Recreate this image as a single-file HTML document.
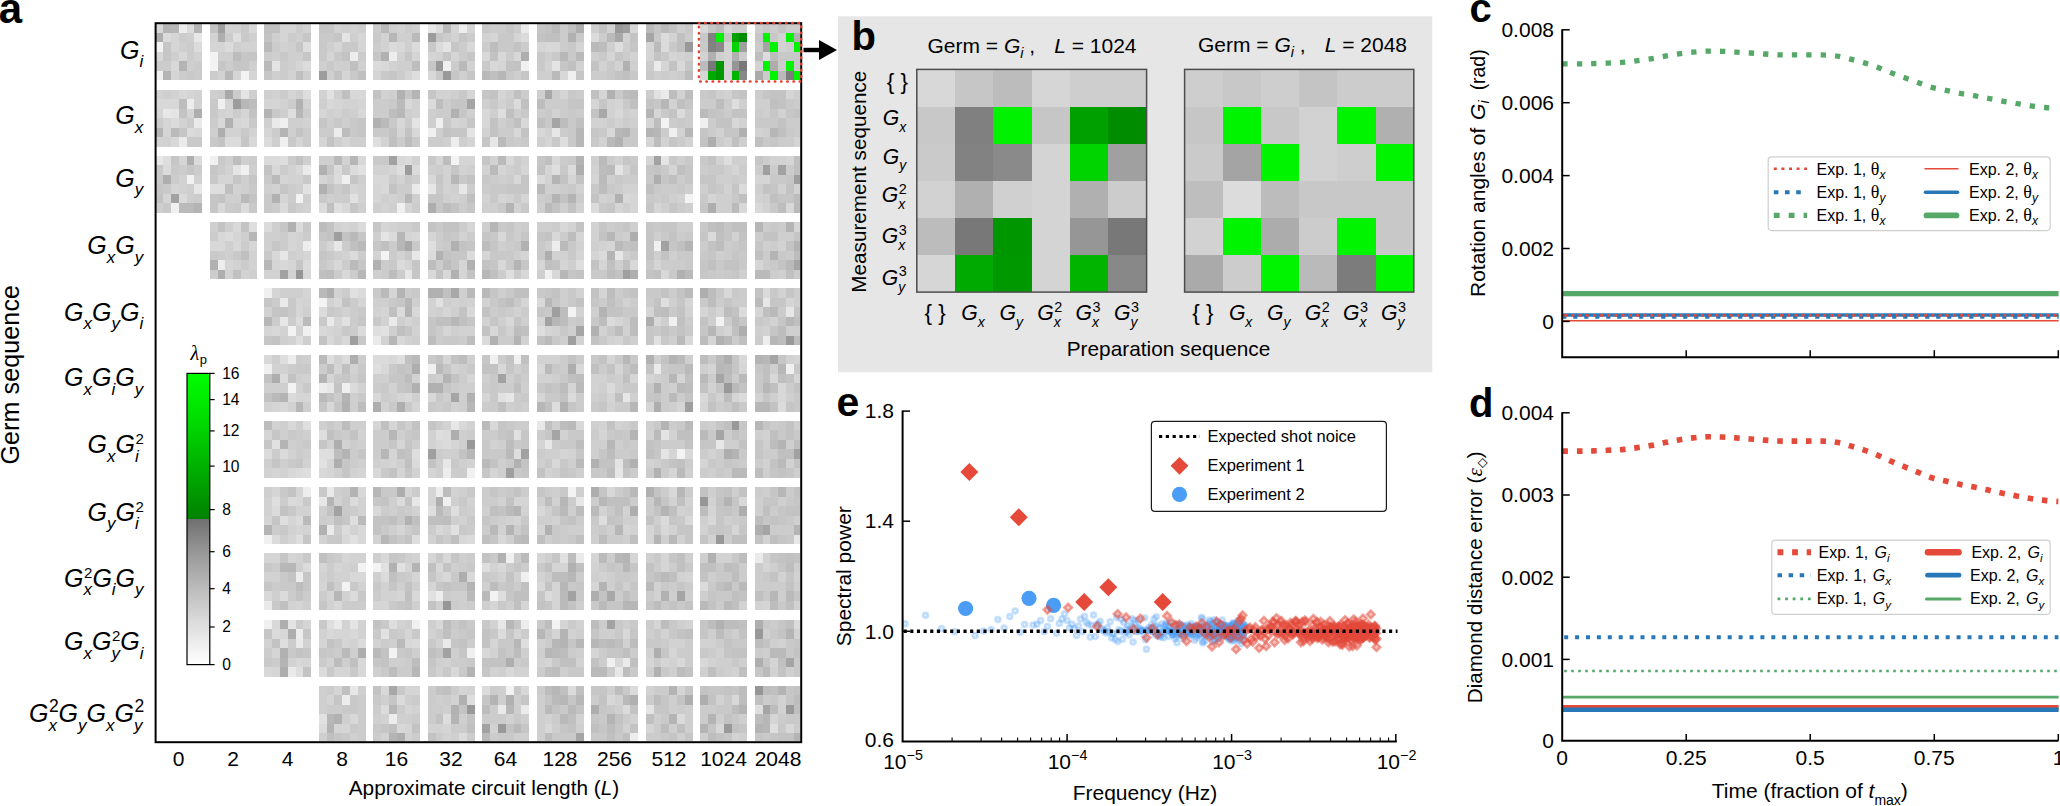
<!DOCTYPE html>
<html><head><meta charset="utf-8"><title>Figure</title>
<style>
html,body{margin:0;padding:0;background:#fff}
svg{display:block}
text{font-family:"Liberation Sans",sans-serif;fill:#000}
.it{font-style:italic}
.sf{font-family:"Liberation Serif",serif}
.ss{font-family:"Liberation Sans",sans-serif}
.b{font-weight:bold}
</style></head><body>
<svg width="2060" height="806" viewBox="0 0 2060 806">
<rect width="2060" height="806" fill="#fff"/>
<g shape-rendering="crispEdges">
<path fill="#d8d8d8" d="M156.4 24H163.1V32.8H156.4zM156.4 51.8H163.1V61.3H156.4zM178.7 51.8H186.5V61.3H178.7zM170.9 61.3H178.7V70.8H170.9zM248.8 24H256.6V32.8H248.8zM396.7 42.3H404.5V51.8H396.7zM381.1 61.3H388.9V70.8H381.1zM466.8 42.3H474.6V51.8H466.8zM427.8 70.8H435.6V80.3H427.8zM482.3 51.8H490.1V61.3H482.3zM497.9 51.8H505.7V61.3H497.9zM513.5 51.8H521.3V61.3H513.5zM490.1 61.3H497.9V70.8H490.1zM544.6 42.3H552.4V51.8H544.6zM552.4 42.3H560.2V51.8H552.4zM560.2 70.8H568V80.3H560.2zM630.3 24H638.1V32.8H630.3zM677 61.3H684.8V70.8H677zM700.3 24H708.1V32.8H700.3zM178.7 89.5H186.5V99H178.7zM156.4 99H163.1V108.5H156.4zM163.1 99H170.9V108.5H163.1zM170.9 99H178.7V108.5H170.9zM194.3 127.5H202.1V137.1H194.3zM170.9 137.1H178.7V146.6H170.9zM217.6 118H225.4V127.5H217.6zM241 118H248.8V127.5H241zM248.8 137.1H256.6V146.6H248.8zM350 89.5H357.8V99H350zM357.8 89.5H365.6V99H357.8zM326.6 99H334.4V108.5H326.6zM357.8 108.5H365.6V118H357.8zM404.5 99H412.3V108.5H404.5zM396.7 118H404.5V127.5H396.7zM412.3 127.5H420.1V137.1H412.3zM482.3 108.5H490.1V118H482.3zM482.3 118H490.1V127.5H482.3zM521.3 118H529.1V127.5H521.3zM513.5 127.5H521.3V137.1H513.5zM536.8 127.5H544.6V137.1H536.8zM614.7 108.5H622.5V118H614.7zM606.9 127.5H614.7V137.1H606.9zM731.5 118H739.3V127.5H731.5zM217.6 203.3H225.4V212.8H217.6zM272.1 165.3H279.9V174.8H272.1zM295.5 165.3H303.3V174.8H295.5zM357.8 155.8H365.6V165.3H357.8zM342.2 203.3H350V212.8H342.2zM396.7 155.8H404.5V165.3H396.7zM373.3 174.8H381.1V184.3H373.3zM381.1 174.8H388.9V184.3H381.1zM381.1 184.3H388.9V193.8H381.1zM427.8 174.8H435.6V184.3H427.8zM505.7 155.8H513.5V165.3H505.7zM513.5 174.8H521.3V184.3H513.5zM552.4 155.8H560.2V165.3H552.4zM622.5 193.8H630.3V203.3H622.5zM739.3 203.3H747.1V212.8H739.3zM754.8 203.3H762.6V212.8H754.8zM786 203.3H793.8V212.8H786zM233.2 222.1H241V231.6H233.2zM217.6 231.6H225.4V241.1H217.6zM209.8 241.1H217.6V250.6H209.8zM217.6 241.1H225.4V250.6H217.6zM233.2 241.1H241V250.6H233.2zM272.1 250.6H279.9V260.1H272.1zM279.9 260.1H287.7V269.6H279.9zM303.3 269.6H311.1V279.1H303.3zM334.4 260.1H342.2V269.6H334.4zM342.2 269.6H350V279.1H342.2zM412.3 231.6H420.1V241.1H412.3zM427.8 269.6H435.6V279.1H427.8zM443.4 269.6H451.2V279.1H443.4zM497.9 231.6H505.7V241.1H497.9zM497.9 260.1H505.7V269.6H497.9zM521.3 269.6H529.1V279.1H521.3zM560.2 222.1H568V231.6H560.2zM552.4 231.6H560.2V241.1H552.4zM552.4 269.6H560.2V279.1H552.4zM630.3 260.1H638.1V269.6H630.3zM661.4 269.6H669.2V279.1H661.4zM272.1 326.3H279.9V335.8H272.1zM334.4 297.8H342.2V307.3H334.4zM318.8 326.3H326.6V335.8H318.8zM326.6 335.8H334.4V345.3H326.6zM342.2 335.8H350V345.3H342.2zM412.3 307.3H420.1V316.8H412.3zM396.7 335.8H404.5V345.3H396.7zM466.8 307.3H474.6V316.8H466.8zM505.7 316.8H513.5V326.3H505.7zM490.1 326.3H497.9V335.8H490.1zM536.8 297.8H544.6V307.3H536.8zM653.6 316.8H661.4V326.3H653.6zM684.8 335.8H692.6V345.3H684.8zM723.7 288.3H731.5V297.8H723.7zM264.3 354.6H272.1V364.1H264.3zM279.9 402.1H287.7V411.6H279.9zM326.6 402.1H334.4V411.6H326.6zM388.9 354.6H396.7V364.1H388.9zM381.1 364.1H388.9V373.6H381.1zM373.3 392.6H381.1V402.1H373.3zM404.5 392.6H412.3V402.1H404.5zM427.8 392.6H435.6V402.1H427.8zM497.9 364.1H505.7V373.6H497.9zM536.8 364.1H544.6V373.6H536.8zM575.8 364.1H583.6V373.6H575.8zM739.3 354.6H747.1V364.1H739.3zM700.3 392.6H708.1V402.1H700.3zM770.4 373.6H778.2V383.1H770.4zM778.2 383.1H786V392.6H778.2zM778.2 392.6H786V402.1H778.2zM287.7 420.8H295.5V430.3H287.7zM287.7 468.3H295.5V477.8H287.7zM318.8 468.3H326.6V477.8H318.8zM373.3 468.3H381.1V477.8H373.3zM459 420.8H466.8V430.3H459zM435.6 439.8H443.4V449.3H435.6zM490.1 420.8H497.9V430.3H490.1zM575.8 420.8H583.6V430.3H575.8zM552.4 458.8H560.2V468.3H552.4zM684.8 449.3H692.6V458.8H684.8zM295.5 496.6H303.3V506.1H295.5zM357.8 487.1H365.6V496.6H357.8zM357.8 525H365.6V534.5H357.8zM342.2 534.5H350V544H342.2zM357.8 534.5H365.6V544H357.8zM373.3 506.1H381.1V515.5H373.3zM435.6 525H443.4V534.5H435.6zM459 534.5H466.8V544H459zM497.9 534.5H505.7V544H497.9zM536.8 506.1H544.6V515.5H536.8zM606.9 487.1H614.7V496.6H606.9zM669.2 487.1H677V496.6H669.2zM684.8 515.5H692.6V525H684.8zM661.4 525H669.2V534.5H661.4zM739.3 496.6H747.1V506.1H739.3zM708.1 515.5H715.9V525H708.1zM264.3 591.3H272.1V600.8H264.3zM350 572.3H357.8V581.8H350zM357.8 572.3H365.6V581.8H357.8zM334.4 600.8H342.2V610.3H334.4zM381.1 553.3H388.9V562.8H381.1zM412.3 591.3H420.1V600.8H412.3zM443.4 553.3H451.2V562.8H443.4zM435.6 562.8H443.4V572.3H435.6zM443.4 572.3H451.2V581.8H443.4zM466.8 572.3H474.6V581.8H466.8zM497.9 562.8H505.7V572.3H497.9zM536.8 581.8H544.6V591.3H536.8zM272.1 619.5H279.9V629H272.1zM279.9 629H287.7V638.5H279.9zM295.5 657.5H303.3V667H295.5zM264.3 667H272.1V676.5H264.3zM326.6 629H334.4V638.5H326.6zM350 629H357.8V638.5H350zM357.8 657.5H365.6V667H357.8zM357.8 667H365.6V676.5H357.8zM404.5 638.5H412.3V648H404.5zM435.6 619.5H443.4V629H435.6zM451.2 667H459V676.5H451.2zM482.3 648H490.1V657.5H482.3zM505.7 667H513.5V676.5H505.7zM622.5 629H630.3V638.5H622.5zM614.7 657.5H622.5V667H614.7zM677 657.5H684.8V667H677zM700.3 657.5H708.1V667H700.3zM350 714.3H357.8V723.8H350zM381.1 685.8H388.9V695.3H381.1zM396.7 723.8H404.5V733.3H396.7zM521.3 685.8H529.1V695.3H521.3zM544.6 723.8H552.4V733.3H544.6zM606.9 695.3H614.7V704.8H606.9zM731.5 695.3H739.3V704.8H731.5zM715.9 723.8H723.7V733.3H715.9zM786 723.8H793.8V733.3H786z"/>
<path fill="#b4b4b4" d="M163.1 24H170.9V32.8H163.1zM194.3 24H202.1V32.8H194.3zM178.7 61.3H186.5V70.8H178.7zM163.1 70.8H170.9V80.3H163.1zM156.4 127.5H163.1V137.1H156.4zM264.3 108.5H272.1V118H264.3zM279.9 127.5H287.7V137.1H279.9zM412.3 89.5H420.1V99H412.3zM622.5 127.5H630.3V137.1H622.5zM645.8 108.5H653.6V118H645.8zM645.8 127.5H653.6V137.1H645.8zM194.3 203.3H202.1V212.8H194.3zM505.7 203.3H513.5V212.8H505.7zM575.8 155.8H583.6V165.3H575.8zM552.4 174.8H560.2V184.3H552.4zM552.4 193.8H560.2V203.3H552.4zM568 193.8H575.8V203.3H568zM513.5 260.1H521.3V269.6H513.5zM606.9 250.6H614.7V260.1H606.9zM684.8 241.1H692.6V250.6H684.8zM786 222.1H793.8V231.6H786zM793.8 241.1H800.4V250.6H793.8zM770.4 250.6H778.2V260.1H770.4zM396.7 288.3H404.5V297.8H396.7zM404.5 307.3H412.3V316.8H404.5zM513.5 335.8H521.3V345.3H513.5zM599.1 307.3H606.9V316.8H599.1zM279.9 392.6H287.7V402.1H279.9zM318.8 373.6H326.6V383.1H318.8zM342.2 392.6H350V402.1H342.2zM443.4 373.6H451.2V383.1H443.4zM669.2 354.6H677V364.1H669.2zM754.8 354.6H762.6V364.1H754.8zM279.9 439.8H287.7V449.3H279.9zM342.2 449.3H350V458.8H342.2zM630.3 430.3H638.1V439.8H630.3zM661.4 420.8H669.2V430.3H661.4zM731.5 449.3H739.3V458.8H731.5zM778.2 439.8H786V449.3H778.2zM264.3 525H272.1V534.5H264.3zM350 487.1H357.8V496.6H350zM326.6 496.6H334.4V506.1H326.6zM513.5 506.1H521.3V515.5H513.5zM505.7 525H513.5V534.5H505.7zM661.4 506.1H669.2V515.5H661.4zM653.6 534.5H661.4V544H653.6zM723.7 496.6H731.5V506.1H723.7zM793.8 525H800.4V534.5H793.8zM412.3 562.8H420.1V572.3H412.3zM466.8 581.8H474.6V591.3H466.8zM622.5 553.3H630.3V562.8H622.5zM599.1 581.8H606.9V591.3H599.1zM279.9 657.5H287.7V667H279.9zM466.8 667H474.6V676.5H466.8zM560.2 629H568V638.5H560.2zM560.2 638.5H568V648H560.2zM786 629H793.8V638.5H786zM326.6 723.8H334.4V733.3H326.6zM388.9 733.3H396.7V741.4H388.9zM451.2 714.3H459V723.8H451.2zM490.1 695.3H497.9V704.8H490.1zM606.9 714.3H614.7V723.8H606.9zM669.2 685.8H677V695.3H669.2zM669.2 714.3H677V723.8H669.2zM739.3 704.8H747.1V714.3H739.3zM708.1 714.3H715.9V723.8H708.1zM700.3 723.8H708.1V733.3H700.3zM778.2 685.8H786V695.3H778.2zM754.8 723.8H762.6V733.3H754.8zM793.8 733.3H800.4V741.4H793.8z"/>
<path fill="#b7b7b7" d="M170.9 24H178.7V32.8H170.9zM225.4 70.8H233.2V80.3H225.4zM388.9 32.8H396.7V42.3H388.9zM497.9 70.8H505.7V80.3H497.9zM560.2 51.8H568V61.3H560.2zM241 99H248.8V108.5H241zM295.5 108.5H303.3V118H295.5zM396.7 108.5H404.5V118H396.7zM575.8 127.5H583.6V137.1H575.8zM575.8 137.1H583.6V146.6H575.8zM614.7 127.5H622.5V137.1H614.7zM661.4 99H669.2V108.5H661.4zM653.6 127.5H661.4V137.1H653.6zM684.8 127.5H692.6V137.1H684.8zM770.4 127.5H778.2V137.1H770.4zM350 155.8H357.8V165.3H350zM404.5 193.8H412.3V203.3H404.5zM451.2 174.8H459V184.3H451.2zM248.8 231.6H256.6V241.1H248.8zM264.3 260.1H272.1V269.6H264.3zM357.8 269.6H365.6V279.1H357.8zM396.7 231.6H404.5V241.1H396.7zM396.7 241.1H404.5V250.6H396.7zM490.1 222.1H497.9V231.6H490.1zM482.3 269.6H490.1V279.1H482.3zM560.2 269.6H568V279.1H560.2zM606.9 231.6H614.7V241.1H606.9zM754.8 222.1H762.6V231.6H754.8zM264.3 316.8H272.1V326.3H264.3zM404.5 297.8H412.3V307.3H404.5zM388.9 335.8H396.7V345.3H388.9zM451.2 316.8H459V326.3H451.2zM544.6 297.8H552.4V307.3H544.6zM552.4 316.8H560.2V326.3H552.4zM708.1 326.3H715.9V335.8H708.1zM786 316.8H793.8V326.3H786zM770.4 335.8H778.2V345.3H770.4zM295.5 402.1H303.3V411.6H295.5zM466.8 402.1H474.6V411.6H466.8zM536.8 402.1H544.6V411.6H536.8zM622.5 354.6H630.3V364.1H622.5zM630.3 402.1H638.1V411.6H630.3zM669.2 373.6H677V383.1H669.2zM715.9 364.1H723.7V373.6H715.9zM762.6 354.6H770.4V364.1H762.6zM778.2 364.1H786V373.6H778.2zM762.6 383.1H770.4V392.6H762.6zM754.8 402.1H762.6V411.6H754.8zM762.6 402.1H770.4V411.6H762.6zM388.9 430.3H396.7V439.8H388.9zM381.1 449.3H388.9V458.8H381.1zM466.8 449.3H474.6V458.8H466.8zM606.9 439.8H614.7V449.3H606.9zM754.8 420.8H762.6V430.3H754.8zM373.3 487.1H381.1V496.6H373.3zM381.1 534.5H388.9V544H381.1zM560.2 496.6H568V506.1H560.2zM599.1 496.6H606.9V506.1H599.1zM614.7 525H622.5V534.5H614.7zM677 487.1H684.8V496.6H677zM653.6 496.6H661.4V506.1H653.6zM778.2 487.1H786V496.6H778.2zM279.9 562.8H287.7V572.3H279.9zM287.7 562.8H295.5V572.3H287.7zM334.4 591.3H342.2V600.8H334.4zM568 572.3H575.8V581.8H568zM560.2 581.8H568V591.3H560.2zM614.7 553.3H622.5V562.8H614.7zM622.5 562.8H630.3V572.3H622.5zM622.5 600.8H630.3V610.3H622.5zM630.3 600.8H638.1V610.3H630.3zM770.4 591.3H778.2V600.8H770.4zM412.3 667H420.1V676.5H412.3zM505.7 619.5H513.5V629H505.7zM513.5 638.5H521.3V648H513.5zM536.8 629H544.6V638.5H536.8zM552.4 638.5H560.2V648H552.4zM575.8 638.5H583.6V648H575.8zM544.6 648H552.4V657.5H544.6zM591.3 638.5H599.1V648H591.3zM326.6 714.3H334.4V723.8H326.6zM388.9 704.8H396.7V714.3H388.9zM505.7 704.8H513.5V714.3H505.7zM552.4 685.8H560.2V695.3H552.4zM560.2 695.3H568V704.8H560.2zM575.8 695.3H583.6V704.8H575.8zM762.6 714.3H770.4V723.8H762.6zM762.6 723.8H770.4V733.3H762.6z"/>
<path fill="#ededed" d="M178.7 24H186.5V32.8H178.7zM350 51.8H357.8V61.3H350zM388.9 51.8H396.7V61.3H388.9zM459 24H466.8V32.8H459zM186.5 99H194.3V108.5H186.5zM334.4 127.5H342.2V137.1H334.4zM451.2 137.1H459V146.6H451.2zM217.6 260.1H225.4V269.6H217.6zM303.3 241.1H311.1V250.6H303.3zM552.4 241.1H560.2V250.6H552.4zM762.6 335.8H770.4V345.3H762.6zM287.7 354.6H295.5V364.1H287.7zM318.8 383.1H326.6V392.6H318.8zM443.4 468.3H451.2V477.8H443.4zM303.3 487.1H311.1V496.6H303.3zM435.6 487.1H443.4V496.6H435.6zM295.5 572.3H303.3V581.8H295.5zM435.6 591.3H443.4V600.8H435.6zM295.5 629H303.3V638.5H295.5zM521.3 619.5H529.1V629H521.3zM342.2 695.3H350V704.8H342.2zM388.9 714.3H396.7V723.8H388.9zM630.3 733.3H638.1V741.4H630.3z"/>
<path fill="#dbdbdb" d="M186.5 24H194.3V32.8H186.5zM163.1 32.8H170.9V42.3H163.1zM194.3 42.3H202.1V51.8H194.3zM225.4 42.3H233.2V51.8H225.4zM303.3 61.3H311.1V70.8H303.3zM388.9 42.3H396.7V51.8H388.9zM412.3 42.3H420.1V51.8H412.3zM373.3 61.3H381.1V70.8H373.3zM435.6 24H443.4V32.8H435.6zM435.6 42.3H443.4V51.8H435.6zM521.3 32.8H529.1V42.3H521.3zM591.3 32.8H599.1V42.3H591.3zM661.4 32.8H669.2V42.3H661.4zM661.4 42.3H669.2V51.8H661.4zM170.9 118H178.7V127.5H170.9zM186.5 127.5H194.3V137.1H186.5zM225.4 137.1H233.2V146.6H225.4zM233.2 137.1H241V146.6H233.2zM264.3 137.1H272.1V146.6H264.3zM427.8 99H435.6V108.5H427.8zM513.5 99H521.3V108.5H513.5zM677 108.5H684.8V118H677zM194.3 155.8H202.1V165.3H194.3zM163.1 165.3H170.9V174.8H163.1zM178.7 193.8H186.5V203.3H178.7zM241 203.3H248.8V212.8H241zM264.3 155.8H272.1V165.3H264.3zM272.1 155.8H279.9V165.3H272.1zM279.9 203.3H287.7V212.8H279.9zM334.4 165.3H342.2V174.8H334.4zM350 165.3H357.8V174.8H350zM334.4 174.8H342.2V184.3H334.4zM318.8 203.3H326.6V212.8H318.8zM404.5 155.8H412.3V165.3H404.5zM412.3 165.3H420.1V174.8H412.3zM568 165.3H575.8V174.8H568zM536.8 174.8H544.6V184.3H536.8zM591.3 203.3H599.1V212.8H591.3zM739.3 184.3H747.1V193.8H739.3zM225.4 231.6H233.2V241.1H225.4zM264.3 222.1H272.1V231.6H264.3zM295.5 222.1H303.3V231.6H295.5zM303.3 260.1H311.1V269.6H303.3zM357.8 222.1H365.6V231.6H357.8zM350 250.6H357.8V260.1H350zM388.9 231.6H396.7V241.1H388.9zM396.7 260.1H404.5V269.6H396.7zM427.8 250.6H435.6V260.1H427.8zM466.8 250.6H474.6V260.1H466.8zM599.1 250.6H606.9V260.1H599.1zM708.1 231.6H715.9V241.1H708.1zM295.5 316.8H303.3V326.3H295.5zM357.8 288.3H365.6V297.8H357.8zM318.8 307.3H326.6V316.8H318.8zM357.8 326.3H365.6V335.8H357.8zM396.7 307.3H404.5V316.8H396.7zM482.3 335.8H490.1V345.3H482.3zM606.9 316.8H614.7V326.3H606.9zM739.3 307.3H747.1V316.8H739.3zM762.6 288.3H770.4V297.8H762.6zM279.9 373.6H287.7V383.1H279.9zM287.7 392.6H295.5V402.1H287.7zM342.2 354.6H350V364.1H342.2zM350 383.1H357.8V392.6H350zM373.3 354.6H381.1V364.1H373.3zM381.1 354.6H388.9V364.1H381.1zM568 392.6H575.8V402.1H568zM606.9 383.1H614.7V392.6H606.9zM739.3 392.6H747.1V402.1H739.3zM778.2 402.1H786V411.6H778.2zM264.3 449.3H272.1V458.8H264.3zM279.9 449.3H287.7V458.8H279.9zM295.5 468.3H303.3V477.8H295.5zM412.3 458.8H420.1V468.3H412.3zM443.4 430.3H451.2V439.8H443.4zM443.4 439.8H451.2V449.3H443.4zM287.7 496.6H295.5V506.1H287.7zM272.1 506.1H279.9V515.5H272.1zM295.5 515.5H303.3V525H295.5zM272.1 534.5H279.9V544H272.1zM350 496.6H357.8V506.1H350zM342.2 525H350V534.5H342.2zM396.7 496.6H404.5V506.1H396.7zM466.8 534.5H474.6V544H466.8zM661.4 515.5H669.2V525H661.4zM303.3 562.8H311.1V572.3H303.3zM279.9 591.3H287.7V600.8H279.9zM350 591.3H357.8V600.8H350zM381.1 572.3H388.9V581.8H381.1zM544.6 591.3H552.4V600.8H544.6zM700.3 581.8H708.1V591.3H700.3zM272.1 629H279.9V638.5H272.1zM357.8 638.5H365.6V648H357.8zM318.8 667H326.6V676.5H318.8zM412.3 638.5H420.1V648H412.3zM497.9 629H505.7V638.5H497.9zM793.8 619.5H800.4V629H793.8zM318.8 723.8H326.6V733.3H318.8zM396.7 695.3H404.5V704.8H396.7zM381.1 704.8H388.9V714.3H381.1zM459 733.3H466.8V741.4H459zM482.3 685.8H490.1V695.3H482.3zM568 685.8H575.8V695.3H568zM630.3 685.8H638.1V695.3H630.3zM622.5 704.8H630.3V714.3H622.5zM677 714.3H684.8V723.8H677z"/>
<path fill="#aeaeae" d="M156.4 32.8H163.1V42.3H156.4zM217.6 32.8H225.4V42.3H217.6zM521.3 51.8H529.1V61.3H521.3zM575.8 24H583.6V32.8H575.8zM194.3 108.5H202.1V118H194.3zM217.6 127.5H225.4V137.1H217.6zM708.1 137.1H715.9V146.6H708.1zM186.5 155.8H194.3V165.3H186.5zM163.1 174.8H170.9V184.3H163.1zM427.8 203.3H435.6V212.8H427.8zM575.8 165.3H583.6V174.8H575.8zM653.6 174.8H661.4V184.3H653.6zM708.1 203.3H715.9V212.8H708.1zM217.6 269.6H225.4V279.1H217.6zM544.6 250.6H552.4V260.1H544.6zM630.3 231.6H638.1V241.1H630.3zM630.3 269.6H638.1V279.1H630.3zM326.6 288.3H334.4V297.8H326.6zM645.8 316.8H653.6V326.3H645.8zM700.3 288.3H708.1V297.8H700.3zM739.3 326.3H747.1V335.8H739.3zM272.1 373.6H279.9V383.1H272.1zM350 354.6H357.8V364.1H350zM412.3 364.1H420.1V373.6H412.3zM373.3 402.1H381.1V411.6H373.3zM396.7 402.1H404.5V411.6H396.7zM568 364.1H575.8V373.6H568zM653.6 402.1H661.4V411.6H653.6zM723.7 354.6H731.5V364.1H723.7zM334.4 439.8H342.2V449.3H334.4zM334.4 458.8H342.2V468.3H334.4zM451.2 430.3H459V439.8H451.2zM723.7 449.3H731.5V458.8H723.7zM396.7 487.1H404.5V496.6H396.7zM435.6 496.6H443.4V506.1H435.6zM591.3 487.1H599.1V496.6H591.3zM630.3 506.1H638.1V515.5H630.3zM739.3 506.1H747.1V515.5H739.3zM754.8 525H762.6V534.5H754.8zM459 572.3H466.8V581.8H459zM591.3 591.3H599.1V600.8H591.3zM279.9 619.5H287.7V629H279.9zM287.7 629H295.5V638.5H287.7zM279.9 667H287.7V676.5H279.9zM357.8 648H365.6V657.5H357.8zM505.7 657.5H513.5V667H505.7zM653.6 648H661.4V657.5H653.6zM754.8 619.5H762.6V629H754.8zM754.8 657.5H762.6V667H754.8zM396.7 733.3H404.5V741.4H396.7zM591.3 704.8H599.1V714.3H591.3zM684.8 695.3H692.6V704.8H684.8zM700.3 695.3H708.1V704.8H700.3z"/>
<path fill="#d5d5d5" d="M170.9 32.8H178.7V42.3H170.9zM170.9 42.3H178.7V51.8H170.9zM170.9 70.8H178.7V80.3H170.9zM209.8 42.3H217.6V51.8H209.8zM217.6 42.3H225.4V51.8H217.6zM233.2 70.8H241V80.3H233.2zM248.8 70.8H256.6V80.3H248.8zM279.9 24H287.7V32.8H279.9zM287.7 24H295.5V32.8H287.7zM279.9 32.8H287.7V42.3H279.9zM295.5 61.3H303.3V70.8H295.5zM357.8 32.8H365.6V42.3H357.8zM334.4 42.3H342.2V51.8H334.4zM357.8 42.3H365.6V51.8H357.8zM326.6 51.8H334.4V61.3H326.6zM342.2 70.8H350V80.3H342.2zM412.3 51.8H420.1V61.3H412.3zM373.3 70.8H381.1V80.3H373.3zM404.5 70.8H412.3V80.3H404.5zM451.2 24H459V32.8H451.2zM466.8 24H474.6V32.8H466.8zM427.8 51.8H435.6V61.3H427.8zM451.2 51.8H459V61.3H451.2zM490.1 32.8H497.9V42.3H490.1zM513.5 32.8H521.3V42.3H513.5zM497.9 61.3H505.7V70.8H497.9zM536.8 42.3H544.6V51.8H536.8zM575.8 42.3H583.6V51.8H575.8zM606.9 51.8H614.7V61.3H606.9zM645.8 42.3H653.6V51.8H645.8zM645.8 51.8H653.6V61.3H645.8zM669.2 51.8H677V61.3H669.2zM661.4 61.3H669.2V70.8H661.4zM186.5 89.5H194.3V99H186.5zM156.4 108.5H163.1V118H156.4zM186.5 108.5H194.3V118H186.5zM163.1 118H170.9V127.5H163.1zM163.1 127.5H170.9V137.1H163.1zM225.4 99H233.2V108.5H225.4zM225.4 108.5H233.2V118H225.4zM241 108.5H248.8V118H241zM233.2 118H241V127.5H233.2zM287.7 89.5H295.5V99H287.7zM264.3 99H272.1V108.5H264.3zM272.1 99H279.9V108.5H272.1zM264.3 127.5H272.1V137.1H264.3zM295.5 137.1H303.3V146.6H295.5zM334.4 99H342.2V108.5H334.4zM357.8 99H365.6V108.5H357.8zM318.8 108.5H326.6V118H318.8zM318.8 137.1H326.6V146.6H318.8zM342.2 137.1H350V146.6H342.2zM396.7 127.5H404.5V137.1H396.7zM466.8 89.5H474.6V99H466.8zM451.2 118H459V127.5H451.2zM466.8 137.1H474.6V146.6H466.8zM497.9 89.5H505.7V99H497.9zM560.2 89.5H568V99H560.2zM544.6 137.1H552.4V146.6H544.6zM599.1 89.5H606.9V99H599.1zM591.3 99H599.1V108.5H591.3zM614.7 99H622.5V108.5H614.7zM653.6 108.5H661.4V118H653.6zM645.8 118H653.6V127.5H645.8zM645.8 137.1H653.6V146.6H645.8zM786 89.5H793.8V99H786zM793.8 137.1H800.4V146.6H793.8zM178.7 155.8H186.5V165.3H178.7zM170.9 184.3H178.7V193.8H170.9zM163.1 193.8H170.9V203.3H163.1zM217.6 174.8H225.4V184.3H217.6zM225.4 174.8H233.2V184.3H225.4zM279.9 174.8H287.7V184.3H279.9zM279.9 193.8H287.7V203.3H279.9zM318.8 174.8H326.6V184.3H318.8zM350 184.3H357.8V193.8H350zM388.9 165.3H396.7V174.8H388.9zM373.3 184.3H381.1V193.8H373.3zM373.3 193.8H381.1V203.3H373.3zM404.5 203.3H412.3V212.8H404.5zM435.6 155.8H443.4V165.3H435.6zM459 155.8H466.8V165.3H459zM466.8 155.8H474.6V165.3H466.8zM497.9 165.3H505.7V174.8H497.9zM521.3 165.3H529.1V174.8H521.3zM497.9 193.8H505.7V203.3H497.9zM521.3 193.8H529.1V203.3H521.3zM544.6 165.3H552.4V174.8H544.6zM568 174.8H575.8V184.3H568zM591.3 174.8H599.1V184.3H591.3zM630.3 193.8H638.1V203.3H630.3zM614.7 203.3H622.5V212.8H614.7zM630.3 203.3H638.1V212.8H630.3zM645.8 155.8H653.6V165.3H645.8zM669.2 165.3H677V174.8H669.2zM653.6 203.3H661.4V212.8H653.6zM731.5 165.3H739.3V174.8H731.5zM708.1 193.8H715.9V203.3H708.1zM786 155.8H793.8V165.3H786zM754.8 174.8H762.6V184.3H754.8zM762.6 174.8H770.4V184.3H762.6zM233.2 231.6H241V241.1H233.2zM248.8 241.1H256.6V250.6H248.8zM225.4 260.1H233.2V269.6H225.4zM287.7 231.6H295.5V241.1H287.7zM287.7 241.1H295.5V250.6H287.7zM303.3 250.6H311.1V260.1H303.3zM272.1 260.1H279.9V269.6H272.1zM287.7 260.1H295.5V269.6H287.7zM342.2 222.1H350V231.6H342.2zM326.6 241.1H334.4V250.6H326.6zM381.1 222.1H388.9V231.6H381.1zM404.5 231.6H412.3V241.1H404.5zM404.5 260.1H412.3V269.6H404.5zM466.8 222.1H474.6V231.6H466.8zM427.8 231.6H435.6V241.1H427.8zM459 260.1H466.8V269.6H459zM459 269.6H466.8V279.1H459zM482.3 250.6H490.1V260.1H482.3zM521.3 250.6H529.1V260.1H521.3zM575.8 231.6H583.6V241.1H575.8zM575.8 250.6H583.6V260.1H575.8zM536.8 260.1H544.6V269.6H536.8zM560.2 260.1H568V269.6H560.2zM606.9 241.1H614.7V250.6H606.9zM591.3 250.6H599.1V260.1H591.3zM599.1 260.1H606.9V269.6H599.1zM653.6 260.1H661.4V269.6H653.6zM793.8 222.1H800.4V231.6H793.8zM754.8 260.1H762.6V269.6H754.8zM272.1 288.3H279.9V297.8H272.1zM303.3 288.3H311.1V297.8H303.3zM295.5 297.8H303.3V307.3H295.5zM295.5 307.3H303.3V316.8H295.5zM264.3 326.3H272.1V335.8H264.3zM357.8 297.8H365.6V307.3H357.8zM334.4 316.8H342.2V326.3H334.4zM326.6 326.3H334.4V335.8H326.6zM388.9 288.3H396.7V297.8H388.9zM381.1 307.3H388.9V316.8H381.1zM404.5 316.8H412.3V326.3H404.5zM443.4 307.3H451.2V316.8H443.4zM443.4 326.3H451.2V335.8H443.4zM521.3 297.8H529.1V307.3H521.3zM536.8 316.8H544.6V326.3H536.8zM544.6 326.3H552.4V335.8H544.6zM599.1 288.3H606.9V297.8H599.1zM614.7 316.8H622.5V326.3H614.7zM614.7 335.8H622.5V345.3H614.7zM684.8 297.8H692.6V307.3H684.8zM645.8 307.3H653.6V316.8H645.8zM700.3 307.3H708.1V316.8H700.3zM715.9 307.3H723.7V316.8H715.9zM723.7 326.3H731.5V335.8H723.7zM708.1 335.8H715.9V345.3H708.1zM786 297.8H793.8V307.3H786zM754.8 307.3H762.6V316.8H754.8zM295.5 392.6H303.3V402.1H295.5zM303.3 392.6H311.1V402.1H303.3zM272.1 402.1H279.9V411.6H272.1zM334.4 364.1H342.2V373.6H334.4zM326.6 373.6H334.4V383.1H326.6zM396.7 392.6H404.5V402.1H396.7zM412.3 402.1H420.1V411.6H412.3zM443.4 354.6H451.2V364.1H443.4zM466.8 373.6H474.6V383.1H466.8zM482.3 392.6H490.1V402.1H482.3zM568 383.1H575.8V392.6H568zM536.8 392.6H544.6V402.1H536.8zM606.9 354.6H614.7V364.1H606.9zM614.7 364.1H622.5V373.6H614.7zM630.3 373.6H638.1V383.1H630.3zM606.9 392.6H614.7V402.1H606.9zM645.8 373.6H653.6V383.1H645.8zM677 373.6H684.8V383.1H677zM645.8 402.1H653.6V411.6H645.8zM677 402.1H684.8V411.6H677zM708.1 364.1H715.9V373.6H708.1zM739.3 364.1H747.1V373.6H739.3zM731.5 392.6H739.3V402.1H731.5zM700.3 402.1H708.1V411.6H700.3zM793.8 354.6H800.4V364.1H793.8zM793.8 373.6H800.4V383.1H793.8zM264.3 430.3H272.1V439.8H264.3zM272.1 468.3H279.9V477.8H272.1zM326.6 458.8H334.4V468.3H326.6zM326.6 468.3H334.4V477.8H326.6zM357.8 468.3H365.6V477.8H357.8zM373.3 420.8H381.1V430.3H373.3zM388.9 420.8H396.7V430.3H388.9zM396.7 439.8H404.5V449.3H396.7zM388.9 449.3H396.7V458.8H388.9zM388.9 458.8H396.7V468.3H388.9zM396.7 468.3H404.5V477.8H396.7zM451.2 439.8H459V449.3H451.2zM427.8 468.3H435.6V477.8H427.8zM490.1 468.3H497.9V477.8H490.1zM536.8 439.8H544.6V449.3H536.8zM560.2 449.3H568V458.8H560.2zM599.1 430.3H606.9V439.8H599.1zM669.2 449.3H677V458.8H669.2zM669.2 468.3H677V477.8H669.2zM700.3 458.8H708.1V468.3H700.3zM272.1 487.1H279.9V496.6H272.1zM295.5 487.1H303.3V496.6H295.5zM264.3 515.5H272.1V525H264.3zM287.7 515.5H295.5V525H287.7zM295.5 525H303.3V534.5H295.5zM287.7 534.5H295.5V544H287.7zM404.5 487.1H412.3V496.6H404.5zM396.7 525H404.5V534.5H396.7zM427.8 487.1H435.6V496.6H427.8zM427.8 496.6H435.6V506.1H427.8zM513.5 496.6H521.3V506.1H513.5zM521.3 496.6H529.1V506.1H521.3zM513.5 515.5H521.3V525H513.5zM536.8 525H544.6V534.5H536.8zM622.5 525H630.3V534.5H622.5zM645.8 525H653.6V534.5H645.8zM645.8 534.5H653.6V544H645.8zM708.1 506.1H715.9V515.5H708.1zM731.5 525H739.3V534.5H731.5zM264.3 553.3H272.1V562.8H264.3zM272.1 553.3H279.9V562.8H272.1zM287.7 553.3H295.5V562.8H287.7zM295.5 600.8H303.3V610.3H295.5zM342.2 553.3H350V562.8H342.2zM318.8 562.8H326.6V572.3H318.8zM334.4 562.8H342.2V572.3H334.4zM318.8 581.8H326.6V591.3H318.8zM326.6 591.3H334.4V600.8H326.6zM404.5 562.8H412.3V572.3H404.5zM412.3 572.3H420.1V581.8H412.3zM396.7 591.3H404.5V600.8H396.7zM373.3 600.8H381.1V610.3H373.3zM381.1 600.8H388.9V610.3H381.1zM427.8 553.3H435.6V562.8H427.8zM427.8 581.8H435.6V591.3H427.8zM490.1 600.8H497.9V610.3H490.1zM521.3 600.8H529.1V610.3H521.3zM536.8 553.3H544.6V562.8H536.8zM552.4 562.8H560.2V572.3H552.4zM560.2 562.8H568V572.3H560.2zM552.4 581.8H560.2V591.3H552.4zM552.4 591.3H560.2V600.8H552.4zM552.4 600.8H560.2V610.3H552.4zM591.3 553.3H599.1V562.8H591.3zM630.3 553.3H638.1V562.8H630.3zM591.3 581.8H599.1V591.3H591.3zM661.4 553.3H669.2V562.8H661.4zM661.4 562.8H669.2V572.3H661.4zM684.8 572.3H692.6V581.8H684.8zM762.6 562.8H770.4V572.3H762.6zM762.6 600.8H770.4V610.3H762.6zM303.3 619.5H311.1V629H303.3zM272.1 648H279.9V657.5H272.1zM303.3 657.5H311.1V667H303.3zM272.1 667H279.9V676.5H272.1zM334.4 629H342.2V638.5H334.4zM342.2 629H350V638.5H342.2zM318.8 638.5H326.6V648H318.8zM342.2 638.5H350V648H342.2zM334.4 667H342.2V676.5H334.4zM342.2 667H350V676.5H342.2zM404.5 629H412.3V638.5H404.5zM513.5 629H521.3V638.5H513.5zM490.1 638.5H497.9V648H490.1zM560.2 619.5H568V629H560.2zM552.4 629H560.2V638.5H552.4zM544.6 657.5H552.4V667H544.6zM591.3 648H599.1V657.5H591.3zM653.6 619.5H661.4V629H653.6zM669.2 648H677V657.5H669.2zM645.8 657.5H653.6V667H645.8zM661.4 657.5H669.2V667H661.4zM770.4 657.5H778.2V667H770.4zM334.4 685.8H342.2V695.3H334.4zM326.6 695.3H334.4V704.8H326.6zM334.4 723.8H342.2V733.3H334.4zM342.2 723.8H350V733.3H342.2zM404.5 685.8H412.3V695.3H404.5zM412.3 685.8H420.1V695.3H412.3zM404.5 704.8H412.3V714.3H404.5zM404.5 723.8H412.3V733.3H404.5zM459 685.8H466.8V695.3H459zM443.4 723.8H451.2V733.3H443.4zM677 685.8H684.8V695.3H677zM645.8 723.8H653.6V733.3H645.8zM770.4 714.3H778.2V723.8H770.4z"/>
<path fill="#cccccc" d="M178.7 32.8H186.5V42.3H178.7zM186.5 42.3H194.3V51.8H186.5zM186.5 51.8H194.3V61.3H186.5zM156.4 61.3H163.1V70.8H156.4zM163.1 61.3H170.9V70.8H163.1zM194.3 61.3H202.1V70.8H194.3zM178.7 70.8H186.5V80.3H178.7zM194.3 70.8H202.1V80.3H194.3zM225.4 32.8H233.2V42.3H225.4zM225.4 61.3H233.2V70.8H225.4zM209.8 70.8H217.6V80.3H209.8zM295.5 24H303.3V32.8H295.5zM287.7 32.8H295.5V42.3H287.7zM272.1 42.3H279.9V51.8H272.1zM264.3 51.8H272.1V61.3H264.3zM279.9 61.3H287.7V70.8H279.9zM279.9 70.8H287.7V80.3H279.9zM357.8 51.8H365.6V61.3H357.8zM373.3 24H381.1V32.8H373.3zM404.5 24H412.3V32.8H404.5zM373.3 42.3H381.1V51.8H373.3zM396.7 70.8H404.5V80.3H396.7zM443.4 32.8H451.2V42.3H443.4zM466.8 32.8H474.6V42.3H466.8zM459 42.3H466.8V51.8H459zM459 51.8H466.8V61.3H459zM451.2 61.3H459V70.8H451.2zM490.1 24H497.9V32.8H490.1zM497.9 24H505.7V32.8H497.9zM513.5 24H521.3V32.8H513.5zM482.3 42.3H490.1V51.8H482.3zM521.3 42.3H529.1V51.8H521.3zM505.7 51.8H513.5V61.3H505.7zM560.2 24H568V32.8H560.2zM560.2 32.8H568V42.3H560.2zM560.2 42.3H568V51.8H560.2zM599.1 32.8H606.9V42.3H599.1zM622.5 51.8H630.3V61.3H622.5zM591.3 70.8H599.1V80.3H591.3zM599.1 70.8H606.9V80.3H599.1zM684.8 32.8H692.6V42.3H684.8zM645.8 61.3H653.6V70.8H645.8zM661.4 70.8H669.2V80.3H661.4zM677 70.8H684.8V80.3H677zM739.3 51.8H747.1V61.3H739.3zM786 24H793.8V32.8H786zM793.8 24H800.4V32.8H793.8zM778.2 61.3H786V70.8H778.2zM762.6 70.8H770.4V80.3H762.6zM156.4 118H163.1V127.5H156.4zM186.5 118H194.3V127.5H186.5zM217.6 89.5H225.4V99H217.6zM233.2 89.5H241V99H233.2zM233.2 108.5H241V118H233.2zM209.8 118H217.6V127.5H209.8zM279.9 89.5H287.7V99H279.9zM287.7 99H295.5V108.5H287.7zM303.3 108.5H311.1V118H303.3zM272.1 127.5H279.9V137.1H272.1zM303.3 127.5H311.1V137.1H303.3zM303.3 137.1H311.1V146.6H303.3zM342.2 108.5H350V118H342.2zM318.8 127.5H326.6V137.1H318.8zM326.6 127.5H334.4V137.1H326.6zM373.3 99H381.1V108.5H373.3zM381.1 99H388.9V108.5H381.1zM373.3 108.5H381.1V118H373.3zM381.1 108.5H388.9V118H381.1zM404.5 118H412.3V127.5H404.5zM396.7 137.1H404.5V146.6H396.7zM443.4 99H451.2V108.5H443.4zM435.6 108.5H443.4V118H435.6zM443.4 108.5H451.2V118H443.4zM427.8 137.1H435.6V146.6H427.8zM435.6 137.1H443.4V146.6H435.6zM521.3 89.5H529.1V99H521.3zM505.7 99H513.5V108.5H505.7zM497.9 127.5H505.7V137.1H497.9zM505.7 127.5H513.5V137.1H505.7zM513.5 137.1H521.3V146.6H513.5zM552.4 89.5H560.2V99H552.4zM575.8 89.5H583.6V99H575.8zM544.6 99H552.4V108.5H544.6zM552.4 99H560.2V108.5H552.4zM560.2 99H568V108.5H560.2zM536.8 108.5H544.6V118H536.8zM560.2 108.5H568V118H560.2zM575.8 108.5H583.6V118H575.8zM560.2 127.5H568V137.1H560.2zM606.9 118H614.7V127.5H606.9zM622.5 118H630.3V127.5H622.5zM645.8 89.5H653.6V99H645.8zM684.8 108.5H692.6V118H684.8zM669.2 118H677V127.5H669.2zM684.8 118H692.6V127.5H684.8zM661.4 127.5H669.2V137.1H661.4zM677 137.1H684.8V146.6H677zM700.3 99H708.1V108.5H700.3zM708.1 99H715.9V108.5H708.1zM723.7 99H731.5V108.5H723.7zM723.7 108.5H731.5V118H723.7zM708.1 118H715.9V127.5H708.1zM708.1 127.5H715.9V137.1H708.1zM715.9 137.1H723.7V146.6H715.9zM754.8 89.5H762.6V99H754.8zM793.8 99H800.4V108.5H793.8zM754.8 108.5H762.6V118H754.8zM786 118H793.8V127.5H786zM793.8 118H800.4V127.5H793.8zM793.8 127.5H800.4V137.1H793.8zM778.2 137.1H786V146.6H778.2zM786 137.1H793.8V146.6H786zM178.7 165.3H186.5V174.8H178.7zM194.3 165.3H202.1V174.8H194.3zM170.9 174.8H178.7V184.3H170.9zM194.3 193.8H202.1V203.3H194.3zM248.8 155.8H256.6V165.3H248.8zM217.6 165.3H225.4V174.8H217.6zM225.4 203.3H233.2V212.8H225.4zM287.7 155.8H295.5V165.3H287.7zM279.9 165.3H287.7V174.8H279.9zM287.7 184.3H295.5V193.8H287.7zM287.7 193.8H295.5V203.3H287.7zM272.1 203.3H279.9V212.8H272.1zM334.4 184.3H342.2V193.8H334.4zM334.4 193.8H342.2V203.3H334.4zM342.2 193.8H350V203.3H342.2zM388.9 174.8H396.7V184.3H388.9zM396.7 184.3H404.5V193.8H396.7zM404.5 184.3H412.3V193.8H404.5zM412.3 203.3H420.1V212.8H412.3zM435.6 165.3H443.4V174.8H435.6zM466.8 184.3H474.6V193.8H466.8zM459 203.3H466.8V212.8H459zM513.5 155.8H521.3V165.3H513.5zM513.5 165.3H521.3V174.8H513.5zM490.1 174.8H497.9V184.3H490.1zM505.7 174.8H513.5V184.3H505.7zM482.3 184.3H490.1V193.8H482.3zM560.2 155.8H568V165.3H560.2zM560.2 184.3H568V193.8H560.2zM536.8 193.8H544.6V203.3H536.8zM575.8 193.8H583.6V203.3H575.8zM606.9 155.8H614.7V165.3H606.9zM622.5 174.8H630.3V184.3H622.5zM630.3 174.8H638.1V184.3H630.3zM614.7 184.3H622.5V193.8H614.7zM677 174.8H684.8V184.3H677zM661.4 184.3H669.2V193.8H661.4zM669.2 184.3H677V193.8H669.2zM653.6 193.8H661.4V203.3H653.6zM677 203.3H684.8V212.8H677zM700.3 165.3H708.1V174.8H700.3zM739.3 165.3H747.1V174.8H739.3zM731.5 174.8H739.3V184.3H731.5zM762.6 155.8H770.4V165.3H762.6zM754.8 165.3H762.6V174.8H754.8zM770.4 165.3H778.2V174.8H770.4zM786 165.3H793.8V174.8H786zM209.8 231.6H217.6V241.1H209.8zM241 241.1H248.8V250.6H241zM217.6 250.6H225.4V260.1H217.6zM241 260.1H248.8V269.6H241zM209.8 269.6H217.6V279.1H209.8zM279.9 231.6H287.7V241.1H279.9zM303.3 231.6H311.1V241.1H303.3zM279.9 241.1H287.7V250.6H279.9zM318.8 241.1H326.6V250.6H318.8zM342.2 241.1H350V250.6H342.2zM357.8 250.6H365.6V260.1H357.8zM342.2 260.1H350V269.6H342.2zM334.4 269.6H342.2V279.1H334.4zM350 269.6H357.8V279.1H350zM388.9 241.1H396.7V250.6H388.9zM388.9 250.6H396.7V260.1H388.9zM381.1 260.1H388.9V269.6H381.1zM381.1 269.6H388.9V279.1H381.1zM396.7 269.6H404.5V279.1H396.7zM459 222.1H466.8V231.6H459zM435.6 231.6H443.4V241.1H435.6zM466.8 231.6H474.6V241.1H466.8zM435.6 241.1H443.4V250.6H435.6zM435.6 260.1H443.4V269.6H435.6zM521.3 222.1H529.1V231.6H521.3zM505.7 241.1H513.5V250.6H505.7zM497.9 269.6H505.7V279.1H497.9zM513.5 269.6H521.3V279.1H513.5zM552.4 222.1H560.2V231.6H552.4zM560.2 231.6H568V241.1H560.2zM606.9 222.1H614.7V231.6H606.9zM614.7 231.6H622.5V241.1H614.7zM677 231.6H684.8V241.1H677zM661.4 260.1H669.2V269.6H661.4zM669.2 260.1H677V269.6H669.2zM677 260.1H684.8V269.6H677zM700.3 241.1H708.1V250.6H700.3zM723.7 241.1H731.5V250.6H723.7zM723.7 250.6H731.5V260.1H723.7zM715.9 269.6H723.7V279.1H715.9zM762.6 222.1H770.4V231.6H762.6zM778.2 222.1H786V231.6H778.2zM754.8 231.6H762.6V241.1H754.8zM770.4 241.1H778.2V250.6H770.4zM762.6 250.6H770.4V260.1H762.6zM786 250.6H793.8V260.1H786zM762.6 260.1H770.4V269.6H762.6zM770.4 269.6H778.2V279.1H770.4zM793.8 269.6H800.4V279.1H793.8zM272.1 297.8H279.9V307.3H272.1zM272.1 316.8H279.9V326.3H272.1zM287.7 316.8H295.5V326.3H287.7zM342.2 288.3H350V297.8H342.2zM350 297.8H357.8V307.3H350zM334.4 307.3H342.2V316.8H334.4zM350 307.3H357.8V316.8H350zM350 316.8H357.8V326.3H350zM350 326.3H357.8V335.8H350zM404.5 288.3H412.3V297.8H404.5zM435.6 326.3H443.4V335.8H435.6zM435.6 335.8H443.4V345.3H435.6zM459 335.8H466.8V345.3H459zM490.1 307.3H497.9V316.8H490.1zM505.7 307.3H513.5V316.8H505.7zM521.3 307.3H529.1V316.8H521.3zM497.9 335.8H505.7V345.3H497.9zM505.7 335.8H513.5V345.3H505.7zM568 316.8H575.8V326.3H568zM614.7 288.3H622.5V297.8H614.7zM599.1 297.8H606.9V307.3H599.1zM630.3 297.8H638.1V307.3H630.3zM669.2 288.3H677V297.8H669.2zM645.8 297.8H653.6V307.3H645.8zM684.8 316.8H692.6V326.3H684.8zM739.3 288.3H747.1V297.8H739.3zM715.9 297.8H723.7V307.3H715.9zM731.5 297.8H739.3V307.3H731.5zM739.3 297.8H747.1V307.3H739.3zM708.1 307.3H715.9V316.8H708.1zM723.7 316.8H731.5V326.3H723.7zM731.5 335.8H739.3V345.3H731.5zM778.2 307.3H786V316.8H778.2zM762.6 316.8H770.4V326.3H762.6zM754.8 335.8H762.6V345.3H754.8zM295.5 354.6H303.3V364.1H295.5zM287.7 364.1H295.5V373.6H287.7zM357.8 354.6H365.6V364.1H357.8zM318.8 364.1H326.6V373.6H318.8zM334.4 392.6H342.2V402.1H334.4zM373.3 383.1H381.1V392.6H373.3zM381.1 392.6H388.9V402.1H381.1zM427.8 373.6H435.6V383.1H427.8zM459 373.6H466.8V383.1H459zM451.2 383.1H459V392.6H451.2zM435.6 402.1H443.4V411.6H435.6zM497.9 354.6H505.7V364.1H497.9zM521.3 373.6H529.1V383.1H521.3zM482.3 383.1H490.1V392.6H482.3zM497.9 383.1H505.7V392.6H497.9zM505.7 383.1H513.5V392.6H505.7zM513.5 392.6H521.3V402.1H513.5zM482.3 402.1H490.1V411.6H482.3zM490.1 402.1H497.9V411.6H490.1zM513.5 402.1H521.3V411.6H513.5zM560.2 354.6H568V364.1H560.2zM575.8 354.6H583.6V364.1H575.8zM560.2 364.1H568V373.6H560.2zM575.8 392.6H583.6V402.1H575.8zM575.8 402.1H583.6V411.6H575.8zM599.1 364.1H606.9V373.6H599.1zM606.9 373.6H614.7V383.1H606.9zM599.1 392.6H606.9V402.1H599.1zM614.7 402.1H622.5V411.6H614.7zM622.5 402.1H630.3V411.6H622.5zM661.4 373.6H669.2V383.1H661.4zM661.4 383.1H669.2V392.6H661.4zM661.4 392.6H669.2V402.1H661.4zM677 392.6H684.8V402.1H677zM661.4 402.1H669.2V411.6H661.4zM708.1 373.6H715.9V383.1H708.1zM731.5 373.6H739.3V383.1H731.5zM715.9 402.1H723.7V411.6H715.9zM786 383.1H793.8V392.6H786zM295.5 430.3H303.3V439.8H295.5zM295.5 439.8H303.3V449.3H295.5zM272.1 449.3H279.9V458.8H272.1zM295.5 449.3H303.3V458.8H295.5zM342.2 430.3H350V439.8H342.2zM350 439.8H357.8V449.3H350zM350 449.3H357.8V458.8H350zM350 458.8H357.8V468.3H350zM373.3 430.3H381.1V439.8H373.3zM381.1 430.3H388.9V439.8H381.1zM373.3 439.8H381.1V449.3H373.3zM381.1 439.8H388.9V449.3H381.1zM373.3 449.3H381.1V458.8H373.3zM435.6 420.8H443.4V430.3H435.6zM466.8 430.3H474.6V439.8H466.8zM435.6 449.3H443.4V458.8H435.6zM451.2 468.3H459V477.8H451.2zM459 468.3H466.8V477.8H459zM513.5 420.8H521.3V430.3H513.5zM521.3 420.8H529.1V430.3H521.3zM482.3 430.3H490.1V439.8H482.3zM490.1 430.3H497.9V439.8H490.1zM536.8 430.3H544.6V439.8H536.8zM552.4 439.8H560.2V449.3H552.4zM536.8 449.3H544.6V458.8H536.8zM591.3 430.3H599.1V439.8H591.3zM630.3 439.8H638.1V449.3H630.3zM614.7 449.3H622.5V458.8H614.7zM622.5 449.3H630.3V458.8H622.5zM630.3 468.3H638.1V477.8H630.3zM669.2 420.8H677V430.3H669.2zM661.4 439.8H669.2V449.3H661.4zM669.2 439.8H677V449.3H669.2zM677 439.8H684.8V449.3H677zM684.8 458.8H692.6V468.3H684.8zM645.8 468.3H653.6V477.8H645.8zM661.4 468.3H669.2V477.8H661.4zM700.3 420.8H708.1V430.3H700.3zM723.7 430.3H731.5V439.8H723.7zM700.3 449.3H708.1V458.8H700.3zM715.9 449.3H723.7V458.8H715.9zM715.9 458.8H723.7V468.3H715.9zM739.3 458.8H747.1V468.3H739.3zM700.3 468.3H708.1V477.8H700.3zM723.7 468.3H731.5V477.8H723.7zM770.4 420.8H778.2V430.3H770.4zM762.6 449.3H770.4V458.8H762.6zM770.4 449.3H778.2V458.8H770.4zM754.8 458.8H762.6V468.3H754.8zM279.9 496.6H287.7V506.1H279.9zM272.1 525H279.9V534.5H272.1zM342.2 487.1H350V496.6H342.2zM350 506.1H357.8V515.5H350zM318.8 515.5H326.6V525H318.8zM334.4 525H342.2V534.5H334.4zM412.3 487.1H420.1V496.6H412.3zM381.1 506.1H388.9V515.5H381.1zM404.5 506.1H412.3V515.5H404.5zM404.5 525H412.3V534.5H404.5zM459 506.1H466.8V515.5H459zM427.8 525H435.6V534.5H427.8zM466.8 525H474.6V534.5H466.8zM443.4 534.5H451.2V544H443.4zM482.3 487.1H490.1V496.6H482.3zM497.9 487.1H505.7V496.6H497.9zM521.3 487.1H529.1V496.6H521.3zM482.3 496.6H490.1V506.1H482.3zM490.1 496.6H497.9V506.1H490.1zM490.1 515.5H497.9V525H490.1zM482.3 525H490.1V534.5H482.3zM513.5 525H521.3V534.5H513.5zM544.6 487.1H552.4V496.6H544.6zM568 496.6H575.8V506.1H568zM575.8 515.5H583.6V525H575.8zM560.2 525H568V534.5H560.2zM560.2 534.5H568V544H560.2zM614.7 487.1H622.5V496.6H614.7zM591.3 496.6H599.1V506.1H591.3zM630.3 496.6H638.1V506.1H630.3zM591.3 525H599.1V534.5H591.3zM606.9 534.5H614.7V544H606.9zM614.7 534.5H622.5V544H614.7zM661.4 487.1H669.2V496.6H661.4zM684.8 487.1H692.6V496.6H684.8zM645.8 496.6H653.6V506.1H645.8zM645.8 506.1H653.6V515.5H645.8zM731.5 515.5H739.3V525H731.5zM723.7 534.5H731.5V544H723.7zM754.8 487.1H762.6V496.6H754.8zM786 487.1H793.8V496.6H786zM770.4 506.1H778.2V515.5H770.4zM770.4 525H778.2V534.5H770.4zM778.2 525H786V534.5H778.2zM786 525H793.8V534.5H786zM272.1 562.8H279.9V572.3H272.1zM272.1 581.8H279.9V591.3H272.1zM287.7 591.3H295.5V600.8H287.7zM303.3 591.3H311.1V600.8H303.3zM334.4 553.3H342.2V562.8H334.4zM326.6 562.8H334.4V572.3H326.6zM326.6 572.3H334.4V581.8H326.6zM318.8 591.3H326.6V600.8H318.8zM342.2 600.8H350V610.3H342.2zM350 600.8H357.8V610.3H350zM357.8 600.8H365.6V610.3H357.8zM404.5 572.3H412.3V581.8H404.5zM373.3 591.3H381.1V600.8H373.3zM466.8 553.3H474.6V562.8H466.8zM459 562.8H466.8V572.3H459zM443.4 591.3H451.2V600.8H443.4zM451.2 600.8H459V610.3H451.2zM466.8 600.8H474.6V610.3H466.8zM513.5 553.3H521.3V562.8H513.5zM505.7 562.8H513.5V572.3H505.7zM521.3 562.8H529.1V572.3H521.3zM490.1 572.3H497.9V581.8H490.1zM513.5 581.8H521.3V591.3H513.5zM544.6 572.3H552.4V581.8H544.6zM575.8 572.3H583.6V581.8H575.8zM606.9 553.3H614.7V562.8H606.9zM599.1 562.8H606.9V572.3H599.1zM630.3 572.3H638.1V581.8H630.3zM614.7 591.3H622.5V600.8H614.7zM653.6 562.8H661.4V572.3H653.6zM669.2 562.8H677V572.3H669.2zM669.2 581.8H677V591.3H669.2zM684.8 581.8H692.6V591.3H684.8zM645.8 591.3H653.6V600.8H645.8zM739.3 562.8H747.1V572.3H739.3zM739.3 572.3H747.1V581.8H739.3zM715.9 600.8H723.7V610.3H715.9zM754.8 562.8H762.6V572.3H754.8zM754.8 572.3H762.6V581.8H754.8zM754.8 581.8H762.6V591.3H754.8zM762.6 581.8H770.4V591.3H762.6zM770.4 581.8H778.2V591.3H770.4zM778.2 581.8H786V591.3H778.2zM295.5 619.5H303.3V629H295.5zM287.7 638.5H295.5V648H287.7zM264.3 648H272.1V657.5H264.3zM272.1 657.5H279.9V667H272.1zM334.4 648H342.2V657.5H334.4zM318.8 657.5H326.6V667H318.8zM396.7 629H404.5V638.5H396.7zM381.1 638.5H388.9V648H381.1zM404.5 657.5H412.3V667H404.5zM396.7 667H404.5V676.5H396.7zM404.5 667H412.3V676.5H404.5zM435.6 629H443.4V638.5H435.6zM451.2 629H459V638.5H451.2zM466.8 638.5H474.6V648H466.8zM451.2 657.5H459V667H451.2zM459 657.5H466.8V667H459zM521.3 629H529.1V638.5H521.3zM513.5 657.5H521.3V667H513.5zM568 619.5H575.8V629H568zM544.6 638.5H552.4V648H544.6zM568 648H575.8V657.5H568zM536.8 667H544.6V676.5H536.8zM599.1 619.5H606.9V629H599.1zM599.1 648H606.9V657.5H599.1zM630.3 648H638.1V657.5H630.3zM599.1 657.5H606.9V667H599.1zM606.9 667H614.7V676.5H606.9zM645.8 619.5H653.6V629H645.8zM661.4 638.5H669.2V648H661.4zM684.8 638.5H692.6V648H684.8zM677 648H684.8V657.5H677zM684.8 648H692.6V657.5H684.8zM653.6 657.5H661.4V667H653.6zM684.8 657.5H692.6V667H684.8zM715.9 638.5H723.7V648H715.9zM708.1 648H715.9V657.5H708.1zM715.9 667H723.7V676.5H715.9zM770.4 619.5H778.2V629H770.4zM754.8 648H762.6V657.5H754.8zM326.6 685.8H334.4V695.3H326.6zM357.8 695.3H365.6V704.8H357.8zM326.6 704.8H334.4V714.3H326.6zM334.4 704.8H342.2V714.3H334.4zM357.8 704.8H365.6V714.3H357.8zM357.8 714.3H365.6V723.8H357.8zM357.8 723.8H365.6V733.3H357.8zM357.8 733.3H365.6V741.4H357.8zM412.3 695.3H420.1V704.8H412.3zM373.3 704.8H381.1V714.3H373.3zM396.7 704.8H404.5V714.3H396.7zM412.3 714.3H420.1V723.8H412.3zM373.3 733.3H381.1V741.4H373.3zM412.3 733.3H420.1V741.4H412.3zM427.8 685.8H435.6V695.3H427.8zM451.2 685.8H459V695.3H451.2zM427.8 695.3H435.6V704.8H427.8zM443.4 695.3H451.2V704.8H443.4zM427.8 704.8H435.6V714.3H427.8zM435.6 704.8H443.4V714.3H435.6zM427.8 714.3H435.6V723.8H427.8zM451.2 723.8H459V733.3H451.2zM459 723.8H466.8V733.3H459zM435.6 733.3H443.4V741.4H435.6zM466.8 733.3H474.6V741.4H466.8zM490.1 685.8H497.9V695.3H490.1zM490.1 704.8H497.9V714.3H490.1zM482.3 714.3H490.1V723.8H482.3zM490.1 714.3H497.9V723.8H490.1zM497.9 714.3H505.7V723.8H497.9zM490.1 733.3H497.9V741.4H490.1zM536.8 685.8H544.6V695.3H536.8zM552.4 714.3H560.2V723.8H552.4zM591.3 695.3H599.1V704.8H591.3zM622.5 714.3H630.3V723.8H622.5zM653.6 685.8H661.4V695.3H653.6zM661.4 685.8H669.2V695.3H661.4zM645.8 695.3H653.6V704.8H645.8zM677 704.8H684.8V714.3H677zM653.6 723.8H661.4V733.3H653.6zM645.8 733.3H653.6V741.4H645.8zM653.6 733.3H661.4V741.4H653.6zM700.3 704.8H708.1V714.3H700.3zM708.1 704.8H715.9V714.3H708.1zM700.3 714.3H708.1V723.8H700.3zM762.6 695.3H770.4V704.8H762.6zM778.2 714.3H786V723.8H778.2zM793.8 723.8H800.4V733.3H793.8z"/>
<path fill="#cfcfcf" d="M186.5 32.8H194.3V42.3H186.5zM178.7 42.3H186.5V51.8H178.7zM170.9 51.8H178.7V61.3H170.9zM186.5 61.3H194.3V70.8H186.5zM248.8 32.8H256.6V42.3H248.8zM233.2 42.3H241V51.8H233.2zM217.6 51.8H225.4V61.3H217.6zM225.4 51.8H233.2V61.3H225.4zM248.8 61.3H256.6V70.8H248.8zM272.1 32.8H279.9V42.3H272.1zM295.5 32.8H303.3V42.3H295.5zM287.7 42.3H295.5V51.8H287.7zM272.1 51.8H279.9V61.3H272.1zM287.7 51.8H295.5V61.3H287.7zM295.5 51.8H303.3V61.3H295.5zM287.7 61.3H295.5V70.8H287.7zM272.1 70.8H279.9V80.3H272.1zM303.3 70.8H311.1V80.3H303.3zM342.2 24H350V32.8H342.2zM357.8 24H365.6V32.8H357.8zM350 32.8H357.8V42.3H350zM326.6 42.3H334.4V51.8H326.6zM318.8 61.3H326.6V70.8H318.8zM334.4 61.3H342.2V70.8H334.4zM342.2 61.3H350V70.8H342.2zM357.8 61.3H365.6V70.8H357.8zM326.6 70.8H334.4V80.3H326.6zM388.9 24H396.7V32.8H388.9zM412.3 24H420.1V32.8H412.3zM396.7 32.8H404.5V42.3H396.7zM404.5 32.8H412.3V42.3H404.5zM404.5 42.3H412.3V51.8H404.5zM396.7 61.3H404.5V70.8H396.7zM404.5 61.3H412.3V70.8H404.5zM459 70.8H466.8V80.3H459zM513.5 70.8H521.3V80.3H513.5zM544.6 51.8H552.4V61.3H544.6zM536.8 70.8H544.6V80.3H536.8zM544.6 70.8H552.4V80.3H544.6zM591.3 24H599.1V32.8H591.3zM606.9 42.3H614.7V51.8H606.9zM622.5 42.3H630.3V51.8H622.5zM591.3 51.8H599.1V61.3H591.3zM630.3 61.3H638.1V70.8H630.3zM677 24H684.8V32.8H677zM684.8 51.8H692.6V61.3H684.8zM653.6 70.8H661.4V80.3H653.6zM669.2 70.8H677V80.3H669.2zM163.1 89.5H170.9V99H163.1zM209.8 89.5H217.6V99H209.8zM248.8 89.5H256.6V99H248.8zM209.8 127.5H217.6V137.1H209.8zM264.3 89.5H272.1V99H264.3zM295.5 89.5H303.3V99H295.5zM279.9 108.5H287.7V118H279.9zM264.3 118H272.1V127.5H264.3zM287.7 118H295.5V127.5H287.7zM295.5 118H303.3V127.5H295.5zM287.7 127.5H295.5V137.1H287.7zM272.1 137.1H279.9V146.6H272.1zM334.4 89.5H342.2V99H334.4zM318.8 99H326.6V108.5H318.8zM326.6 108.5H334.4V118H326.6zM350 108.5H357.8V118H350zM326.6 118H334.4V127.5H326.6zM342.2 118H350V127.5H342.2zM334.4 137.1H342.2V146.6H334.4zM350 137.1H357.8V146.6H350zM357.8 137.1H365.6V146.6H357.8zM388.9 89.5H396.7V99H388.9zM404.5 108.5H412.3V118H404.5zM451.2 89.5H459V99H451.2zM427.8 108.5H435.6V118H427.8zM466.8 108.5H474.6V118H466.8zM427.8 118H435.6V127.5H427.8zM435.6 127.5H443.4V137.1H435.6zM443.4 137.1H451.2V146.6H443.4zM459 137.1H466.8V146.6H459zM505.7 89.5H513.5V99H505.7zM482.3 99H490.1V108.5H482.3zM490.1 108.5H497.9V118H490.1zM513.5 108.5H521.3V118H513.5zM497.9 118H505.7V127.5H497.9zM536.8 89.5H544.6V99H536.8zM536.8 137.1H544.6V146.6H536.8zM622.5 108.5H630.3V118H622.5zM630.3 118H638.1V127.5H630.3zM715.9 89.5H723.7V99H715.9zM739.3 99H747.1V108.5H739.3zM739.3 137.1H747.1V146.6H739.3zM793.8 89.5H800.4V99H793.8zM754.8 99H762.6V108.5H754.8zM762.6 99H770.4V108.5H762.6zM762.6 108.5H770.4V118H762.6zM762.6 127.5H770.4V137.1H762.6zM186.5 184.3H194.3V193.8H186.5zM186.5 193.8H194.3V203.3H186.5zM156.4 203.3H163.1V212.8H156.4zM225.4 155.8H233.2V165.3H225.4zM241 155.8H248.8V165.3H241zM248.8 165.3H256.6V174.8H248.8zM241 174.8H248.8V184.3H241zM241 184.3H248.8V193.8H241zM225.4 193.8H233.2V203.3H225.4zM233.2 193.8H241V203.3H233.2zM303.3 155.8H311.1V165.3H303.3zM264.3 184.3H272.1V193.8H264.3zM295.5 184.3H303.3V193.8H295.5zM303.3 193.8H311.1V203.3H303.3zM295.5 203.3H303.3V212.8H295.5zM318.8 155.8H326.6V165.3H318.8zM326.6 155.8H334.4V165.3H326.6zM326.6 174.8H334.4V184.3H326.6zM357.8 174.8H365.6V184.3H357.8zM326.6 193.8H334.4V203.3H326.6zM357.8 203.3H365.6V212.8H357.8zM412.3 174.8H420.1V184.3H412.3zM381.1 193.8H388.9V203.3H381.1zM396.7 193.8H404.5V203.3H396.7zM412.3 193.8H420.1V203.3H412.3zM373.3 203.3H381.1V212.8H373.3zM388.9 203.3H396.7V212.8H388.9zM427.8 165.3H435.6V174.8H427.8zM466.8 165.3H474.6V174.8H466.8zM451.2 184.3H459V193.8H451.2zM443.4 193.8H451.2V203.3H443.4zM459 193.8H466.8V203.3H459zM505.7 165.3H513.5V174.8H505.7zM497.9 174.8H505.7V184.3H497.9zM482.3 203.3H490.1V212.8H482.3zM490.1 203.3H497.9V212.8H490.1zM544.6 184.3H552.4V193.8H544.6zM552.4 184.3H560.2V193.8H552.4zM536.8 203.3H544.6V212.8H536.8zM560.2 203.3H568V212.8H560.2zM591.3 155.8H599.1V165.3H591.3zM606.9 174.8H614.7V184.3H606.9zM606.9 193.8H614.7V203.3H606.9zM622.5 203.3H630.3V212.8H622.5zM677 155.8H684.8V165.3H677zM684.8 184.3H692.6V193.8H684.8zM669.2 193.8H677V203.3H669.2zM661.4 203.3H669.2V212.8H661.4zM684.8 203.3H692.6V212.8H684.8zM731.5 155.8H739.3V165.3H731.5zM739.3 155.8H747.1V165.3H739.3zM723.7 165.3H731.5V174.8H723.7zM715.9 174.8H723.7V184.3H715.9zM723.7 174.8H731.5V184.3H723.7zM739.3 174.8H747.1V184.3H739.3zM700.3 184.3H708.1V193.8H700.3zM715.9 193.8H723.7V203.3H715.9zM723.7 193.8H731.5V203.3H723.7zM715.9 203.3H723.7V212.8H715.9zM723.7 203.3H731.5V212.8H723.7zM754.8 184.3H762.6V193.8H754.8zM762.6 193.8H770.4V203.3H762.6zM209.8 222.1H217.6V231.6H209.8zM225.4 222.1H233.2V231.6H225.4zM241 231.6H248.8V241.1H241zM225.4 241.1H233.2V250.6H225.4zM225.4 250.6H233.2V260.1H225.4zM248.8 269.6H256.6V279.1H248.8zM272.1 222.1H279.9V231.6H272.1zM264.3 231.6H272.1V241.1H264.3zM272.1 231.6H279.9V241.1H272.1zM264.3 241.1H272.1V250.6H264.3zM287.7 250.6H295.5V260.1H287.7zM334.4 250.6H342.2V260.1H334.4zM326.6 260.1H334.4V269.6H326.6zM396.7 222.1H404.5V231.6H396.7zM404.5 222.1H412.3V231.6H404.5zM373.3 231.6H381.1V241.1H373.3zM373.3 269.6H381.1V279.1H373.3zM482.3 222.1H490.1V231.6H482.3zM513.5 222.1H521.3V231.6H513.5zM513.5 231.6H521.3V241.1H513.5zM497.9 241.1H505.7V250.6H497.9zM513.5 250.6H521.3V260.1H513.5zM536.8 222.1H544.6V231.6H536.8zM544.6 222.1H552.4V231.6H544.6zM544.6 241.1H552.4V250.6H544.6zM568 260.1H575.8V269.6H568zM536.8 269.6H544.6V279.1H536.8zM630.3 222.1H638.1V231.6H630.3zM622.5 231.6H630.3V241.1H622.5zM591.3 241.1H599.1V250.6H591.3zM622.5 250.6H630.3V260.1H622.5zM614.7 260.1H622.5V269.6H614.7zM677 222.1H684.8V231.6H677zM684.8 222.1H692.6V231.6H684.8zM653.6 231.6H661.4V241.1H653.6zM653.6 250.6H661.4V260.1H653.6zM669.2 250.6H677V260.1H669.2zM715.9 250.6H723.7V260.1H715.9zM739.3 269.6H747.1V279.1H739.3zM778.2 231.6H786V241.1H778.2zM786 231.6H793.8V241.1H786zM762.6 241.1H770.4V250.6H762.6zM778.2 269.6H786V279.1H778.2zM279.9 288.3H287.7V297.8H279.9zM287.7 288.3H295.5V297.8H287.7zM295.5 288.3H303.3V297.8H295.5zM303.3 307.3H311.1V316.8H303.3zM279.9 335.8H287.7V345.3H279.9zM303.3 335.8H311.1V345.3H303.3zM334.4 335.8H342.2V345.3H334.4zM373.3 297.8H381.1V307.3H373.3zM381.1 297.8H388.9V307.3H381.1zM412.3 297.8H420.1V307.3H412.3zM396.7 316.8H404.5V326.3H396.7zM412.3 316.8H420.1V326.3H412.3zM388.9 326.3H396.7V335.8H388.9zM412.3 335.8H420.1V345.3H412.3zM459 288.3H466.8V297.8H459zM443.4 297.8H451.2V307.3H443.4zM459 297.8H466.8V307.3H459zM435.6 307.3H443.4V316.8H435.6zM451.2 307.3H459V316.8H451.2zM451.2 326.3H459V335.8H451.2zM497.9 288.3H505.7V297.8H497.9zM497.9 316.8H505.7V326.3H497.9zM521.3 316.8H529.1V326.3H521.3zM560.2 288.3H568V297.8H560.2zM560.2 297.8H568V307.3H560.2zM568 326.3H575.8V335.8H568zM560.2 335.8H568V345.3H560.2zM591.3 307.3H599.1V316.8H591.3zM622.5 316.8H630.3V326.3H622.5zM630.3 335.8H638.1V345.3H630.3zM669.2 297.8H677V307.3H669.2zM661.4 316.8H669.2V326.3H661.4zM669.2 335.8H677V345.3H669.2zM708.1 316.8H715.9V326.3H708.1zM715.9 326.3H723.7V335.8H715.9zM793.8 288.3H800.4V297.8H793.8zM793.8 297.8H800.4V307.3H793.8zM754.8 326.3H762.6V335.8H754.8zM786 326.3H793.8V335.8H786zM793.8 326.3H800.4V335.8H793.8zM272.1 354.6H279.9V364.1H272.1zM303.3 354.6H311.1V364.1H303.3zM295.5 373.6H303.3V383.1H295.5zM264.3 383.1H272.1V392.6H264.3zM272.1 383.1H279.9V392.6H272.1zM279.9 383.1H287.7V392.6H279.9zM303.3 402.1H311.1V411.6H303.3zM350 373.6H357.8V383.1H350zM350 392.6H357.8V402.1H350zM350 402.1H357.8V411.6H350zM373.3 373.6H381.1V383.1H373.3zM381.1 373.6H388.9V383.1H381.1zM388.9 392.6H396.7V402.1H388.9zM412.3 392.6H420.1V402.1H412.3zM466.8 354.6H474.6V364.1H466.8zM459 364.1H466.8V373.6H459zM435.6 373.6H443.4V383.1H435.6zM459 383.1H466.8V392.6H459zM466.8 383.1H474.6V392.6H466.8zM443.4 392.6H451.2V402.1H443.4zM459 392.6H466.8V402.1H459zM459 402.1H466.8V411.6H459zM513.5 364.1H521.3V373.6H513.5zM482.3 373.6H490.1V383.1H482.3zM505.7 373.6H513.5V383.1H505.7zM521.3 383.1H529.1V392.6H521.3zM505.7 402.1H513.5V411.6H505.7zM521.3 402.1H529.1V411.6H521.3zM552.4 373.6H560.2V383.1H552.4zM614.7 373.6H622.5V383.1H614.7zM599.1 383.1H606.9V392.6H599.1zM614.7 383.1H622.5V392.6H614.7zM591.3 392.6H599.1V402.1H591.3zM630.3 392.6H638.1V402.1H630.3zM653.6 354.6H661.4V364.1H653.6zM684.8 354.6H692.6V364.1H684.8zM653.6 373.6H661.4V383.1H653.6zM669.2 383.1H677V392.6H669.2zM669.2 402.1H677V411.6H669.2zM700.3 364.1H708.1V373.6H700.3zM770.4 364.1H778.2V373.6H770.4zM770.4 392.6H778.2V402.1H770.4zM786 392.6H793.8V402.1H786zM279.9 420.8H287.7V430.3H279.9zM295.5 420.8H303.3V430.3H295.5zM279.9 430.3H287.7V439.8H279.9zM303.3 430.3H311.1V439.8H303.3zM287.7 439.8H295.5V449.3H287.7zM303.3 449.3H311.1V458.8H303.3zM264.3 458.8H272.1V468.3H264.3zM279.9 458.8H287.7V468.3H279.9zM318.8 420.8H326.6V430.3H318.8zM334.4 420.8H342.2V430.3H334.4zM350 420.8H357.8V430.3H350zM357.8 420.8H365.6V430.3H357.8zM357.8 439.8H365.6V449.3H357.8zM357.8 458.8H365.6V468.3H357.8zM334.4 468.3H342.2V477.8H334.4zM404.5 420.8H412.3V430.3H404.5zM396.7 430.3H404.5V439.8H396.7zM412.3 439.8H420.1V449.3H412.3zM373.3 458.8H381.1V468.3H373.3zM396.7 458.8H404.5V468.3H396.7zM459 430.3H466.8V439.8H459zM459 439.8H466.8V449.3H459zM443.4 449.3H451.2V458.8H443.4zM451.2 449.3H459V458.8H451.2zM435.6 458.8H443.4V468.3H435.6zM459 458.8H466.8V468.3H459zM435.6 468.3H443.4V477.8H435.6zM497.9 439.8H505.7V449.3H497.9zM497.9 458.8H505.7V468.3H497.9zM497.9 468.3H505.7V477.8H497.9zM552.4 420.8H560.2V430.3H552.4zM544.6 449.3H552.4V458.8H544.6zM552.4 449.3H560.2V458.8H552.4zM536.8 458.8H544.6V468.3H536.8zM568 458.8H575.8V468.3H568zM552.4 468.3H560.2V477.8H552.4zM575.8 468.3H583.6V477.8H575.8zM591.3 420.8H599.1V430.3H591.3zM622.5 420.8H630.3V430.3H622.5zM591.3 439.8H599.1V449.3H591.3zM599.1 439.8H606.9V449.3H599.1zM614.7 439.8H622.5V449.3H614.7zM591.3 449.3H599.1V458.8H591.3zM645.8 420.8H653.6V430.3H645.8zM653.6 458.8H661.4V468.3H653.6zM684.8 468.3H692.6V477.8H684.8zM708.1 420.8H715.9V430.3H708.1zM723.7 439.8H731.5V449.3H723.7zM731.5 439.8H739.3V449.3H731.5zM708.1 468.3H715.9V477.8H708.1zM793.8 420.8H800.4V430.3H793.8zM754.8 430.3H762.6V439.8H754.8zM762.6 439.8H770.4V449.3H762.6zM786 439.8H793.8V449.3H786zM762.6 468.3H770.4V477.8H762.6zM793.8 468.3H800.4V477.8H793.8zM264.3 487.1H272.1V496.6H264.3zM279.9 534.5H287.7V544H279.9zM334.4 487.1H342.2V496.6H334.4zM318.8 506.1H326.6V515.5H318.8zM326.6 515.5H334.4V525H326.6zM388.9 496.6H396.7V506.1H388.9zM388.9 506.1H396.7V515.5H388.9zM388.9 525H396.7V534.5H388.9zM459 487.1H466.8V496.6H459zM451.2 496.6H459V506.1H451.2zM466.8 506.1H474.6V515.5H466.8zM451.2 515.5H459V525H451.2zM482.3 506.1H490.1V515.5H482.3zM497.9 515.5H505.7V525H497.9zM505.7 534.5H513.5V544H505.7zM552.4 487.1H560.2V496.6H552.4zM575.8 487.1H583.6V496.6H575.8zM536.8 496.6H544.6V506.1H536.8zM544.6 506.1H552.4V515.5H544.6zM568 506.1H575.8V515.5H568zM536.8 515.5H544.6V525H536.8zM544.6 515.5H552.4V525H544.6zM568 525H575.8V534.5H568zM575.8 525H583.6V534.5H575.8zM544.6 534.5H552.4V544H544.6zM622.5 515.5H630.3V525H622.5zM630.3 515.5H638.1V525H630.3zM606.9 525H614.7V534.5H606.9zM591.3 534.5H599.1V544H591.3zM622.5 534.5H630.3V544H622.5zM684.8 506.1H692.6V515.5H684.8zM653.6 515.5H661.4V525H653.6zM661.4 534.5H669.2V544H661.4zM708.1 487.1H715.9V496.6H708.1zM731.5 487.1H739.3V496.6H731.5zM700.3 515.5H708.1V525H700.3zM723.7 515.5H731.5V525H723.7zM762.6 487.1H770.4V496.6H762.6zM754.8 496.6H762.6V506.1H754.8zM778.2 496.6H786V506.1H778.2zM754.8 506.1H762.6V515.5H754.8zM793.8 515.5H800.4V525H793.8zM295.5 562.8H303.3V572.3H295.5zM272.1 591.3H279.9V600.8H272.1zM303.3 600.8H311.1V610.3H303.3zM350 562.8H357.8V572.3H350zM334.4 581.8H342.2V591.3H334.4zM373.3 553.3H381.1V562.8H373.3zM404.5 553.3H412.3V562.8H404.5zM373.3 572.3H381.1V581.8H373.3zM396.7 581.8H404.5V591.3H396.7zM412.3 581.8H420.1V591.3H412.3zM412.3 600.8H420.1V610.3H412.3zM459 553.3H466.8V562.8H459zM451.2 562.8H459V572.3H451.2zM451.2 591.3H459V600.8H451.2zM459 591.3H466.8V600.8H459zM435.6 600.8H443.4V610.3H435.6zM459 600.8H466.8V610.3H459zM482.3 581.8H490.1V591.3H482.3zM482.3 600.8H490.1V610.3H482.3zM505.7 600.8H513.5V610.3H505.7zM544.6 553.3H552.4V562.8H544.6zM575.8 600.8H583.6V610.3H575.8zM591.3 572.3H599.1V581.8H591.3zM606.9 572.3H614.7V581.8H606.9zM606.9 581.8H614.7V591.3H606.9zM622.5 581.8H630.3V591.3H622.5zM645.8 553.3H653.6V562.8H645.8zM684.8 553.3H692.6V562.8H684.8zM669.2 591.3H677V600.8H669.2zM684.8 591.3H692.6V600.8H684.8zM700.3 553.3H708.1V562.8H700.3zM708.1 572.3H715.9V581.8H708.1zM700.3 591.3H708.1V600.8H700.3zM770.4 562.8H778.2V572.3H770.4zM793.8 562.8H800.4V572.3H793.8zM793.8 581.8H800.4V591.3H793.8zM778.2 591.3H786V600.8H778.2zM350 648H357.8V657.5H350zM342.2 657.5H350V667H342.2zM404.5 619.5H412.3V629H404.5zM388.9 638.5H396.7V648H388.9zM412.3 648H420.1V657.5H412.3zM388.9 657.5H396.7V667H388.9zM396.7 657.5H404.5V667H396.7zM373.3 667H381.1V676.5H373.3zM427.8 619.5H435.6V629H427.8zM451.2 648H459V657.5H451.2zM435.6 657.5H443.4V667H435.6zM521.3 648H529.1V657.5H521.3zM497.9 667H505.7V676.5H497.9zM575.8 629H583.6V638.5H575.8zM536.8 648H544.6V657.5H536.8zM575.8 648H583.6V657.5H575.8zM560.2 667H568V676.5H560.2zM622.5 619.5H630.3V629H622.5zM599.1 629H606.9V638.5H599.1zM606.9 629H614.7V638.5H606.9zM677 619.5H684.8V629H677zM645.8 629H653.6V638.5H645.8zM645.8 667H653.6V676.5H645.8zM669.2 667H677V676.5H669.2zM708.1 629H715.9V638.5H708.1zM731.5 629H739.3V638.5H731.5zM715.9 657.5H723.7V667H715.9zM723.7 657.5H731.5V667H723.7zM739.3 657.5H747.1V667H739.3zM700.3 667H708.1V676.5H700.3zM723.7 667H731.5V676.5H723.7zM762.6 629H770.4V638.5H762.6zM770.4 638.5H778.2V648H770.4zM762.6 648H770.4V657.5H762.6zM786 667H793.8V676.5H786zM318.8 685.8H326.6V695.3H318.8zM357.8 685.8H365.6V695.3H357.8zM318.8 695.3H326.6V704.8H318.8zM318.8 704.8H326.6V714.3H318.8zM342.2 714.3H350V723.8H342.2zM318.8 733.3H326.6V741.4H318.8zM350 733.3H357.8V741.4H350zM381.1 695.3H388.9V704.8H381.1zM404.5 695.3H412.3V704.8H404.5zM373.3 714.3H381.1V723.8H373.3zM396.7 714.3H404.5V723.8H396.7zM404.5 714.3H412.3V723.8H404.5zM435.6 695.3H443.4V704.8H435.6zM443.4 704.8H451.2V714.3H443.4zM459 714.3H466.8V723.8H459zM451.2 733.3H459V741.4H451.2zM497.9 685.8H505.7V695.3H497.9zM497.9 695.3H505.7V704.8H497.9zM513.5 695.3H521.3V704.8H513.5zM513.5 704.8H521.3V714.3H513.5zM521.3 714.3H529.1V723.8H521.3zM513.5 733.3H521.3V741.4H513.5zM521.3 733.3H529.1V741.4H521.3zM536.8 695.3H544.6V704.8H536.8zM536.8 704.8H544.6V714.3H536.8zM536.8 714.3H544.6V723.8H536.8zM536.8 723.8H544.6V733.3H536.8zM552.4 723.8H560.2V733.3H552.4zM575.8 723.8H583.6V733.3H575.8zM536.8 733.3H544.6V741.4H536.8zM606.9 685.8H614.7V695.3H606.9zM614.7 704.8H622.5V714.3H614.7zM669.2 695.3H677V704.8H669.2zM669.2 704.8H677V714.3H669.2zM684.8 704.8H692.6V714.3H684.8zM653.6 714.3H661.4V723.8H653.6zM684.8 714.3H692.6V723.8H684.8zM669.2 723.8H677V733.3H669.2zM684.8 723.8H692.6V733.3H684.8zM677 733.3H684.8V741.4H677zM715.9 714.3H723.7V723.8H715.9zM739.3 714.3H747.1V723.8H739.3zM700.3 733.3H708.1V741.4H700.3zM739.3 733.3H747.1V741.4H739.3z"/>
<path fill="#e7e7e7" d="M194.3 32.8H202.1V42.3H194.3zM427.8 24H435.6V32.8H427.8zM163.1 108.5H170.9V118H163.1zM490.1 137.1H497.9V146.6H490.1zM552.4 127.5H560.2V137.1H552.4zM156.4 155.8H163.1V165.3H156.4zM194.3 184.3H202.1V193.8H194.3zM427.8 184.3H435.6V193.8H427.8zM459 184.3H466.8V193.8H459zM279.9 250.6H287.7V260.1H279.9zM334.4 241.1H342.2V250.6H334.4zM412.3 250.6H420.1V260.1H412.3zM404.5 269.6H412.3V279.1H404.5zM614.7 250.6H622.5V260.1H614.7zM279.9 316.8H287.7V326.3H279.9zM762.6 297.8H770.4V307.3H762.6zM786 307.3H793.8V316.8H786zM326.6 383.1H334.4V392.6H326.6zM505.7 392.6H513.5V402.1H505.7zM622.5 392.6H630.3V402.1H622.5zM451.2 420.8H459V430.3H451.2zM443.4 458.8H451.2V468.3H443.4zM536.8 420.8H544.6V430.3H536.8zM544.6 439.8H552.4V449.3H544.6zM614.7 468.3H622.5V477.8H614.7zM715.9 439.8H723.7V449.3H715.9zM318.8 496.6H326.6V506.1H318.8zM412.3 496.6H420.1V506.1H412.3zM575.8 496.6H583.6V506.1H575.8zM793.8 534.5H800.4V544H793.8zM497.9 619.5H505.7V629H497.9zM614.7 667H622.5V676.5H614.7zM350 685.8H357.8V695.3H350z"/>
<path fill="#f3f3f3" d="M156.4 42.3H163.1V51.8H156.4zM209.8 51.8H217.6V61.3H209.8zM209.8 61.3H217.6V70.8H209.8zM241 70.8H248.8V80.3H241zM661.4 118H669.2V127.5H661.4zM186.5 174.8H194.3V184.3H186.5zM295.5 193.8H303.3V203.3H295.5zM451.2 155.8H459V165.3H451.2zM684.8 193.8H692.6V203.3H684.8zM381.1 250.6H388.9V260.1H381.1zM287.7 326.3H295.5V335.8H287.7zM318.8 297.8H326.6V307.3H318.8zM568 307.3H575.8V316.8H568zM715.9 316.8H723.7V326.3H715.9zM287.7 383.1H295.5V392.6H287.7zM677 449.3H684.8V458.8H677zM568 487.1H575.8V496.6H568zM357.8 562.8H365.6V572.3H357.8zM342.2 581.8H350V591.3H342.2zM373.3 562.8H381.1V572.3H373.3zM490.1 591.3H497.9V600.8H490.1zM388.9 648H396.7V657.5H388.9zM552.4 619.5H560.2V629H552.4zM505.7 685.8H513.5V695.3H505.7z"/>
<path fill="#c6c6c6" d="M163.1 42.3H170.9V51.8H163.1zM163.1 51.8H170.9V61.3H163.1zM241 51.8H248.8V61.3H241zM248.8 51.8H256.6V61.3H248.8zM217.6 61.3H225.4V70.8H217.6zM233.2 61.3H241V70.8H233.2zM241 61.3H248.8V70.8H241zM303.3 32.8H311.1V42.3H303.3zM295.5 42.3H303.3V51.8H295.5zM303.3 51.8H311.1V61.3H303.3zM264.3 70.8H272.1V80.3H264.3zM318.8 24H326.6V32.8H318.8zM326.6 24H334.4V32.8H326.6zM334.4 32.8H342.2V42.3H334.4zM373.3 51.8H381.1V61.3H373.3zM404.5 51.8H412.3V61.3H404.5zM388.9 70.8H396.7V80.3H388.9zM435.6 32.8H443.4V42.3H435.6zM459 32.8H466.8V42.3H459zM451.2 42.3H459V51.8H451.2zM443.4 51.8H451.2V61.3H443.4zM466.8 51.8H474.6V61.3H466.8zM427.8 61.3H435.6V70.8H427.8zM451.2 70.8H459V80.3H451.2zM466.8 70.8H474.6V80.3H466.8zM505.7 24H513.5V32.8H505.7zM521.3 70.8H529.1V80.3H521.3zM536.8 24H544.6V32.8H536.8zM560.2 61.3H568V70.8H560.2zM575.8 70.8H583.6V80.3H575.8zM630.3 42.3H638.1V51.8H630.3zM614.7 51.8H622.5V61.3H614.7zM653.6 24H661.4V32.8H653.6zM684.8 61.3H692.6V70.8H684.8zM708.1 24H715.9V32.8H708.1zM723.7 32.8H731.5V42.3H723.7zM754.8 32.8H762.6V42.3H754.8zM178.7 127.5H186.5V137.1H178.7zM241 137.1H248.8V146.6H241zM318.8 118H326.6V127.5H318.8zM357.8 118H365.6V127.5H357.8zM357.8 127.5H365.6V137.1H357.8zM404.5 89.5H412.3V99H404.5zM427.8 89.5H435.6V99H427.8zM451.2 99H459V108.5H451.2zM459 99H466.8V108.5H459zM459 108.5H466.8V118H459zM466.8 118H474.6V127.5H466.8zM451.2 127.5H459V137.1H451.2zM459 127.5H466.8V137.1H459zM482.3 89.5H490.1V99H482.3zM482.3 137.1H490.1V146.6H482.3zM568 99H575.8V108.5H568zM575.8 99H583.6V108.5H575.8zM599.1 99H606.9V108.5H599.1zM591.3 127.5H599.1V137.1H591.3zM653.6 99H661.4V108.5H653.6zM684.8 99H692.6V108.5H684.8zM669.2 137.1H677V146.6H669.2zM708.1 89.5H715.9V99H708.1zM731.5 89.5H739.3V99H731.5zM715.9 108.5H723.7V118H715.9zM700.3 127.5H708.1V137.1H700.3zM723.7 127.5H731.5V137.1H723.7zM731.5 127.5H739.3V137.1H731.5zM762.6 89.5H770.4V99H762.6zM770.4 108.5H778.2V118H770.4zM786 108.5H793.8V118H786zM770.4 137.1H778.2V146.6H770.4zM170.9 155.8H178.7V165.3H170.9zM186.5 165.3H194.3V174.8H186.5zM156.4 184.3H163.1V193.8H156.4zM209.8 165.3H217.6V174.8H209.8zM233.2 174.8H241V184.3H233.2zM248.8 174.8H256.6V184.3H248.8zM209.8 193.8H217.6V203.3H209.8zM209.8 203.3H217.6V212.8H209.8zM279.9 184.3H287.7V193.8H279.9zM326.6 165.3H334.4V174.8H326.6zM350 174.8H357.8V184.3H350zM342.2 184.3H350V193.8H342.2zM350 203.3H357.8V212.8H350zM451.2 165.3H459V174.8H451.2zM435.6 174.8H443.4V184.3H435.6zM427.8 193.8H435.6V203.3H427.8zM435.6 193.8H443.4V203.3H435.6zM435.6 203.3H443.4V212.8H435.6zM466.8 203.3H474.6V212.8H466.8zM482.3 155.8H490.1V165.3H482.3zM521.3 174.8H529.1V184.3H521.3zM505.7 184.3H513.5V193.8H505.7zM513.5 184.3H521.3V193.8H513.5zM521.3 184.3H529.1V193.8H521.3zM536.8 155.8H544.6V165.3H536.8zM622.5 155.8H630.3V165.3H622.5zM630.3 165.3H638.1V174.8H630.3zM606.9 203.3H614.7V212.8H606.9zM645.8 165.3H653.6V174.8H645.8zM684.8 165.3H692.6V174.8H684.8zM661.4 174.8H669.2V184.3H661.4zM684.8 174.8H692.6V184.3H684.8zM645.8 203.3H653.6V212.8H645.8zM669.2 203.3H677V212.8H669.2zM700.3 174.8H708.1V184.3H700.3zM708.1 174.8H715.9V184.3H708.1zM708.1 184.3H715.9V193.8H708.1zM731.5 184.3H739.3V193.8H731.5zM700.3 203.3H708.1V212.8H700.3zM754.8 155.8H762.6V165.3H754.8zM786 174.8H793.8V184.3H786zM770.4 184.3H778.2V193.8H770.4zM778.2 193.8H786V203.3H778.2zM786 193.8H793.8V203.3H786zM279.9 222.1H287.7V231.6H279.9zM272.1 241.1H279.9V250.6H272.1zM295.5 260.1H303.3V269.6H295.5zM318.8 231.6H326.6V241.1H318.8zM357.8 231.6H365.6V241.1H357.8zM318.8 250.6H326.6V260.1H318.8zM357.8 260.1H365.6V269.6H357.8zM373.3 222.1H381.1V231.6H373.3zM373.3 241.1H381.1V250.6H373.3zM412.3 260.1H420.1V269.6H412.3zM412.3 269.6H420.1V279.1H412.3zM443.4 231.6H451.2V241.1H443.4zM466.8 241.1H474.6V250.6H466.8zM451.2 250.6H459V260.1H451.2zM459 250.6H466.8V260.1H459zM451.2 260.1H459V269.6H451.2zM505.7 222.1H513.5V231.6H505.7zM482.3 231.6H490.1V241.1H482.3zM521.3 231.6H529.1V241.1H521.3zM490.1 241.1H497.9V250.6H490.1zM490.1 260.1H497.9V269.6H490.1zM521.3 260.1H529.1V269.6H521.3zM536.8 231.6H544.6V241.1H536.8zM568 269.6H575.8V279.1H568zM599.1 222.1H606.9V231.6H599.1zM622.5 222.1H630.3V231.6H622.5zM645.8 222.1H653.6V231.6H645.8zM661.4 222.1H669.2V231.6H661.4zM669.2 222.1H677V231.6H669.2zM645.8 231.6H653.6V241.1H645.8zM669.2 241.1H677V250.6H669.2zM723.7 222.1H731.5V231.6H723.7zM700.3 231.6H708.1V241.1H700.3zM723.7 231.6H731.5V241.1H723.7zM739.3 241.1H747.1V250.6H739.3zM708.1 250.6H715.9V260.1H708.1zM731.5 250.6H739.3V260.1H731.5zM700.3 260.1H708.1V269.6H700.3zM700.3 269.6H708.1V279.1H700.3zM731.5 269.6H739.3V279.1H731.5zM793.8 231.6H800.4V241.1H793.8zM754.8 241.1H762.6V250.6H754.8zM264.3 297.8H272.1V307.3H264.3zM272.1 307.3H279.9V316.8H272.1zM264.3 335.8H272.1V345.3H264.3zM357.8 316.8H365.6V326.3H357.8zM396.7 297.8H404.5V307.3H396.7zM404.5 326.3H412.3V335.8H404.5zM427.8 316.8H435.6V326.3H427.8zM466.8 316.8H474.6V326.3H466.8zM427.8 326.3H435.6V335.8H427.8zM490.1 288.3H497.9V297.8H490.1zM490.1 316.8H497.9V326.3H490.1zM513.5 316.8H521.3V326.3H513.5zM544.6 288.3H552.4V297.8H544.6zM552.4 297.8H560.2V307.3H552.4zM536.8 307.3H544.6V316.8H536.8zM622.5 288.3H630.3V297.8H622.5zM591.3 297.8H599.1V307.3H591.3zM677 297.8H684.8V307.3H677zM645.8 326.3H653.6V335.8H645.8zM645.8 335.8H653.6V345.3H645.8zM723.7 297.8H731.5V307.3H723.7zM739.3 316.8H747.1V326.3H739.3zM700.3 326.3H708.1V335.8H700.3zM786 288.3H793.8V297.8H786zM770.4 297.8H778.2V307.3H770.4zM778.2 297.8H786V307.3H778.2zM793.8 307.3H800.4V316.8H793.8zM778.2 316.8H786V326.3H778.2zM770.4 326.3H778.2V335.8H770.4zM342.2 373.6H350V383.1H342.2zM357.8 373.6H365.6V383.1H357.8zM318.8 402.1H326.6V411.6H318.8zM334.4 402.1H342.2V411.6H334.4zM404.5 364.1H412.3V373.6H404.5zM388.9 373.6H396.7V383.1H388.9zM396.7 373.6H404.5V383.1H396.7zM396.7 383.1H404.5V392.6H396.7zM443.4 364.1H451.2V373.6H443.4zM443.4 383.1H451.2V392.6H443.4zM482.3 354.6H490.1V364.1H482.3zM505.7 364.1H513.5V373.6H505.7zM513.5 373.6H521.3V383.1H513.5zM552.4 383.1H560.2V392.6H552.4zM568 402.1H575.8V411.6H568zM622.5 364.1H630.3V373.6H622.5zM599.1 402.1H606.9V411.6H599.1zM669.2 364.1H677V373.6H669.2zM677 364.1H684.8V373.6H677zM645.8 392.6H653.6V402.1H645.8zM731.5 354.6H739.3V364.1H731.5zM731.5 364.1H739.3V373.6H731.5zM715.9 383.1H723.7V392.6H715.9zM778.2 354.6H786V364.1H778.2zM754.8 364.1H762.6V373.6H754.8zM762.6 392.6H770.4V402.1H762.6zM786 402.1H793.8V411.6H786zM272.1 430.3H279.9V439.8H272.1zM264.3 439.8H272.1V449.3H264.3zM272.1 458.8H279.9V468.3H272.1zM295.5 458.8H303.3V468.3H295.5zM318.8 439.8H326.6V449.3H318.8zM357.8 449.3H365.6V458.8H357.8zM342.2 458.8H350V468.3H342.2zM342.2 468.3H350V477.8H342.2zM396.7 420.8H404.5V430.3H396.7zM412.3 430.3H420.1V439.8H412.3zM388.9 439.8H396.7V449.3H388.9zM404.5 439.8H412.3V449.3H404.5zM404.5 468.3H412.3V477.8H404.5zM427.8 420.8H435.6V430.3H427.8zM497.9 420.8H505.7V430.3H497.9zM497.9 430.3H505.7V439.8H497.9zM521.3 430.3H529.1V439.8H521.3zM521.3 439.8H529.1V449.3H521.3zM482.3 468.3H490.1V477.8H482.3zM521.3 468.3H529.1V477.8H521.3zM544.6 430.3H552.4V439.8H544.6zM575.8 449.3H583.6V458.8H575.8zM560.2 468.3H568V477.8H560.2zM614.7 430.3H622.5V439.8H614.7zM599.1 449.3H606.9V458.8H599.1zM653.6 439.8H661.4V449.3H653.6zM653.6 449.3H661.4V458.8H653.6zM715.9 420.8H723.7V430.3H715.9zM739.3 420.8H747.1V430.3H739.3zM700.3 439.8H708.1V449.3H700.3zM708.1 439.8H715.9V449.3H708.1zM723.7 458.8H731.5V468.3H723.7zM762.6 420.8H770.4V430.3H762.6zM754.8 439.8H762.6V449.3H754.8zM754.8 449.3H762.6V458.8H754.8zM770.4 468.3H778.2V477.8H770.4zM786 468.3H793.8V477.8H786zM272.1 515.5H279.9V525H272.1zM303.3 534.5H311.1V544H303.3zM342.2 515.5H350V525H342.2zM373.3 496.6H381.1V506.1H373.3zM412.3 525H420.1V534.5H412.3zM435.6 534.5H443.4V544H435.6zM490.1 487.1H497.9V496.6H490.1zM482.3 515.5H490.1V525H482.3zM490.1 534.5H497.9V544H490.1zM536.8 487.1H544.6V496.6H536.8zM552.4 506.1H560.2V515.5H552.4zM560.2 515.5H568V525H560.2zM599.1 487.1H606.9V496.6H599.1zM622.5 487.1H630.3V496.6H622.5zM614.7 515.5H622.5V525H614.7zM661.4 496.6H669.2V506.1H661.4zM669.2 515.5H677V525H669.2zM677 525H684.8V534.5H677zM684.8 525H692.6V534.5H684.8zM684.8 534.5H692.6V544H684.8zM715.9 487.1H723.7V496.6H715.9zM731.5 496.6H739.3V506.1H731.5zM715.9 506.1H723.7V515.5H715.9zM715.9 515.5H723.7V525H715.9zM715.9 525H723.7V534.5H715.9zM739.3 525H747.1V534.5H739.3zM700.3 534.5H708.1V544H700.3zM770.4 487.1H778.2V496.6H770.4zM762.6 496.6H770.4V506.1H762.6zM770.4 496.6H778.2V506.1H770.4zM793.8 496.6H800.4V506.1H793.8zM778.2 506.1H786V515.5H778.2zM762.6 515.5H770.4V525H762.6zM778.2 515.5H786V525H778.2zM778.2 534.5H786V544H778.2zM279.9 553.3H287.7V562.8H279.9zM303.3 572.3H311.1V581.8H303.3zM264.3 581.8H272.1V591.3H264.3zM303.3 581.8H311.1V591.3H303.3zM318.8 600.8H326.6V610.3H318.8zM388.9 553.3H396.7V562.8H388.9zM388.9 581.8H396.7V591.3H388.9zM396.7 600.8H404.5V610.3H396.7zM451.2 553.3H459V562.8H451.2zM427.8 572.3H435.6V581.8H427.8zM435.6 581.8H443.4V591.3H435.6zM451.2 581.8H459V591.3H451.2zM459 581.8H466.8V591.3H459zM513.5 562.8H521.3V572.3H513.5zM505.7 581.8H513.5V591.3H505.7zM505.7 591.3H513.5V600.8H505.7zM552.4 553.3H560.2V562.8H552.4zM575.8 581.8H583.6V591.3H575.8zM536.8 591.3H544.6V600.8H536.8zM544.6 600.8H552.4V610.3H544.6zM606.9 562.8H614.7V572.3H606.9zM630.3 562.8H638.1V572.3H630.3zM614.7 581.8H622.5V591.3H614.7zM630.3 581.8H638.1V591.3H630.3zM606.9 600.8H614.7V610.3H606.9zM614.7 600.8H622.5V610.3H614.7zM669.2 553.3H677V562.8H669.2zM645.8 572.3H653.6V581.8H645.8zM677 581.8H684.8V591.3H677zM645.8 600.8H653.6V610.3H645.8zM708.1 591.3H715.9V600.8H708.1zM770.4 553.3H778.2V562.8H770.4zM778.2 562.8H786V572.3H778.2zM786 572.3H793.8V581.8H786zM793.8 591.3H800.4V600.8H793.8zM264.3 629H272.1V638.5H264.3zM303.3 629H311.1V638.5H303.3zM303.3 648H311.1V657.5H303.3zM318.8 648H326.6V657.5H318.8zM404.5 648H412.3V657.5H404.5zM373.3 657.5H381.1V667H373.3zM466.8 629H474.6V638.5H466.8zM451.2 638.5H459V648H451.2zM435.6 648H443.4V657.5H435.6zM459 648H466.8V657.5H459zM427.8 657.5H435.6V667H427.8zM513.5 619.5H521.3V629H513.5zM505.7 629H513.5V638.5H505.7zM482.3 667H490.1V676.5H482.3zM568 638.5H575.8V648H568zM591.3 629H599.1V638.5H591.3zM630.3 629H638.1V638.5H630.3zM606.9 648H614.7V657.5H606.9zM614.7 648H622.5V657.5H614.7zM661.4 648H669.2V657.5H661.4zM700.3 619.5H708.1V629H700.3zM700.3 629H708.1V638.5H700.3zM723.7 648H731.5V657.5H723.7zM778.2 619.5H786V629H778.2zM793.8 638.5H800.4V648H793.8zM762.6 657.5H770.4V667H762.6zM754.8 667H762.6V676.5H754.8zM334.4 695.3H342.2V704.8H334.4zM334.4 733.3H342.2V741.4H334.4zM388.9 695.3H396.7V704.8H388.9zM381.1 723.8H388.9V733.3H381.1zM482.3 695.3H490.1V704.8H482.3zM521.3 695.3H529.1V704.8H521.3zM521.3 723.8H529.1V733.3H521.3zM544.6 695.3H552.4V704.8H544.6zM568 695.3H575.8V704.8H568zM560.2 723.8H568V733.3H560.2zM591.3 685.8H599.1V695.3H591.3zM599.1 685.8H606.9V695.3H599.1zM599.1 704.8H606.9V714.3H599.1zM591.3 714.3H599.1V723.8H591.3zM599.1 723.8H606.9V733.3H599.1zM614.7 723.8H622.5V733.3H614.7zM684.8 685.8H692.6V695.3H684.8zM661.4 695.3H669.2V704.8H661.4zM653.6 704.8H661.4V714.3H653.6zM661.4 704.8H669.2V714.3H661.4zM669.2 733.3H677V741.4H669.2zM684.8 733.3H692.6V741.4H684.8zM708.1 685.8H715.9V695.3H708.1zM715.9 685.8H723.7V695.3H715.9zM731.5 685.8H739.3V695.3H731.5zM708.1 723.8H715.9V733.3H708.1zM739.3 723.8H747.1V733.3H739.3zM723.7 733.3H731.5V741.4H723.7zM786 685.8H793.8V695.3H786zM786 695.3H793.8V704.8H786zM754.8 733.3H762.6V741.4H754.8zM770.4 733.3H778.2V741.4H770.4z"/>
<path fill="#d2d2d2" d="M194.3 51.8H202.1V61.3H194.3zM225.4 24H233.2V32.8H225.4zM233.2 24H241V32.8H233.2zM209.8 32.8H217.6V42.3H209.8zM241 42.3H248.8V51.8H241zM248.8 42.3H256.6V51.8H248.8zM217.6 70.8H225.4V80.3H217.6zM303.3 24H311.1V32.8H303.3zM279.9 42.3H287.7V51.8H279.9zM287.7 70.8H295.5V80.3H287.7zM334.4 24H342.2V32.8H334.4zM350 24H357.8V32.8H350zM396.7 24H404.5V32.8H396.7zM381.1 32.8H388.9V42.3H381.1zM381.1 42.3H388.9V51.8H381.1zM396.7 51.8H404.5V61.3H396.7zM388.9 61.3H396.7V70.8H388.9zM451.2 32.8H459V42.3H451.2zM435.6 51.8H443.4V61.3H435.6zM466.8 61.3H474.6V70.8H466.8zM482.3 32.8H490.1V42.3H482.3zM544.6 61.3H552.4V70.8H544.6zM575.8 61.3H583.6V70.8H575.8zM606.9 24H614.7V32.8H606.9zM622.5 32.8H630.3V42.3H622.5zM630.3 51.8H638.1V61.3H630.3zM599.1 61.3H606.9V70.8H599.1zM614.7 61.3H622.5V70.8H614.7zM669.2 32.8H677V42.3H669.2zM677 51.8H684.8V61.3H677zM700.3 51.8H708.1V61.3H700.3zM778.2 32.8H786V42.3H778.2zM778.2 42.3H786V51.8H778.2zM754.8 61.3H762.6V70.8H754.8zM156.4 89.5H163.1V99H156.4zM170.9 89.5H178.7V99H170.9zM194.3 89.5H202.1V99H194.3zM194.3 99H202.1V108.5H194.3zM178.7 118H186.5V127.5H178.7zM156.4 137.1H163.1V146.6H156.4zM163.1 137.1H170.9V146.6H163.1zM217.6 108.5H225.4V118H217.6zM225.4 127.5H233.2V137.1H225.4zM233.2 127.5H241V137.1H233.2zM248.8 127.5H256.6V137.1H248.8zM272.1 89.5H279.9V99H272.1zM279.9 99H287.7V108.5H279.9zM303.3 99H311.1V108.5H303.3zM303.3 118H311.1V127.5H303.3zM318.8 89.5H326.6V99H318.8zM342.2 99H350V108.5H342.2zM350 99H357.8V108.5H350zM334.4 108.5H342.2V118H334.4zM381.1 89.5H388.9V99H381.1zM412.3 99H420.1V108.5H412.3zM412.3 108.5H420.1V118H412.3zM381.1 137.1H388.9V146.6H381.1zM435.6 89.5H443.4V99H435.6zM443.4 89.5H451.2V99H443.4zM459 118H466.8V127.5H459zM497.9 99H505.7V108.5H497.9zM482.3 127.5H490.1V137.1H482.3zM552.4 108.5H560.2V118H552.4zM544.6 127.5H552.4V137.1H544.6zM606.9 99H614.7V108.5H606.9zM606.9 108.5H614.7V118H606.9zM630.3 108.5H638.1V118H630.3zM591.3 118H599.1V127.5H591.3zM599.1 118H606.9V127.5H599.1zM614.7 118H622.5V127.5H614.7zM599.1 137.1H606.9V146.6H599.1zM677 89.5H684.8V99H677zM669.2 99H677V108.5H669.2zM677 127.5H684.8V137.1H677zM661.4 137.1H669.2V146.6H661.4zM684.8 137.1H692.6V146.6H684.8zM723.7 89.5H731.5V99H723.7zM739.3 118H747.1V127.5H739.3zM715.9 127.5H723.7V137.1H715.9zM723.7 137.1H731.5V146.6H723.7zM778.2 108.5H786V118H778.2zM754.8 127.5H762.6V137.1H754.8zM178.7 174.8H186.5V184.3H178.7zM194.3 174.8H202.1V184.3H194.3zM178.7 184.3H186.5V193.8H178.7zM225.4 165.3H233.2V174.8H225.4zM233.2 184.3H241V193.8H233.2zM287.7 165.3H295.5V174.8H287.7zM287.7 174.8H295.5V184.3H287.7zM295.5 174.8H303.3V184.3H295.5zM272.1 184.3H279.9V193.8H272.1zM303.3 203.3H311.1V212.8H303.3zM342.2 155.8H350V165.3H342.2zM357.8 184.3H365.6V193.8H357.8zM357.8 193.8H365.6V203.3H357.8zM412.3 155.8H420.1V165.3H412.3zM373.3 165.3H381.1V174.8H373.3zM381.1 165.3H388.9V174.8H381.1zM396.7 174.8H404.5V184.3H396.7zM388.9 193.8H396.7V203.3H388.9zM381.1 203.3H388.9V212.8H381.1zM443.4 165.3H451.2V174.8H443.4zM459 165.3H466.8V174.8H459zM443.4 174.8H451.2V184.3H443.4zM443.4 184.3H451.2V193.8H443.4zM451.2 193.8H459V203.3H451.2zM490.1 155.8H497.9V165.3H490.1zM521.3 155.8H529.1V165.3H521.3zM482.3 165.3H490.1V174.8H482.3zM482.3 193.8H490.1V203.3H482.3zM505.7 193.8H513.5V203.3H505.7zM513.5 203.3H521.3V212.8H513.5zM544.6 174.8H552.4V184.3H544.6zM575.8 184.3H583.6V193.8H575.8zM575.8 203.3H583.6V212.8H575.8zM614.7 155.8H622.5V165.3H614.7zM591.3 165.3H599.1V174.8H591.3zM622.5 165.3H630.3V174.8H622.5zM622.5 184.3H630.3V193.8H622.5zM630.3 184.3H638.1V193.8H630.3zM599.1 193.8H606.9V203.3H599.1zM677 193.8H684.8V203.3H677zM715.9 155.8H723.7V165.3H715.9zM723.7 184.3H731.5V193.8H723.7zM770.4 155.8H778.2V165.3H770.4zM778.2 155.8H786V165.3H778.2zM778.2 184.3H786V193.8H778.2zM793.8 184.3H800.4V193.8H793.8zM754.8 193.8H762.6V203.3H754.8zM762.6 203.3H770.4V212.8H762.6zM248.8 250.6H256.6V260.1H248.8zM233.2 260.1H241V269.6H233.2zM248.8 260.1H256.6V269.6H248.8zM225.4 269.6H233.2V279.1H225.4zM241 269.6H248.8V279.1H241zM295.5 231.6H303.3V241.1H295.5zM295.5 241.1H303.3V250.6H295.5zM295.5 250.6H303.3V260.1H295.5zM264.3 269.6H272.1V279.1H264.3zM272.1 269.6H279.9V279.1H272.1zM287.7 269.6H295.5V279.1H287.7zM334.4 222.1H342.2V231.6H334.4zM350 222.1H357.8V231.6H350zM342.2 250.6H350V260.1H342.2zM388.9 222.1H396.7V231.6H388.9zM373.3 250.6H381.1V260.1H373.3zM396.7 250.6H404.5V260.1H396.7zM459 231.6H466.8V241.1H459zM568 222.1H575.8V231.6H568zM575.8 241.1H583.6V250.6H575.8zM552.4 250.6H560.2V260.1H552.4zM560.2 250.6H568V260.1H560.2zM591.3 222.1H599.1V231.6H591.3zM591.3 231.6H599.1V241.1H591.3zM599.1 241.1H606.9V250.6H599.1zM731.5 231.6H739.3V241.1H731.5zM778.2 241.1H786V250.6H778.2zM303.3 297.8H311.1V307.3H303.3zM264.3 307.3H272.1V316.8H264.3zM279.9 326.3H287.7V335.8H279.9zM295.5 326.3H303.3V335.8H295.5zM287.7 335.8H295.5V345.3H287.7zM334.4 288.3H342.2V297.8H334.4zM326.6 297.8H334.4V307.3H326.6zM342.2 307.3H350V316.8H342.2zM334.4 326.3H342.2V335.8H334.4zM373.3 307.3H381.1V316.8H373.3zM381.1 316.8H388.9V326.3H381.1zM412.3 326.3H420.1V335.8H412.3zM381.1 335.8H388.9V345.3H381.1zM404.5 335.8H412.3V345.3H404.5zM427.8 297.8H435.6V307.3H427.8zM451.2 297.8H459V307.3H451.2zM466.8 297.8H474.6V307.3H466.8zM427.8 307.3H435.6V316.8H427.8zM459 326.3H466.8V335.8H459zM466.8 326.3H474.6V335.8H466.8zM482.3 297.8H490.1V307.3H482.3zM513.5 307.3H521.3V316.8H513.5zM482.3 316.8H490.1V326.3H482.3zM505.7 326.3H513.5V335.8H505.7zM521.3 335.8H529.1V345.3H521.3zM575.8 288.3H583.6V297.8H575.8zM575.8 307.3H583.6V316.8H575.8zM552.4 326.3H560.2V335.8H552.4zM575.8 335.8H583.6V345.3H575.8zM622.5 297.8H630.3V307.3H622.5zM599.1 326.3H606.9V335.8H599.1zM622.5 326.3H630.3V335.8H622.5zM606.9 335.8H614.7V345.3H606.9zM684.8 307.3H692.6V316.8H684.8zM778.2 288.3H786V297.8H778.2zM770.4 316.8H778.2V326.3H770.4zM762.6 326.3H770.4V335.8H762.6zM272.1 364.1H279.9V373.6H272.1zM279.9 364.1H287.7V373.6H279.9zM303.3 373.6H311.1V383.1H303.3zM295.5 383.1H303.3V392.6H295.5zM264.3 402.1H272.1V411.6H264.3zM287.7 402.1H295.5V411.6H287.7zM334.4 354.6H342.2V364.1H334.4zM350 364.1H357.8V373.6H350zM357.8 383.1H365.6V392.6H357.8zM412.3 373.6H420.1V383.1H412.3zM388.9 383.1H396.7V392.6H388.9zM381.1 402.1H388.9V411.6H381.1zM451.2 364.1H459V373.6H451.2zM451.2 402.1H459V411.6H451.2zM536.8 354.6H544.6V364.1H536.8zM544.6 354.6H552.4V364.1H544.6zM552.4 354.6H560.2V364.1H552.4zM536.8 373.6H544.6V383.1H536.8zM544.6 373.6H552.4V383.1H544.6zM591.3 373.6H599.1V383.1H591.3zM599.1 373.6H606.9V383.1H599.1zM591.3 383.1H599.1V392.6H591.3zM606.9 402.1H614.7V411.6H606.9zM708.1 383.1H715.9V392.6H708.1zM715.9 392.6H723.7V402.1H715.9zM786 354.6H793.8V364.1H786zM754.8 392.6H762.6V402.1H754.8zM272.1 420.8H279.9V430.3H272.1zM287.7 449.3H295.5V458.8H287.7zM303.3 458.8H311.1V468.3H303.3zM264.3 468.3H272.1V477.8H264.3zM279.9 468.3H287.7V477.8H279.9zM357.8 430.3H365.6V439.8H357.8zM326.6 439.8H334.4V449.3H326.6zM342.2 439.8H350V449.3H342.2zM350 468.3H357.8V477.8H350zM381.1 458.8H388.9V468.3H381.1zM412.3 468.3H420.1V477.8H412.3zM443.4 420.8H451.2V430.3H443.4zM466.8 420.8H474.6V430.3H466.8zM427.8 430.3H435.6V439.8H427.8zM427.8 439.8H435.6V449.3H427.8zM466.8 458.8H474.6V468.3H466.8zM490.1 439.8H497.9V449.3H490.1zM560.2 430.3H568V439.8H560.2zM568 449.3H575.8V458.8H568zM544.6 468.3H552.4V477.8H544.6zM599.1 420.8H606.9V430.3H599.1zM614.7 420.8H622.5V430.3H614.7zM645.8 430.3H653.6V439.8H645.8zM669.2 430.3H677V439.8H669.2zM645.8 458.8H653.6V468.3H645.8zM708.1 449.3H715.9V458.8H708.1zM762.6 430.3H770.4V439.8H762.6zM762.6 458.8H770.4V468.3H762.6zM786 458.8H793.8V468.3H786zM264.3 496.6H272.1V506.1H264.3zM264.3 506.1H272.1V515.5H264.3zM295.5 506.1H303.3V515.5H295.5zM303.3 506.1H311.1V515.5H303.3zM287.7 525H295.5V534.5H287.7zM303.3 525H311.1V534.5H303.3zM334.4 496.6H342.2V506.1H334.4zM357.8 496.6H365.6V506.1H357.8zM357.8 506.1H365.6V515.5H357.8zM350 525H357.8V534.5H350zM318.8 534.5H326.6V544H318.8zM412.3 506.1H420.1V515.5H412.3zM373.3 534.5H381.1V544H373.3zM451.2 487.1H459V496.6H451.2zM466.8 496.6H474.6V506.1H466.8zM459 515.5H466.8V525H459zM443.4 525H451.2V534.5H443.4zM427.8 534.5H435.6V544H427.8zM497.9 496.6H505.7V506.1H497.9zM521.3 506.1H529.1V515.5H521.3zM505.7 515.5H513.5V525H505.7zM497.9 525H505.7V534.5H497.9zM552.4 496.6H560.2V506.1H552.4zM552.4 515.5H560.2V525H552.4zM599.1 506.1H606.9V515.5H599.1zM622.5 506.1H630.3V515.5H622.5zM630.3 525H638.1V534.5H630.3zM669.2 496.6H677V506.1H669.2zM684.8 496.6H692.6V506.1H684.8zM677 506.1H684.8V515.5H677zM669.2 525H677V534.5H669.2zM677 534.5H684.8V544H677zM708.1 496.6H715.9V506.1H708.1zM700.3 525H708.1V534.5H700.3zM708.1 534.5H715.9V544H708.1zM762.6 534.5H770.4V544H762.6zM295.5 553.3H303.3V562.8H295.5zM264.3 572.3H272.1V581.8H264.3zM272.1 572.3H279.9V581.8H272.1zM287.7 600.8H295.5V610.3H287.7zM350 553.3H357.8V562.8H350zM357.8 553.3H365.6V562.8H357.8zM342.2 562.8H350V572.3H342.2zM318.8 572.3H326.6V581.8H318.8zM334.4 572.3H342.2V581.8H334.4zM342.2 572.3H350V581.8H342.2zM357.8 581.8H365.6V591.3H357.8zM342.2 591.3H350V600.8H342.2zM326.6 600.8H334.4V610.3H326.6zM412.3 553.3H420.1V562.8H412.3zM381.1 581.8H388.9V591.3H381.1zM381.1 591.3H388.9V600.8H381.1zM388.9 591.3H396.7V600.8H388.9zM435.6 572.3H443.4V581.8H435.6zM490.1 562.8H497.9V572.3H490.1zM497.9 572.3H505.7V581.8H497.9zM513.5 572.3H521.3V581.8H513.5zM536.8 572.3H544.6V581.8H536.8zM591.3 562.8H599.1V572.3H591.3zM599.1 572.3H606.9V581.8H599.1zM677 572.3H684.8V581.8H677zM653.6 581.8H661.4V591.3H653.6zM653.6 591.3H661.4V600.8H653.6zM715.9 553.3H723.7V562.8H715.9zM723.7 553.3H731.5V562.8H723.7zM739.3 600.8H747.1V610.3H739.3zM762.6 553.3H770.4V562.8H762.6zM778.2 572.3H786V581.8H778.2zM793.8 572.3H800.4V581.8H793.8zM754.8 600.8H762.6V610.3H754.8zM793.8 600.8H800.4V610.3H793.8zM264.3 638.5H272.1V648H264.3zM303.3 638.5H311.1V648H303.3zM287.7 657.5H295.5V667H287.7zM342.2 619.5H350V629H342.2zM357.8 619.5H365.6V629H357.8zM318.8 629H326.6V638.5H318.8zM357.8 629H365.6V638.5H357.8zM350 638.5H357.8V648H350zM326.6 657.5H334.4V667H326.6zM396.7 619.5H404.5V629H396.7zM373.3 638.5H381.1V648H373.3zM427.8 629H435.6V638.5H427.8zM435.6 638.5H443.4V648H435.6zM443.4 657.5H451.2V667H443.4zM435.6 667H443.4V676.5H435.6zM490.1 619.5H497.9V629H490.1zM490.1 648H497.9V657.5H490.1zM490.1 667H497.9V676.5H490.1zM513.5 667H521.3V676.5H513.5zM521.3 667H529.1V676.5H521.3zM575.8 619.5H583.6V629H575.8zM568 629H575.8V638.5H568zM536.8 638.5H544.6V648H536.8zM536.8 657.5H544.6V667H536.8zM575.8 657.5H583.6V667H575.8zM622.5 638.5H630.3V648H622.5zM684.8 619.5H692.6V629H684.8zM661.4 629H669.2V638.5H661.4zM669.2 638.5H677V648H669.2zM677 638.5H684.8V648H677zM645.8 648H653.6V657.5H645.8zM669.2 657.5H677V667H669.2zM700.3 638.5H708.1V648H700.3zM708.1 638.5H715.9V648H708.1zM715.9 648H723.7V657.5H715.9zM708.1 657.5H715.9V667H708.1zM731.5 667H739.3V676.5H731.5zM793.8 629H800.4V638.5H793.8zM778.2 638.5H786V648H778.2zM770.4 667H778.2V676.5H770.4zM412.3 704.8H420.1V714.3H412.3zM381.1 714.3H388.9V723.8H381.1zM381.1 733.3H388.9V741.4H381.1zM404.5 733.3H412.3V741.4H404.5zM466.8 685.8H474.6V695.3H466.8zM451.2 695.3H459V704.8H451.2zM427.8 723.8H435.6V733.3H427.8zM435.6 723.8H443.4V733.3H435.6zM443.4 733.3H451.2V741.4H443.4zM505.7 714.3H513.5V723.8H505.7zM490.1 723.8H497.9V733.3H490.1zM544.6 714.3H552.4V723.8H544.6zM575.8 714.3H583.6V723.8H575.8zM614.7 695.3H622.5V704.8H614.7zM630.3 714.3H638.1V723.8H630.3zM622.5 723.8H630.3V733.3H622.5zM645.8 685.8H653.6V695.3H645.8zM715.9 695.3H723.7V704.8H715.9zM731.5 733.3H739.3V741.4H731.5zM778.2 695.3H786V704.8H778.2zM778.2 704.8H786V714.3H778.2z"/>
<path fill="#f0f0f0" d="M156.4 70.8H163.1V80.3H156.4zM443.4 61.3H451.2V70.8H443.4zM521.3 61.3H529.1V70.8H521.3zM568 70.8H575.8V80.3H568zM217.6 99H225.4V108.5H217.6zM279.9 118H287.7V127.5H279.9zM279.9 137.1H287.7V146.6H279.9zM435.6 118H443.4V127.5H435.6zM427.8 127.5H435.6V137.1H427.8zM669.2 127.5H677V137.1H669.2zM700.3 118H708.1V127.5H700.3zM170.9 203.3H178.7V212.8H170.9zM209.8 155.8H217.6V165.3H209.8zM241 165.3H248.8V174.8H241zM342.2 174.8H350V184.3H342.2zM396.7 203.3H404.5V212.8H396.7zM544.6 269.6H552.4V279.1H544.6zM653.6 241.1H661.4V250.6H653.6zM264.3 288.3H272.1V297.8H264.3zM303.3 326.3H311.1V335.8H303.3zM669.2 316.8H677V326.3H669.2zM264.3 364.1H272.1V373.6H264.3zM342.2 383.1H350V392.6H342.2zM427.8 364.1H435.6V373.6H427.8zM490.1 354.6H497.9V364.1H490.1zM513.5 354.6H521.3V364.1H513.5zM786 364.1H793.8V373.6H786zM466.8 468.3H474.6V477.8H466.8zM264.3 534.5H272.1V544H264.3zM443.4 496.6H451.2V506.1H443.4zM505.7 553.3H513.5V562.8H505.7zM521.3 572.3H529.1V581.8H521.3zM264.3 619.5H272.1V629H264.3zM412.3 619.5H420.1V629H412.3zM466.8 648H474.6V657.5H466.8zM606.9 657.5H614.7V667H606.9z"/>
<path fill="#c9c9c9" d="M186.5 70.8H194.3V80.3H186.5zM241 24H248.8V32.8H241zM241 32.8H248.8V42.3H241zM279.9 51.8H287.7V61.3H279.9zM318.8 32.8H326.6V42.3H318.8zM326.6 32.8H334.4V42.3H326.6zM318.8 42.3H326.6V51.8H318.8zM342.2 42.3H350V51.8H342.2zM350 42.3H357.8V51.8H350zM318.8 51.8H326.6V61.3H318.8zM334.4 51.8H342.2V61.3H334.4zM326.6 61.3H334.4V70.8H326.6zM350 70.8H357.8V80.3H350zM373.3 32.8H381.1V42.3H373.3zM381.1 70.8H388.9V80.3H381.1zM427.8 42.3H435.6V51.8H427.8zM435.6 70.8H443.4V80.3H435.6zM482.3 24H490.1V32.8H482.3zM497.9 32.8H505.7V42.3H497.9zM505.7 32.8H513.5V42.3H505.7zM497.9 42.3H505.7V51.8H497.9zM505.7 42.3H513.5V51.8H505.7zM482.3 61.3H490.1V70.8H482.3zM505.7 70.8H513.5V80.3H505.7zM575.8 32.8H583.6V42.3H575.8zM568 42.3H575.8V51.8H568zM536.8 51.8H544.6V61.3H536.8zM552.4 51.8H560.2V61.3H552.4zM568 51.8H575.8V61.3H568zM536.8 61.3H544.6V70.8H536.8zM599.1 51.8H606.9V61.3H599.1zM606.9 61.3H614.7V70.8H606.9zM606.9 70.8H614.7V80.3H606.9zM630.3 70.8H638.1V80.3H630.3zM684.8 24H692.6V32.8H684.8zM653.6 32.8H661.4V42.3H653.6zM669.2 42.3H677V51.8H669.2zM661.4 51.8H669.2V61.3H661.4zM645.8 70.8H653.6V80.3H645.8zM186.5 137.1H194.3V146.6H186.5zM194.3 137.1H202.1V146.6H194.3zM209.8 99H217.6V108.5H209.8zM209.8 108.5H217.6V118H209.8zM248.8 118H256.6V127.5H248.8zM241 127.5H248.8V137.1H241zM209.8 137.1H217.6V146.6H209.8zM272.1 108.5H279.9V118H272.1zM287.7 137.1H295.5V146.6H287.7zM334.4 118H342.2V127.5H334.4zM350 118H357.8V127.5H350zM350 127.5H357.8V137.1H350zM388.9 99H396.7V108.5H388.9zM388.9 118H396.7V127.5H388.9zM373.3 127.5H381.1V137.1H373.3zM381.1 127.5H388.9V137.1H381.1zM412.3 137.1H420.1V146.6H412.3zM459 89.5H466.8V99H459zM443.4 118H451.2V127.5H443.4zM490.1 99H497.9V108.5H490.1zM521.3 108.5H529.1V118H521.3zM505.7 118H513.5V127.5H505.7zM505.7 137.1H513.5V146.6H505.7zM521.3 137.1H529.1V146.6H521.3zM568 89.5H575.8V99H568zM544.6 108.5H552.4V118H544.6zM568 108.5H575.8V118H568zM544.6 118H552.4V127.5H544.6zM568 118H575.8V127.5H568zM568 127.5H575.8V137.1H568zM552.4 137.1H560.2V146.6H552.4zM568 137.1H575.8V146.6H568zM614.7 89.5H622.5V99H614.7zM622.5 99H630.3V108.5H622.5zM599.1 127.5H606.9V137.1H599.1zM630.3 127.5H638.1V137.1H630.3zM591.3 137.1H599.1V146.6H591.3zM622.5 137.1H630.3V146.6H622.5zM630.3 137.1H638.1V146.6H630.3zM661.4 108.5H669.2V118H661.4zM677 118H684.8V127.5H677zM700.3 89.5H708.1V99H700.3zM786 99H793.8V108.5H786zM754.8 118H762.6V127.5H754.8zM762.6 118H770.4V127.5H762.6zM770.4 118H778.2V127.5H770.4zM786 127.5H793.8V137.1H786zM762.6 137.1H770.4V146.6H762.6zM156.4 165.3H163.1V174.8H156.4zM170.9 165.3H178.7V174.8H170.9zM156.4 174.8H163.1V184.3H156.4zM163.1 184.3H170.9V193.8H163.1zM163.1 203.3H170.9V212.8H163.1zM217.6 155.8H225.4V165.3H217.6zM209.8 174.8H217.6V184.3H209.8zM248.8 184.3H256.6V193.8H248.8zM233.2 203.3H241V212.8H233.2zM248.8 203.3H256.6V212.8H248.8zM264.3 174.8H272.1V184.3H264.3zM303.3 174.8H311.1V184.3H303.3zM264.3 193.8H272.1V203.3H264.3zM264.3 203.3H272.1V212.8H264.3zM287.7 203.3H295.5V212.8H287.7zM342.2 165.3H350V174.8H342.2zM318.8 193.8H326.6V203.3H318.8zM373.3 155.8H381.1V165.3H373.3zM381.1 155.8H388.9V165.3H381.1zM404.5 174.8H412.3V184.3H404.5zM427.8 155.8H435.6V165.3H427.8zM459 174.8H466.8V184.3H459zM435.6 184.3H443.4V193.8H435.6zM482.3 174.8H490.1V184.3H482.3zM490.1 184.3H497.9V193.8H490.1zM497.9 184.3H505.7V193.8H497.9zM490.1 193.8H497.9V203.3H490.1zM513.5 193.8H521.3V203.3H513.5zM497.9 203.3H505.7V212.8H497.9zM521.3 203.3H529.1V212.8H521.3zM568 155.8H575.8V165.3H568zM560.2 165.3H568V174.8H560.2zM568 184.3H575.8V193.8H568zM544.6 193.8H552.4V203.3H544.6zM630.3 155.8H638.1V165.3H630.3zM614.7 174.8H622.5V184.3H614.7zM591.3 184.3H599.1V193.8H591.3zM606.9 184.3H614.7V193.8H606.9zM599.1 203.3H606.9V212.8H599.1zM669.2 155.8H677V165.3H669.2zM684.8 155.8H692.6V165.3H684.8zM661.4 165.3H669.2V174.8H661.4zM645.8 174.8H653.6V184.3H645.8zM653.6 184.3H661.4V193.8H653.6zM677 184.3H684.8V193.8H677zM645.8 193.8H653.6V203.3H645.8zM661.4 193.8H669.2V203.3H661.4zM700.3 155.8H708.1V165.3H700.3zM708.1 165.3H715.9V174.8H708.1zM715.9 165.3H723.7V174.8H715.9zM715.9 184.3H723.7V193.8H715.9zM700.3 193.8H708.1V203.3H700.3zM731.5 193.8H739.3V203.3H731.5zM770.4 174.8H778.2V184.3H770.4zM778.2 174.8H786V184.3H778.2zM770.4 203.3H778.2V212.8H770.4zM209.8 250.6H217.6V260.1H209.8zM233.2 250.6H241V260.1H233.2zM303.3 222.1H311.1V231.6H303.3zM264.3 250.6H272.1V260.1H264.3zM326.6 250.6H334.4V260.1H326.6zM318.8 260.1H326.6V269.6H318.8zM412.3 222.1H420.1V231.6H412.3zM412.3 241.1H420.1V250.6H412.3zM404.5 250.6H412.3V260.1H404.5zM388.9 260.1H396.7V269.6H388.9zM435.6 222.1H443.4V231.6H435.6zM451.2 231.6H459V241.1H451.2zM443.4 241.1H451.2V250.6H443.4zM497.9 222.1H505.7V231.6H497.9zM490.1 231.6H497.9V241.1H490.1zM505.7 231.6H513.5V241.1H505.7zM513.5 241.1H521.3V250.6H513.5zM490.1 250.6H497.9V260.1H490.1zM497.9 250.6H505.7V260.1H497.9zM505.7 250.6H513.5V260.1H505.7zM505.7 260.1H513.5V269.6H505.7zM536.8 241.1H544.6V250.6H536.8zM568 241.1H575.8V250.6H568zM536.8 250.6H544.6V260.1H536.8zM568 250.6H575.8V260.1H568zM614.7 222.1H622.5V231.6H614.7zM630.3 250.6H638.1V260.1H630.3zM591.3 269.6H599.1V279.1H591.3zM599.1 269.6H606.9V279.1H599.1zM653.6 222.1H661.4V231.6H653.6zM661.4 231.6H669.2V241.1H661.4zM684.8 231.6H692.6V241.1H684.8zM677 250.6H684.8V260.1H677zM684.8 250.6H692.6V260.1H684.8zM645.8 260.1H653.6V269.6H645.8zM684.8 260.1H692.6V269.6H684.8zM669.2 269.6H677V279.1H669.2zM700.3 222.1H708.1V231.6H700.3zM731.5 241.1H739.3V250.6H731.5zM700.3 250.6H708.1V260.1H700.3zM739.3 250.6H747.1V260.1H739.3zM715.9 260.1H723.7V269.6H715.9zM739.3 260.1H747.1V269.6H739.3zM708.1 269.6H715.9V279.1H708.1zM723.7 269.6H731.5V279.1H723.7zM770.4 222.1H778.2V231.6H770.4zM778.2 250.6H786V260.1H778.2zM770.4 260.1H778.2V269.6H770.4zM287.7 297.8H295.5V307.3H287.7zM287.7 307.3H295.5V316.8H287.7zM326.6 307.3H334.4V316.8H326.6zM357.8 307.3H365.6V316.8H357.8zM318.8 316.8H326.6V326.3H318.8zM342.2 326.3H350V335.8H342.2zM357.8 335.8H365.6V345.3H357.8zM373.3 288.3H381.1V297.8H373.3zM412.3 288.3H420.1V297.8H412.3zM388.9 297.8H396.7V307.3H388.9zM373.3 316.8H381.1V326.3H373.3zM443.4 335.8H451.2V345.3H443.4zM451.2 335.8H459V345.3H451.2zM505.7 288.3H513.5V297.8H505.7zM490.1 297.8H497.9V307.3H490.1zM513.5 297.8H521.3V307.3H513.5zM497.9 307.3H505.7V316.8H497.9zM497.9 326.3H505.7V335.8H497.9zM536.8 288.3H544.6V297.8H536.8zM568 288.3H575.8V297.8H568zM568 297.8H575.8V307.3H568zM544.6 307.3H552.4V316.8H544.6zM575.8 316.8H583.6V326.3H575.8zM560.2 326.3H568V335.8H560.2zM552.4 335.8H560.2V345.3H552.4zM614.7 297.8H622.5V307.3H614.7zM622.5 307.3H630.3V316.8H622.5zM630.3 307.3H638.1V316.8H630.3zM591.3 316.8H599.1V326.3H591.3zM606.9 326.3H614.7V335.8H606.9zM599.1 335.8H606.9V345.3H599.1zM622.5 335.8H630.3V345.3H622.5zM645.8 288.3H653.6V297.8H645.8zM653.6 288.3H661.4V297.8H653.6zM669.2 307.3H677V316.8H669.2zM653.6 326.3H661.4V335.8H653.6zM669.2 326.3H677V335.8H669.2zM684.8 326.3H692.6V335.8H684.8zM661.4 335.8H669.2V345.3H661.4zM715.9 288.3H723.7V297.8H715.9zM731.5 288.3H739.3V297.8H731.5zM700.3 297.8H708.1V307.3H700.3zM770.4 288.3H778.2V297.8H770.4zM754.8 316.8H762.6V326.3H754.8zM295.5 364.1H303.3V373.6H295.5zM303.3 364.1H311.1V373.6H303.3zM303.3 383.1H311.1V392.6H303.3zM357.8 364.1H365.6V373.6H357.8zM334.4 373.6H342.2V383.1H334.4zM357.8 392.6H365.6V402.1H357.8zM388.9 364.1H396.7V373.6H388.9zM381.1 383.1H388.9V392.6H381.1zM388.9 402.1H396.7V411.6H388.9zM404.5 402.1H412.3V411.6H404.5zM427.8 354.6H435.6V364.1H427.8zM466.8 364.1H474.6V373.6H466.8zM435.6 392.6H443.4V402.1H435.6zM427.8 402.1H435.6V411.6H427.8zM443.4 402.1H451.2V411.6H443.4zM521.3 364.1H529.1V373.6H521.3zM490.1 373.6H497.9V383.1H490.1zM490.1 383.1H497.9V392.6H490.1zM490.1 392.6H497.9V402.1H490.1zM521.3 392.6H529.1V402.1H521.3zM552.4 364.1H560.2V373.6H552.4zM560.2 373.6H568V383.1H560.2zM536.8 383.1H544.6V392.6H536.8zM544.6 392.6H552.4V402.1H544.6zM552.4 392.6H560.2V402.1H552.4zM591.3 354.6H599.1V364.1H591.3zM614.7 354.6H622.5V364.1H614.7zM630.3 354.6H638.1V364.1H630.3zM622.5 383.1H630.3V392.6H622.5zM630.3 383.1H638.1V392.6H630.3zM591.3 402.1H599.1V411.6H591.3zM661.4 364.1H669.2V373.6H661.4zM645.8 383.1H653.6V392.6H645.8zM708.1 354.6H715.9V364.1H708.1zM708.1 392.6H715.9V402.1H708.1zM723.7 402.1H731.5V411.6H723.7zM739.3 402.1H747.1V411.6H739.3zM793.8 364.1H800.4V373.6H793.8zM754.8 373.6H762.6V383.1H754.8zM754.8 383.1H762.6V392.6H754.8zM793.8 392.6H800.4V402.1H793.8zM793.8 402.1H800.4V411.6H793.8zM287.7 430.3H295.5V439.8H287.7zM303.3 439.8H311.1V449.3H303.3zM287.7 458.8H295.5V468.3H287.7zM326.6 420.8H334.4V430.3H326.6zM334.4 430.3H342.2V439.8H334.4zM404.5 430.3H412.3V439.8H404.5zM381.1 468.3H388.9V477.8H381.1zM451.2 458.8H459V468.3H451.2zM505.7 420.8H513.5V430.3H505.7zM482.3 439.8H490.1V449.3H482.3zM513.5 439.8H521.3V449.3H513.5zM482.3 449.3H490.1V458.8H482.3zM490.1 449.3H497.9V458.8H490.1zM497.9 449.3H505.7V458.8H497.9zM505.7 458.8H513.5V468.3H505.7zM513.5 468.3H521.3V477.8H513.5zM568 430.3H575.8V439.8H568zM575.8 430.3H583.6V439.8H575.8zM560.2 439.8H568V449.3H560.2zM568 439.8H575.8V449.3H568zM544.6 458.8H552.4V468.3H544.6zM560.2 458.8H568V468.3H560.2zM568 468.3H575.8V477.8H568zM630.3 420.8H638.1V430.3H630.3zM606.9 430.3H614.7V439.8H606.9zM622.5 430.3H630.3V439.8H622.5zM622.5 439.8H630.3V449.3H622.5zM630.3 449.3H638.1V458.8H630.3zM591.3 468.3H599.1V477.8H591.3zM599.1 468.3H606.9V477.8H599.1zM653.6 420.8H661.4V430.3H653.6zM677 420.8H684.8V430.3H677zM661.4 458.8H669.2V468.3H661.4zM708.1 430.3H715.9V439.8H708.1zM739.3 430.3H747.1V439.8H739.3zM739.3 449.3H747.1V458.8H739.3zM708.1 458.8H715.9V468.3H708.1zM731.5 458.8H739.3V468.3H731.5zM715.9 468.3H723.7V477.8H715.9zM778.2 420.8H786V430.3H778.2zM778.2 430.3H786V439.8H778.2zM793.8 430.3H800.4V439.8H793.8zM279.9 487.1H287.7V496.6H279.9zM303.3 496.6H311.1V506.1H303.3zM287.7 506.1H295.5V515.5H287.7zM279.9 525H287.7V534.5H279.9zM318.8 487.1H326.6V496.6H318.8zM342.2 496.6H350V506.1H342.2zM342.2 506.1H350V515.5H342.2zM326.6 534.5H334.4V544H326.6zM334.4 534.5H342.2V544H334.4zM381.1 487.1H388.9V496.6H381.1zM388.9 487.1H396.7V496.6H388.9zM396.7 506.1H404.5V515.5H396.7zM396.7 515.5H404.5V525H396.7zM381.1 525H388.9V534.5H381.1zM396.7 534.5H404.5V544H396.7zM466.8 487.1H474.6V496.6H466.8zM459 496.6H466.8V506.1H459zM443.4 506.1H451.2V515.5H443.4zM466.8 515.5H474.6V525H466.8zM459 525H466.8V534.5H459zM505.7 487.1H513.5V496.6H505.7zM521.3 515.5H529.1V525H521.3zM560.2 487.1H568V496.6H560.2zM552.4 525H560.2V534.5H552.4zM552.4 534.5H560.2V544H552.4zM568 534.5H575.8V544H568zM606.9 506.1H614.7V515.5H606.9zM591.3 515.5H599.1V525H591.3zM599.1 525H606.9V534.5H599.1zM677 515.5H684.8V525H677zM653.6 525H661.4V534.5H653.6zM731.5 506.1H739.3V515.5H731.5zM739.3 515.5H747.1V525H739.3zM708.1 525H715.9V534.5H708.1zM723.7 525H731.5V534.5H723.7zM786 496.6H793.8V506.1H786zM786 515.5H793.8V525H786zM786 534.5H793.8V544H786zM303.3 553.3H311.1V562.8H303.3zM264.3 562.8H272.1V572.3H264.3zM279.9 572.3H287.7V581.8H279.9zM279.9 581.8H287.7V591.3H279.9zM287.7 581.8H295.5V591.3H287.7zM272.1 600.8H279.9V610.3H272.1zM326.6 553.3H334.4V562.8H326.6zM350 581.8H357.8V591.3H350zM357.8 591.3H365.6V600.8H357.8zM396.7 553.3H404.5V562.8H396.7zM396.7 572.3H404.5V581.8H396.7zM373.3 581.8H381.1V591.3H373.3zM388.9 600.8H396.7V610.3H388.9zM435.6 553.3H443.4V562.8H435.6zM466.8 562.8H474.6V572.3H466.8zM451.2 572.3H459V581.8H451.2zM490.1 553.3H497.9V562.8H490.1zM482.3 572.3H490.1V581.8H482.3zM497.9 581.8H505.7V591.3H497.9zM497.9 600.8H505.7V610.3H497.9zM536.8 562.8H544.6V572.3H536.8zM568 581.8H575.8V591.3H568zM575.8 591.3H583.6V600.8H575.8zM614.7 562.8H622.5V572.3H614.7zM614.7 572.3H622.5V581.8H614.7zM622.5 572.3H630.3V581.8H622.5zM630.3 591.3H638.1V600.8H630.3zM591.3 600.8H599.1V610.3H591.3zM653.6 553.3H661.4V562.8H653.6zM684.8 562.8H692.6V572.3H684.8zM661.4 581.8H669.2V591.3H661.4zM661.4 600.8H669.2V610.3H661.4zM677 600.8H684.8V610.3H677zM731.5 553.3H739.3V562.8H731.5zM715.9 562.8H723.7V572.3H715.9zM715.9 572.3H723.7V581.8H715.9zM723.7 572.3H731.5V581.8H723.7zM708.1 581.8H715.9V591.3H708.1zM731.5 581.8H739.3V591.3H731.5zM715.9 591.3H723.7V600.8H715.9zM723.7 591.3H731.5V600.8H723.7zM762.6 572.3H770.4V581.8H762.6zM762.6 591.3H770.4V600.8H762.6zM778.2 600.8H786V610.3H778.2zM287.7 648H295.5V657.5H287.7zM264.3 657.5H272.1V667H264.3zM318.8 619.5H326.6V629H318.8zM334.4 638.5H342.2V648H334.4zM326.6 648H334.4V657.5H326.6zM326.6 667H334.4V676.5H326.6zM350 667H357.8V676.5H350zM381.1 619.5H388.9V629H381.1zM373.3 629H381.1V638.5H373.3zM388.9 629H396.7V638.5H388.9zM412.3 629H420.1V638.5H412.3zM396.7 648H404.5V657.5H396.7zM381.1 667H388.9V676.5H381.1zM451.2 619.5H459V629H451.2zM466.8 619.5H474.6V629H466.8zM459 629H466.8V638.5H459zM427.8 638.5H435.6V648H427.8zM466.8 657.5H474.6V667H466.8zM427.8 667H435.6V676.5H427.8zM443.4 667H451.2V676.5H443.4zM459 667H466.8V676.5H459zM482.3 619.5H490.1V629H482.3zM490.1 629H497.9V638.5H490.1zM497.9 638.5H505.7V648H497.9zM505.7 638.5H513.5V648H505.7zM505.7 648H513.5V657.5H505.7zM521.3 657.5H529.1V667H521.3zM536.8 619.5H544.6V629H536.8zM544.6 629H552.4V638.5H544.6zM552.4 657.5H560.2V667H552.4zM568 667H575.8V676.5H568zM575.8 667H583.6V676.5H575.8zM614.7 619.5H622.5V629H614.7zM630.3 619.5H638.1V629H630.3zM614.7 629H622.5V638.5H614.7zM630.3 667H638.1V676.5H630.3zM669.2 619.5H677V629H669.2zM653.6 629H661.4V638.5H653.6zM669.2 629H677V638.5H669.2zM645.8 638.5H653.6V648H645.8zM653.6 638.5H661.4V648H653.6zM661.4 667H669.2V676.5H661.4zM723.7 629H731.5V638.5H723.7zM731.5 638.5H739.3V648H731.5zM739.3 638.5H747.1V648H739.3zM700.3 648H708.1V657.5H700.3zM731.5 657.5H739.3V667H731.5zM762.6 619.5H770.4V629H762.6zM770.4 629H778.2V638.5H770.4zM786 638.5H793.8V648H786zM786 648H793.8V657.5H786zM793.8 657.5H800.4V667H793.8zM793.8 667H800.4V676.5H793.8zM350 695.3H357.8V704.8H350zM342.2 704.8H350V714.3H342.2zM350 704.8H357.8V714.3H350zM350 723.8H357.8V733.3H350zM342.2 733.3H350V741.4H342.2zM396.7 685.8H404.5V695.3H396.7zM373.3 695.3H381.1V704.8H373.3zM373.3 723.8H381.1V733.3H373.3zM513.5 685.8H521.3V695.3H513.5zM513.5 714.3H521.3V723.8H513.5zM497.9 733.3H505.7V741.4H497.9zM505.7 733.3H513.5V741.4H505.7zM560.2 704.8H568V714.3H560.2zM552.4 733.3H560.2V741.4H552.4zM560.2 733.3H568V741.4H560.2zM568 733.3H575.8V741.4H568zM622.5 685.8H630.3V695.3H622.5zM606.9 704.8H614.7V714.3H606.9zM599.1 714.3H606.9V723.8H599.1zM591.3 733.3H599.1V741.4H591.3zM599.1 733.3H606.9V741.4H599.1zM614.7 733.3H622.5V741.4H614.7zM661.4 714.3H669.2V723.8H661.4zM661.4 733.3H669.2V741.4H661.4zM723.7 695.3H731.5V704.8H723.7zM715.9 704.8H723.7V714.3H715.9zM723.7 704.8H731.5V714.3H723.7zM731.5 714.3H739.3V723.8H731.5zM770.4 695.3H778.2V704.8H770.4zM786 714.3H793.8V723.8H786zM793.8 714.3H800.4V723.8H793.8zM778.2 723.8H786V733.3H778.2zM762.6 733.3H770.4V741.4H762.6z"/>
<path fill="#c3c3c3" d="M209.8 24H217.6V32.8H209.8zM264.3 32.8H272.1V42.3H264.3zM342.2 51.8H350V61.3H342.2zM334.4 70.8H342.2V80.3H334.4zM513.5 42.3H521.3V51.8H513.5zM490.1 51.8H497.9V61.3H490.1zM505.7 61.3H513.5V70.8H505.7zM513.5 61.3H521.3V70.8H513.5zM544.6 24H552.4V32.8H544.6zM536.8 32.8H544.6V42.3H536.8zM599.1 24H606.9V32.8H599.1zM630.3 32.8H638.1V42.3H630.3zM591.3 61.3H599.1V70.8H591.3zM614.7 70.8H622.5V80.3H614.7zM669.2 24H677V32.8H669.2zM653.6 51.8H661.4V61.3H653.6zM669.2 61.3H677V70.8H669.2zM178.7 108.5H186.5V118H178.7zM248.8 108.5H256.6V118H248.8zM217.6 137.1H225.4V146.6H217.6zM295.5 127.5H303.3V137.1H295.5zM326.6 137.1H334.4V146.6H326.6zM373.3 89.5H381.1V99H373.3zM388.9 127.5H396.7V137.1H388.9zM404.5 127.5H412.3V137.1H404.5zM443.4 127.5H451.2V137.1H443.4zM490.1 89.5H497.9V99H490.1zM490.1 118H497.9V127.5H490.1zM490.1 127.5H497.9V137.1H490.1zM521.3 127.5H529.1V137.1H521.3zM591.3 108.5H599.1V118H591.3zM645.8 99H653.6V108.5H645.8zM669.2 108.5H677V118H669.2zM739.3 89.5H747.1V99H739.3zM708.1 108.5H715.9V118H708.1zM731.5 108.5H739.3V118H731.5zM739.3 108.5H747.1V118H739.3zM715.9 118H723.7V127.5H715.9zM723.7 118H731.5V127.5H723.7zM700.3 137.1H708.1V146.6H700.3zM770.4 89.5H778.2V99H770.4zM778.2 89.5H786V99H778.2zM778.2 99H786V108.5H778.2zM793.8 108.5H800.4V118H793.8zM778.2 118H786V127.5H778.2zM156.4 193.8H163.1V203.3H156.4zM217.6 193.8H225.4V203.3H217.6zM248.8 193.8H256.6V203.3H248.8zM295.5 155.8H303.3V165.3H295.5zM264.3 165.3H272.1V174.8H264.3zM326.6 184.3H334.4V193.8H326.6zM388.9 184.3H396.7V193.8H388.9zM466.8 174.8H474.6V184.3H466.8zM451.2 203.3H459V212.8H451.2zM536.8 165.3H544.6V174.8H536.8zM560.2 174.8H568V184.3H560.2zM575.8 174.8H583.6V184.3H575.8zM560.2 193.8H568V203.3H560.2zM552.4 203.3H560.2V212.8H552.4zM568 203.3H575.8V212.8H568zM591.3 193.8H599.1V203.3H591.3zM653.6 165.3H661.4V174.8H653.6zM708.1 155.8H715.9V165.3H708.1zM762.6 184.3H770.4V193.8H762.6zM786 184.3H793.8V193.8H786zM217.6 222.1H225.4V231.6H217.6zM241 222.1H248.8V231.6H241zM326.6 222.1H334.4V231.6H326.6zM326.6 231.6H334.4V241.1H326.6zM342.2 231.6H350V241.1H342.2zM427.8 222.1H435.6V231.6H427.8zM443.4 222.1H451.2V231.6H443.4zM451.2 222.1H459V231.6H451.2zM459 241.1H466.8V250.6H459zM443.4 250.6H451.2V260.1H443.4zM435.6 269.6H443.4V279.1H435.6zM466.8 269.6H474.6V279.1H466.8zM482.3 260.1H490.1V269.6H482.3zM575.8 222.1H583.6V231.6H575.8zM544.6 231.6H552.4V241.1H544.6zM552.4 260.1H560.2V269.6H552.4zM575.8 269.6H583.6V279.1H575.8zM599.1 231.6H606.9V241.1H599.1zM622.5 241.1H630.3V250.6H622.5zM591.3 260.1H599.1V269.6H591.3zM614.7 269.6H622.5V279.1H614.7zM669.2 231.6H677V241.1H669.2zM645.8 241.1H653.6V250.6H645.8zM645.8 250.6H653.6V260.1H645.8zM661.4 250.6H669.2V260.1H661.4zM645.8 269.6H653.6V279.1H645.8zM739.3 231.6H747.1V241.1H739.3zM708.1 241.1H715.9V250.6H708.1zM723.7 260.1H731.5V269.6H723.7zM731.5 260.1H739.3V269.6H731.5zM762.6 231.6H770.4V241.1H762.6zM770.4 231.6H778.2V241.1H770.4zM786 241.1H793.8V250.6H786zM778.2 260.1H786V269.6H778.2zM279.9 307.3H287.7V316.8H279.9zM272.1 335.8H279.9V345.3H272.1zM342.2 297.8H350V307.3H342.2zM318.8 335.8H326.6V345.3H318.8zM459 307.3H466.8V316.8H459zM497.9 297.8H505.7V307.3H497.9zM482.3 307.3H490.1V316.8H482.3zM482.3 326.3H490.1V335.8H482.3zM552.4 288.3H560.2V297.8H552.4zM575.8 297.8H583.6V307.3H575.8zM536.8 335.8H544.6V345.3H536.8zM591.3 288.3H599.1V297.8H591.3zM630.3 288.3H638.1V297.8H630.3zM606.9 307.3H614.7V316.8H606.9zM614.7 307.3H622.5V316.8H614.7zM591.3 335.8H599.1V345.3H591.3zM661.4 288.3H669.2V297.8H661.4zM677 288.3H684.8V297.8H677zM653.6 297.8H661.4V307.3H653.6zM677 307.3H684.8V316.8H677zM661.4 326.3H669.2V335.8H661.4zM677 326.3H684.8V335.8H677zM731.5 307.3H739.3V316.8H731.5zM700.3 316.8H708.1V326.3H700.3zM754.8 288.3H762.6V297.8H754.8zM264.3 373.6H272.1V383.1H264.3zM287.7 373.6H295.5V383.1H287.7zM264.3 392.6H272.1V402.1H264.3zM334.4 383.1H342.2V392.6H334.4zM326.6 392.6H334.4V402.1H326.6zM396.7 364.1H404.5V373.6H396.7zM404.5 383.1H412.3V392.6H404.5zM435.6 354.6H443.4V364.1H435.6zM451.2 354.6H459V364.1H451.2zM451.2 373.6H459V383.1H451.2zM505.7 354.6H513.5V364.1H505.7zM482.3 364.1H490.1V373.6H482.3zM490.1 364.1H497.9V373.6H490.1zM568 354.6H575.8V364.1H568zM544.6 383.1H552.4V392.6H544.6zM560.2 392.6H568V402.1H560.2zM599.1 354.6H606.9V364.1H599.1zM606.9 364.1H614.7V373.6H606.9zM661.4 354.6H669.2V364.1H661.4zM645.8 364.1H653.6V373.6H645.8zM653.6 392.6H661.4V402.1H653.6zM684.8 392.6H692.6V402.1H684.8zM700.3 383.1H708.1V392.6H700.3zM739.3 383.1H747.1V392.6H739.3zM708.1 402.1H715.9V411.6H708.1zM786 373.6H793.8V383.1H786zM793.8 383.1H800.4V392.6H793.8zM770.4 402.1H778.2V411.6H770.4zM350 430.3H357.8V439.8H350zM412.3 420.8H420.1V430.3H412.3zM404.5 449.3H412.3V458.8H404.5zM388.9 468.3H396.7V477.8H388.9zM459 449.3H466.8V458.8H459zM427.8 458.8H435.6V468.3H427.8zM505.7 430.3H513.5V439.8H505.7zM490.1 458.8H497.9V468.3H490.1zM521.3 458.8H529.1V468.3H521.3zM536.8 468.3H544.6V477.8H536.8zM606.9 420.8H614.7V430.3H606.9zM599.1 458.8H606.9V468.3H599.1zM606.9 458.8H614.7V468.3H606.9zM622.5 468.3H630.3V477.8H622.5zM645.8 439.8H653.6V449.3H645.8zM684.8 439.8H692.6V449.3H684.8zM669.2 458.8H677V468.3H669.2zM731.5 430.3H739.3V439.8H731.5zM739.3 439.8H747.1V449.3H739.3zM786 420.8H793.8V430.3H786zM786 430.3H793.8V439.8H786zM770.4 458.8H778.2V468.3H770.4zM793.8 458.8H800.4V468.3H793.8zM778.2 468.3H786V477.8H778.2zM287.7 487.1H295.5V496.6H287.7zM279.9 506.1H287.7V515.5H279.9zM326.6 506.1H334.4V515.5H326.6zM381.1 496.6H388.9V506.1H381.1zM404.5 496.6H412.3V506.1H404.5zM373.3 515.5H381.1V525H373.3zM381.1 515.5H388.9V525H381.1zM373.3 525H381.1V534.5H373.3zM388.9 534.5H396.7V544H388.9zM404.5 534.5H412.3V544H404.5zM513.5 487.1H521.3V496.6H513.5zM505.7 496.6H513.5V506.1H505.7zM497.9 506.1H505.7V515.5H497.9zM521.3 525H529.1V534.5H521.3zM568 515.5H575.8V525H568zM606.9 515.5H614.7V525H606.9zM653.6 487.1H661.4V496.6H653.6zM653.6 506.1H661.4V515.5H653.6zM645.8 515.5H653.6V525H645.8zM700.3 487.1H708.1V496.6H700.3zM723.7 487.1H731.5V496.6H723.7zM739.3 487.1H747.1V496.6H739.3zM715.9 496.6H723.7V506.1H715.9zM723.7 506.1H731.5V515.5H723.7zM793.8 487.1H800.4V496.6H793.8zM786 506.1H793.8V515.5H786zM793.8 506.1H800.4V515.5H793.8zM770.4 515.5H778.2V525H770.4zM754.8 534.5H762.6V544H754.8zM287.7 572.3H295.5V581.8H287.7zM295.5 591.3H303.3V600.8H295.5zM404.5 581.8H412.3V591.3H404.5zM404.5 600.8H412.3V610.3H404.5zM443.4 562.8H451.2V572.3H443.4zM443.4 581.8H451.2V591.3H443.4zM427.8 600.8H435.6V610.3H427.8zM482.3 553.3H490.1V562.8H482.3zM505.7 572.3H513.5V581.8H505.7zM544.6 581.8H552.4V591.3H544.6zM536.8 600.8H544.6V610.3H536.8zM568 600.8H575.8V610.3H568zM599.1 591.3H606.9V600.8H599.1zM645.8 562.8H653.6V572.3H645.8zM669.2 600.8H677V610.3H669.2zM684.8 600.8H692.6V610.3H684.8zM700.3 572.3H708.1V581.8H700.3zM739.3 591.3H747.1V600.8H739.3zM708.1 600.8H715.9V610.3H708.1zM778.2 553.3H786V562.8H778.2zM793.8 553.3H800.4V562.8H793.8zM770.4 572.3H778.2V581.8H770.4zM786 581.8H793.8V591.3H786zM272.1 638.5H279.9V648H272.1zM295.5 648H303.3V657.5H295.5zM303.3 667H311.1V676.5H303.3zM326.6 638.5H334.4V648H326.6zM373.3 619.5H381.1V629H373.3zM381.1 648H388.9V657.5H381.1zM381.1 657.5H388.9V667H381.1zM459 619.5H466.8V629H459zM459 638.5H466.8V648H459zM482.3 629H490.1V638.5H482.3zM482.3 638.5H490.1V648H482.3zM497.9 648H505.7V657.5H497.9zM482.3 657.5H490.1V667H482.3zM490.1 657.5H497.9V667H490.1zM497.9 657.5H505.7V667H497.9zM591.3 657.5H599.1V667H591.3zM677 629H684.8V638.5H677zM684.8 667H692.6V676.5H684.8zM739.3 629H747.1V638.5H739.3zM723.7 638.5H731.5V648H723.7zM731.5 648H739.3V657.5H731.5zM739.3 648H747.1V657.5H739.3zM778.2 629H786V638.5H778.2zM762.6 638.5H770.4V648H762.6zM793.8 648H800.4V657.5H793.8zM778.2 667H786V676.5H778.2zM373.3 685.8H381.1V695.3H373.3zM412.3 723.8H420.1V733.3H412.3zM435.6 685.8H443.4V695.3H435.6zM459 704.8H466.8V714.3H459zM435.6 714.3H443.4V723.8H435.6zM466.8 714.3H474.6V723.8H466.8zM427.8 733.3H435.6V741.4H427.8zM505.7 723.8H513.5V733.3H505.7zM552.4 704.8H560.2V714.3H552.4zM575.8 704.8H583.6V714.3H575.8zM568 723.8H575.8V733.3H568zM599.1 695.3H606.9V704.8H599.1zM630.3 704.8H638.1V714.3H630.3zM614.7 714.3H622.5V723.8H614.7zM630.3 723.8H638.1V733.3H630.3zM677 695.3H684.8V704.8H677zM700.3 685.8H708.1V695.3H700.3zM723.7 685.8H731.5V695.3H723.7zM708.1 695.3H715.9V704.8H708.1zM723.7 714.3H731.5V723.8H723.7zM731.5 723.8H739.3V733.3H731.5zM715.9 733.3H723.7V741.4H715.9zM793.8 685.8H800.4V695.3H793.8zM778.2 733.3H786V741.4H778.2zM786 733.3H793.8V741.4H786z"/>
<path fill="#9f9f9f" d="M217.6 24H225.4V32.8H217.6zM622.5 24H630.3V32.8H622.5zM762.6 165.3H770.4V174.8H762.6zM793.8 174.8H800.4V184.3H793.8zM334.4 231.6H342.2V241.1H334.4zM622.5 269.6H630.3V279.1H622.5zM350 335.8H357.8V345.3H350zM552.4 307.3H560.2V316.8H552.4zM568 335.8H575.8V345.3H568zM684.8 402.1H692.6V411.6H684.8zM427.8 449.3H435.6V458.8H427.8zM505.7 468.3H513.5V477.8H505.7z"/>
<path fill="#dedede" d="M233.2 32.8H241V42.3H233.2zM303.3 42.3H311.1V51.8H303.3zM412.3 70.8H420.1V80.3H412.3zM614.7 42.3H622.5V51.8H614.7zM303.3 89.5H311.1V99H303.3zM287.7 108.5H295.5V118H287.7zM373.3 137.1H381.1V146.6H373.3zM497.9 108.5H505.7V118H497.9zM560.2 137.1H568V146.6H560.2zM731.5 99H739.3V108.5H731.5zM163.1 155.8H170.9V165.3H163.1zM209.8 184.3H217.6V193.8H209.8zM217.6 184.3H225.4V193.8H217.6zM279.9 155.8H287.7V165.3H279.9zM334.4 203.3H342.2V212.8H334.4zM396.7 165.3H404.5V174.8H396.7zM552.4 165.3H560.2V174.8H552.4zM723.7 155.8H731.5V165.3H723.7zM248.8 222.1H256.6V231.6H248.8zM427.8 241.1H435.6V250.6H427.8zM505.7 269.6H513.5V279.1H505.7zM575.8 260.1H583.6V269.6H575.8zM295.5 335.8H303.3V345.3H295.5zM373.3 326.3H381.1V335.8H373.3zM536.8 326.3H544.6V335.8H536.8zM661.4 297.8H669.2V307.3H661.4zM279.9 354.6H287.7V364.1H279.9zM326.6 354.6H334.4V364.1H326.6zM396.7 354.6H404.5V364.1H396.7zM373.3 364.1H381.1V373.6H373.3zM552.4 402.1H560.2V411.6H552.4zM303.3 420.8H311.1V430.3H303.3zM303.3 468.3H311.1V477.8H303.3zM318.8 430.3H326.6V439.8H318.8zM318.8 449.3H326.6V458.8H318.8zM326.6 449.3H334.4V458.8H326.6zM412.3 449.3H420.1V458.8H412.3zM435.6 430.3H443.4V439.8H435.6zM513.5 449.3H521.3V458.8H513.5zM272.1 496.6H279.9V506.1H272.1zM279.9 515.5H287.7V525H279.9zM295.5 534.5H303.3V544H295.5zM350 515.5H357.8V525H350zM412.3 534.5H420.1V544H412.3zM427.8 506.1H435.6V515.5H427.8zM451.2 506.1H459V515.5H451.2zM599.1 515.5H606.9V525H599.1zM482.3 562.8H490.1V572.3H482.3zM497.9 591.3H505.7V600.8H497.9zM279.9 638.5H287.7V648H279.9zM295.5 667H303.3V676.5H295.5zM326.6 619.5H334.4V629H326.6zM388.9 619.5H396.7V629H388.9zM521.3 638.5H529.1V648H521.3zM466.8 695.3H474.6V704.8H466.8zM443.4 714.3H451.2V723.8H443.4zM754.8 704.8H762.6V714.3H754.8zM770.4 723.8H778.2V733.3H770.4z"/>
<path fill="#bdbdbd" d="M233.2 51.8H241V61.3H233.2zM412.3 61.3H420.1V70.8H412.3zM490.1 42.3H497.9V51.8H490.1zM599.1 42.3H606.9V51.8H599.1zM684.8 70.8H692.6V80.3H684.8zM178.7 99H186.5V108.5H178.7zM248.8 99H256.6V108.5H248.8zM342.2 127.5H350V137.1H342.2zM388.9 108.5H396.7V118H388.9zM404.5 137.1H412.3V146.6H404.5zM435.6 99H443.4V108.5H435.6zM536.8 99H544.6V108.5H536.8zM560.2 118H568V127.5H560.2zM622.5 89.5H630.3V99H622.5zM669.2 89.5H677V99H669.2zM684.8 89.5H692.6V99H684.8zM653.6 118H661.4V127.5H653.6zM653.6 137.1H661.4V146.6H653.6zM715.9 99H723.7V108.5H715.9zM233.2 155.8H241V165.3H233.2zM443.4 155.8H451.2V165.3H443.4zM443.4 203.3H451.2V212.8H443.4zM599.1 165.3H606.9V174.8H599.1zM599.1 184.3H606.9V193.8H599.1zM793.8 193.8H800.4V203.3H793.8zM778.2 203.3H786V212.8H778.2zM318.8 222.1H326.6V231.6H318.8zM326.6 269.6H334.4V279.1H326.6zM388.9 269.6H396.7V279.1H388.9zM427.8 260.1H435.6V269.6H427.8zM443.4 260.1H451.2V269.6H443.4zM482.3 241.1H490.1V250.6H482.3zM568 231.6H575.8V241.1H568zM606.9 269.6H614.7V279.1H606.9zM715.9 222.1H723.7V231.6H715.9zM715.9 241.1H723.7V250.6H715.9zM793.8 250.6H800.4V260.1H793.8zM427.8 335.8H435.6V345.3H427.8zM466.8 335.8H474.6V345.3H466.8zM505.7 297.8H513.5V307.3H505.7zM513.5 326.3H521.3V335.8H513.5zM560.2 307.3H568V316.8H560.2zM560.2 316.8H568V326.3H560.2zM606.9 288.3H614.7V297.8H606.9zM599.1 316.8H606.9V326.3H599.1zM630.3 316.8H638.1V326.3H630.3zM614.7 326.3H622.5V335.8H614.7zM630.3 326.3H638.1V335.8H630.3zM661.4 307.3H669.2V316.8H661.4zM708.1 288.3H715.9V297.8H708.1zM708.1 297.8H715.9V307.3H708.1zM723.7 307.3H731.5V316.8H723.7zM731.5 316.8H739.3V326.3H731.5zM700.3 335.8H708.1V345.3H700.3zM778.2 326.3H786V335.8H778.2zM778.2 335.8H786V345.3H778.2zM793.8 335.8H800.4V345.3H793.8zM326.6 364.1H334.4V373.6H326.6zM357.8 402.1H365.6V411.6H357.8zM404.5 373.6H412.3V383.1H404.5zM459 354.6H466.8V364.1H459zM575.8 373.6H583.6V383.1H575.8zM560.2 383.1H568V392.6H560.2zM630.3 364.1H638.1V373.6H630.3zM684.8 383.1H692.6V392.6H684.8zM700.3 354.6H708.1V364.1H700.3zM723.7 373.6H731.5V383.1H723.7zM723.7 392.6H731.5V402.1H723.7zM264.3 420.8H272.1V430.3H264.3zM342.2 420.8H350V430.3H342.2zM334.4 449.3H342.2V458.8H334.4zM505.7 439.8H513.5V449.3H505.7zM560.2 420.8H568V430.3H560.2zM575.8 439.8H583.6V449.3H575.8zM606.9 449.3H614.7V458.8H606.9zM622.5 458.8H630.3V468.3H622.5zM606.9 468.3H614.7V477.8H606.9zM770.4 439.8H778.2V449.3H770.4zM754.8 468.3H762.6V477.8H754.8zM443.4 487.1H451.2V496.6H443.4zM443.4 515.5H451.2V525H443.4zM513.5 534.5H521.3V544H513.5zM544.6 496.6H552.4V506.1H544.6zM575.8 506.1H583.6V515.5H575.8zM599.1 534.5H606.9V544H599.1zM700.3 506.1H708.1V515.5H700.3zM754.8 515.5H762.6V525H754.8zM295.5 581.8H303.3V591.3H295.5zM490.1 581.8H497.9V591.3H490.1zM568 553.3H575.8V562.8H568zM552.4 572.3H560.2V581.8H552.4zM560.2 572.3H568V581.8H560.2zM653.6 600.8H661.4V610.3H653.6zM739.3 553.3H747.1V562.8H739.3zM723.7 562.8H731.5V572.3H723.7zM731.5 572.3H739.3V581.8H731.5zM786 562.8H793.8V572.3H786zM770.4 600.8H778.2V610.3H770.4zM334.4 657.5H342.2V667H334.4zM412.3 657.5H420.1V667H412.3zM388.9 667H396.7V676.5H388.9zM443.4 619.5H451.2V629H443.4zM513.5 648H521.3V657.5H513.5zM544.6 619.5H552.4V629H544.6zM560.2 648H568V657.5H560.2zM552.4 667H560.2V676.5H552.4zM591.3 619.5H599.1V629H591.3zM599.1 638.5H606.9V648H599.1zM630.3 638.5H638.1V648H630.3zM622.5 667H630.3V676.5H622.5zM661.4 619.5H669.2V629H661.4zM677 667H684.8V676.5H677zM708.1 619.5H715.9V629H708.1zM723.7 619.5H731.5V629H723.7zM731.5 619.5H739.3V629H731.5zM715.9 629H723.7V638.5H715.9zM754.8 638.5H762.6V648H754.8zM482.3 704.8H490.1V714.3H482.3zM544.6 685.8H552.4V695.3H544.6zM544.6 733.3H552.4V741.4H544.6zM614.7 685.8H622.5V695.3H614.7zM606.9 723.8H614.7V733.3H606.9zM653.6 695.3H661.4V704.8H653.6zM661.4 723.8H669.2V733.3H661.4zM739.3 685.8H747.1V695.3H739.3zM739.3 695.3H747.1V704.8H739.3zM731.5 704.8H739.3V714.3H731.5zM708.1 733.3H715.9V741.4H708.1zM762.6 685.8H770.4V695.3H762.6zM793.8 695.3H800.4V704.8H793.8zM770.4 704.8H778.2V714.3H770.4zM754.8 714.3H762.6V723.8H754.8z"/>
<path fill="#c0c0c0" d="M264.3 24H272.1V32.8H264.3zM272.1 24H279.9V32.8H272.1zM295.5 70.8H303.3V80.3H295.5zM350 61.3H357.8V70.8H350zM357.8 70.8H365.6V80.3H357.8zM490.1 70.8H497.9V80.3H490.1zM568 24H575.8V32.8H568zM544.6 32.8H552.4V42.3H544.6zM552.4 32.8H560.2V42.3H552.4zM568 61.3H575.8V70.8H568zM622.5 70.8H630.3V80.3H622.5zM677 32.8H684.8V42.3H677zM677 42.3H684.8V51.8H677zM342.2 89.5H350V99H342.2zM388.9 137.1H396.7V146.6H388.9zM513.5 89.5H521.3V99H513.5zM521.3 99H529.1V108.5H521.3zM505.7 108.5H513.5V118H505.7zM513.5 118H521.3V127.5H513.5zM536.8 118H544.6V127.5H536.8zM575.8 118H583.6V127.5H575.8zM591.3 89.5H599.1V99H591.3zM630.3 99H638.1V108.5H630.3zM677 99H684.8V108.5H677zM731.5 137.1H739.3V146.6H731.5zM770.4 99H778.2V108.5H770.4zM778.2 127.5H786V137.1H778.2zM754.8 137.1H762.6V146.6H754.8zM225.4 184.3H233.2V193.8H225.4zM326.6 203.3H334.4V212.8H326.6zM466.8 193.8H474.6V203.3H466.8zM544.6 155.8H552.4V165.3H544.6zM677 165.3H684.8V174.8H677zM669.2 174.8H677V184.3H669.2zM645.8 184.3H653.6V193.8H645.8zM739.3 193.8H747.1V203.3H739.3zM793.8 155.8H800.4V165.3H793.8zM793.8 165.3H800.4V174.8H793.8zM770.4 193.8H778.2V203.3H770.4zM241 250.6H248.8V260.1H241zM233.2 269.6H241V279.1H233.2zM350 241.1H357.8V250.6H350zM318.8 269.6H326.6V279.1H318.8zM381.1 241.1H388.9V250.6H381.1zM490.1 269.6H497.9V279.1H490.1zM544.6 260.1H552.4V269.6H544.6zM630.3 241.1H638.1V250.6H630.3zM606.9 260.1H614.7V269.6H606.9zM622.5 260.1H630.3V269.6H622.5zM677 241.1H684.8V250.6H677zM653.6 269.6H661.4V279.1H653.6zM708.1 222.1H715.9V231.6H708.1zM731.5 222.1H739.3V231.6H731.5zM739.3 222.1H747.1V231.6H739.3zM715.9 231.6H723.7V241.1H715.9zM708.1 260.1H715.9V269.6H708.1zM754.8 250.6H762.6V260.1H754.8zM786 269.6H793.8V279.1H786zM388.9 307.3H396.7V316.8H388.9zM396.7 326.3H404.5V335.8H396.7zM443.4 288.3H451.2V297.8H443.4zM435.6 316.8H443.4V326.3H435.6zM443.4 316.8H451.2V326.3H443.4zM459 316.8H466.8V326.3H459zM513.5 288.3H521.3V297.8H513.5zM521.3 288.3H529.1V297.8H521.3zM521.3 326.3H529.1V335.8H521.3zM606.9 297.8H614.7V307.3H606.9zM653.6 307.3H661.4V316.8H653.6zM677 316.8H684.8V326.3H677zM731.5 326.3H739.3V335.8H731.5zM739.3 335.8H747.1V345.3H739.3zM762.6 307.3H770.4V316.8H762.6zM793.8 316.8H800.4V326.3H793.8zM342.2 364.1H350V373.6H342.2zM404.5 354.6H412.3V364.1H404.5zM521.3 354.6H529.1V364.1H521.3zM513.5 383.1H521.3V392.6H513.5zM497.9 402.1H505.7V411.6H497.9zM568 373.6H575.8V383.1H568zM544.6 402.1H552.4V411.6H544.6zM591.3 364.1H599.1V373.6H591.3zM622.5 373.6H630.3V383.1H622.5zM614.7 392.6H622.5V402.1H614.7zM684.8 373.6H692.6V383.1H684.8zM731.5 402.1H739.3V411.6H731.5zM762.6 364.1H770.4V373.6H762.6zM762.6 373.6H770.4V383.1H762.6zM778.2 373.6H786V383.1H778.2zM770.4 383.1H778.2V392.6H770.4zM326.6 430.3H334.4V439.8H326.6zM381.1 420.8H388.9V430.3H381.1zM396.7 449.3H404.5V458.8H396.7zM404.5 458.8H412.3V468.3H404.5zM544.6 420.8H552.4V430.3H544.6zM677 430.3H684.8V439.8H677zM684.8 430.3H692.6V439.8H684.8zM645.8 449.3H653.6V458.8H645.8zM677 458.8H684.8V468.3H677zM723.7 420.8H731.5V430.3H723.7zM770.4 430.3H778.2V439.8H770.4zM793.8 439.8H800.4V449.3H793.8zM778.2 449.3H786V458.8H778.2zM786 449.3H793.8V458.8H786zM334.4 515.5H342.2V525H334.4zM388.9 515.5H396.7V525H388.9zM412.3 515.5H420.1V525H412.3zM427.8 515.5H435.6V525H427.8zM435.6 515.5H443.4V525H435.6zM451.2 534.5H459V544H451.2zM490.1 506.1H497.9V515.5H490.1zM482.3 534.5H490.1V544H482.3zM536.8 534.5H544.6V544H536.8zM575.8 534.5H583.6V544H575.8zM606.9 496.6H614.7V506.1H606.9zM614.7 496.6H622.5V506.1H614.7zM622.5 496.6H630.3V506.1H622.5zM614.7 506.1H622.5V515.5H614.7zM630.3 534.5H638.1V544H630.3zM677 496.6H684.8V506.1H677zM669.2 506.1H677V515.5H669.2zM731.5 534.5H739.3V544H731.5zM739.3 534.5H747.1V544H739.3zM762.6 506.1H770.4V515.5H762.6zM770.4 534.5H778.2V544H770.4zM279.9 600.8H287.7V610.3H279.9zM318.8 553.3H326.6V562.8H318.8zM326.6 581.8H334.4V591.3H326.6zM388.9 572.3H396.7V581.8H388.9zM404.5 591.3H412.3V600.8H404.5zM427.8 562.8H435.6V572.3H427.8zM521.3 581.8H529.1V591.3H521.3zM513.5 591.3H521.3V600.8H513.5zM521.3 591.3H529.1V600.8H521.3zM513.5 600.8H521.3V610.3H513.5zM544.6 562.8H552.4V572.3H544.6zM575.8 562.8H583.6V572.3H575.8zM622.5 591.3H630.3V600.8H622.5zM677 553.3H684.8V562.8H677zM677 562.8H684.8V572.3H677zM653.6 572.3H661.4V581.8H653.6zM669.2 572.3H677V581.8H669.2zM700.3 562.8H708.1V572.3H700.3zM708.1 562.8H715.9V572.3H708.1zM731.5 562.8H739.3V572.3H731.5zM715.9 581.8H723.7V591.3H715.9zM731.5 591.3H739.3V600.8H731.5zM731.5 600.8H739.3V610.3H731.5zM786 553.3H793.8V562.8H786zM754.8 591.3H762.6V600.8H754.8zM786 600.8H793.8V610.3H786zM350 657.5H357.8V667H350zM443.4 629H451.2V638.5H443.4zM427.8 648H435.6V657.5H427.8zM560.2 657.5H568V667H560.2zM568 657.5H575.8V667H568zM544.6 667H552.4V676.5H544.6zM614.7 638.5H622.5V648H614.7zM622.5 648H630.3V657.5H622.5zM630.3 657.5H638.1V667H630.3zM684.8 629H692.6V638.5H684.8zM739.3 619.5H747.1V629H739.3zM708.1 667H715.9V676.5H708.1zM739.3 667H747.1V676.5H739.3zM786 619.5H793.8V629H786zM778.2 657.5H786V667H778.2zM342.2 685.8H350V695.3H342.2zM326.6 733.3H334.4V741.4H326.6zM388.9 723.8H396.7V733.3H388.9zM443.4 685.8H451.2V695.3H443.4zM466.8 723.8H474.6V733.3H466.8zM560.2 685.8H568V695.3H560.2zM575.8 685.8H583.6V695.3H575.8zM568 714.3H575.8V723.8H568zM591.3 723.8H599.1V733.3H591.3zM606.9 733.3H614.7V741.4H606.9zM622.5 733.3H630.3V741.4H622.5zM645.8 714.3H653.6V723.8H645.8zM677 723.8H684.8V733.3H677zM770.4 685.8H778.2V695.3H770.4zM754.8 695.3H762.6V704.8H754.8zM793.8 704.8H800.4V714.3H793.8z"/>
<path fill="#bababa" d="M264.3 42.3H272.1V51.8H264.3zM264.3 61.3H272.1V70.8H264.3zM381.1 24H388.9V32.8H381.1zM412.3 32.8H420.1V42.3H412.3zM443.4 24H451.2V32.8H443.4zM459 61.3H466.8V70.8H459zM482.3 70.8H490.1V80.3H482.3zM552.4 24H560.2V32.8H552.4zM575.8 51.8H583.6V61.3H575.8zM552.4 70.8H560.2V80.3H552.4zM606.9 32.8H614.7V42.3H606.9zM591.3 42.3H599.1V51.8H591.3zM645.8 24H653.6V32.8H645.8zM661.4 24H669.2V32.8H661.4zM653.6 42.3H661.4V51.8H653.6zM778.2 70.8H786V80.3H778.2zM170.9 127.5H178.7V137.1H170.9zM396.7 99H404.5V108.5H396.7zM381.1 118H388.9V127.5H381.1zM497.9 137.1H505.7V146.6H497.9zM630.3 89.5H638.1V99H630.3zM606.9 137.1H614.7V146.6H606.9zM700.3 108.5H708.1V118H700.3zM178.7 203.3H186.5V212.8H178.7zM186.5 203.3H194.3V212.8H186.5zM241 193.8H248.8V203.3H241zM272.1 174.8H279.9V184.3H272.1zM334.4 155.8H342.2V165.3H334.4zM497.9 155.8H505.7V165.3H497.9zM490.1 165.3H497.9V174.8H490.1zM536.8 184.3H544.6V193.8H536.8zM544.6 203.3H552.4V212.8H544.6zM599.1 155.8H606.9V165.3H599.1zM606.9 165.3H614.7V174.8H606.9zM599.1 174.8H606.9V184.3H599.1zM731.5 203.3H739.3V212.8H731.5zM793.8 203.3H800.4V212.8H793.8zM350 231.6H357.8V241.1H350zM357.8 241.1H365.6V250.6H357.8zM350 260.1H357.8V269.6H350zM560.2 241.1H568V250.6H560.2zM614.7 241.1H622.5V250.6H614.7zM684.8 269.6H692.6V279.1H684.8zM786 260.1H793.8V269.6H786zM754.8 269.6H762.6V279.1H754.8zM762.6 269.6H770.4V279.1H762.6zM303.3 316.8H311.1V326.3H303.3zM318.8 288.3H326.6V297.8H318.8zM381.1 288.3H388.9V297.8H381.1zM466.8 288.3H474.6V297.8H466.8zM482.3 288.3H490.1V297.8H482.3zM544.6 335.8H552.4V345.3H544.6zM684.8 288.3H692.6V297.8H684.8zM677 335.8H684.8V345.3H677zM723.7 335.8H731.5V345.3H723.7zM754.8 297.8H762.6V307.3H754.8zM770.4 307.3H778.2V316.8H770.4zM272.1 392.6H279.9V402.1H272.1zM318.8 354.6H326.6V364.1H318.8zM318.8 392.6H326.6V402.1H318.8zM412.3 354.6H420.1V364.1H412.3zM435.6 364.1H443.4V373.6H435.6zM544.6 364.1H552.4V373.6H544.6zM575.8 383.1H583.6V392.6H575.8zM677 354.6H684.8V364.1H677zM684.8 364.1H692.6V373.6H684.8zM677 383.1H684.8V392.6H677zM669.2 392.6H677V402.1H669.2zM715.9 354.6H723.7V364.1H715.9zM723.7 364.1H731.5V373.6H723.7zM700.3 373.6H708.1V383.1H700.3zM739.3 373.6H747.1V383.1H739.3zM731.5 383.1H739.3V392.6H731.5zM482.3 420.8H490.1V430.3H482.3zM505.7 449.3H513.5V458.8H505.7zM482.3 458.8H490.1V468.3H482.3zM568 420.8H575.8V430.3H568zM575.8 458.8H583.6V468.3H575.8zM684.8 420.8H692.6V430.3H684.8zM653.6 430.3H661.4V439.8H653.6zM677 468.3H684.8V477.8H677zM700.3 430.3H708.1V439.8H700.3zM731.5 468.3H739.3V477.8H731.5zM739.3 468.3H747.1V477.8H739.3zM778.2 458.8H786V468.3H778.2zM303.3 515.5H311.1V525H303.3zM357.8 515.5H365.6V525H357.8zM435.6 506.1H443.4V515.5H435.6zM505.7 506.1H513.5V515.5H505.7zM490.1 525H497.9V534.5H490.1zM521.3 534.5H529.1V544H521.3zM560.2 506.1H568V515.5H560.2zM630.3 487.1H638.1V496.6H630.3zM591.3 506.1H599.1V515.5H591.3zM669.2 534.5H677V544H669.2zM466.8 591.3H474.6V600.8H466.8zM521.3 553.3H529.1V562.8H521.3zM482.3 591.3H490.1V600.8H482.3zM560.2 591.3H568V600.8H560.2zM560.2 600.8H568V610.3H560.2zM599.1 553.3H606.9V562.8H599.1zM599.1 600.8H606.9V610.3H599.1zM661.4 572.3H669.2V581.8H661.4zM645.8 581.8H653.6V591.3H645.8zM723.7 581.8H731.5V591.3H723.7zM739.3 581.8H747.1V591.3H739.3zM700.3 600.8H708.1V610.3H700.3zM723.7 600.8H731.5V610.3H723.7zM786 591.3H793.8V600.8H786zM342.2 648H350V657.5H342.2zM396.7 638.5H404.5V648H396.7zM373.3 648H381.1V657.5H373.3zM552.4 648H560.2V657.5H552.4zM606.9 638.5H614.7V648H606.9zM591.3 667H599.1V676.5H591.3zM599.1 667H606.9V676.5H599.1zM770.4 648H778.2V657.5H770.4zM778.2 648H786V657.5H778.2zM762.6 667H770.4V676.5H762.6zM513.5 723.8H521.3V733.3H513.5zM482.3 733.3H490.1V741.4H482.3zM552.4 695.3H560.2V704.8H552.4zM544.6 704.8H552.4V714.3H544.6zM568 704.8H575.8V714.3H568zM560.2 714.3H568V723.8H560.2zM622.5 695.3H630.3V704.8H622.5z"/>
<path fill="#e4e4e4" d="M272.1 61.3H279.9V70.8H272.1zM342.2 32.8H350V42.3H342.2zM443.4 42.3H451.2V51.8H443.4zM552.4 61.3H560.2V70.8H552.4zM170.9 108.5H178.7V118H170.9zM241 89.5H248.8V99H241zM412.3 118H420.1V127.5H412.3zM466.8 127.5H474.6V137.1H466.8zM233.2 165.3H241V174.8H233.2zM614.7 165.3H622.5V174.8H614.7zM661.4 155.8H669.2V165.3H661.4zM381.1 231.6H388.9V241.1H381.1zM614.7 458.8H622.5V468.3H614.7zM661.4 430.3H669.2V439.8H661.4zM661.4 449.3H669.2V458.8H661.4zM287.7 619.5H295.5V629H287.7zM350 619.5H357.8V629H350zM645.8 704.8H653.6V714.3H645.8z"/>
<path fill="#9c9c9c" d="M318.8 70.8H326.6V80.3H318.8zM427.8 32.8H435.6V42.3H427.8zM233.2 99H241V108.5H233.2zM404.5 165.3H412.3V174.8H404.5z"/>
<path fill="#b1b1b1" d="M381.1 51.8H388.9V61.3H381.1zM568 32.8H575.8V42.3H568zM622.5 61.3H630.3V70.8H622.5zM225.4 118H233.2V127.5H225.4zM295.5 99H303.3V108.5H295.5zM396.7 89.5H404.5V99H396.7zM373.3 118H381.1V127.5H373.3zM451.2 108.5H459V118H451.2zM606.9 89.5H614.7V99H606.9zM614.7 137.1H622.5V146.6H614.7zM739.3 127.5H747.1V137.1H739.3zM272.1 193.8H279.9V203.3H272.1zM318.8 165.3H326.6V174.8H318.8zM318.8 184.3H326.6V193.8H318.8zM614.7 193.8H622.5V203.3H614.7zM209.8 260.1H217.6V269.6H209.8zM287.7 222.1H295.5V231.6H287.7zM373.3 260.1H381.1V269.6H373.3zM451.2 241.1H459V250.6H451.2zM435.6 250.6H443.4V260.1H435.6zM466.8 260.1H474.6V269.6H466.8zM451.2 269.6H459V279.1H451.2zM521.3 241.1H529.1V250.6H521.3zM677 269.6H684.8V279.1H677zM427.8 288.3H435.6V297.8H427.8zM435.6 288.3H443.4V297.8H435.6zM490.1 335.8H497.9V345.3H490.1zM591.3 326.3H599.1V335.8H591.3zM715.9 335.8H723.7V345.3H715.9zM342.2 402.1H350V411.6H342.2zM412.3 383.1H420.1V392.6H412.3zM427.8 383.1H435.6V392.6H427.8zM435.6 383.1H443.4V392.6H435.6zM466.8 392.6H474.6V402.1H466.8zM560.2 402.1H568V411.6H560.2zM645.8 354.6H653.6V364.1H645.8zM653.6 383.1H661.4V392.6H653.6zM513.5 458.8H521.3V468.3H513.5zM591.3 458.8H599.1V468.3H591.3zM630.3 458.8H638.1V468.3H630.3zM653.6 468.3H661.4V477.8H653.6zM318.8 525H326.6V534.5H318.8zM404.5 515.5H412.3V525H404.5zM544.6 525H552.4V534.5H544.6zM645.8 487.1H653.6V496.6H645.8zM388.9 562.8H396.7V572.3H388.9zM497.9 553.3H505.7V562.8H497.9zM568 562.8H575.8V572.3H568zM661.4 591.3H669.2V600.8H661.4zM708.1 553.3H715.9V562.8H708.1zM279.9 648H287.7V657.5H279.9zM653.6 667H661.4V676.5H653.6zM715.9 619.5H723.7V629H715.9zM334.4 714.3H342.2V723.8H334.4zM459 695.3H466.8V704.8H459zM451.2 704.8H459V714.3H451.2zM505.7 695.3H513.5V704.8H505.7zM630.3 695.3H638.1V704.8H630.3z"/>
<path fill="#999999" d="M435.6 61.3H443.4V70.8H435.6zM443.4 70.8H451.2V80.3H443.4zM614.7 24H622.5V32.8H614.7zM684.8 42.3H692.6V51.8H684.8zM786 335.8H793.8V345.3H786zM723.7 383.1H731.5V392.6H723.7zM466.8 439.8H474.6V449.3H466.8zM731.5 420.8H739.3V430.3H731.5zM715.9 534.5H723.7V544H715.9zM754.8 629H762.6V638.5H754.8zM466.8 704.8H474.6V714.3H466.8zM497.9 723.8H505.7V733.3H497.9zM723.7 723.8H731.5V733.3H723.7zM786 704.8H793.8V714.3H786z"/>
<path fill="#eaeaea" d="M521.3 24H529.1V32.8H521.3zM653.6 61.3H661.4V70.8H653.6zM194.3 118H202.1V127.5H194.3zM178.7 137.1H186.5V146.6H178.7zM272.1 118H279.9V127.5H272.1zM661.4 89.5H669.2V99H661.4zM303.3 165.3H311.1V174.8H303.3zM412.3 184.3H420.1V193.8H412.3zM279.9 297.8H287.7V307.3H279.9zM326.6 316.8H334.4V326.3H326.6zM388.9 316.8H396.7V326.3H388.9zM373.3 335.8H381.1V345.3H373.3zM653.6 364.1H661.4V373.6H653.6zM326.6 487.1H334.4V496.6H326.6zM326.6 525H334.4V534.5H326.6zM264.3 600.8H272.1V610.3H264.3zM575.8 553.3H583.6V562.8H575.8zM754.8 553.3H762.6V562.8H754.8zM295.5 638.5H303.3V648H295.5zM287.7 667H295.5V676.5H287.7zM334.4 619.5H342.2V629H334.4zM443.4 638.5H451.2V648H443.4zM622.5 657.5H630.3V667H622.5zM497.9 704.8H505.7V714.3H497.9zM521.3 704.8H529.1V714.3H521.3z"/>
<path fill="#a8a8a8" d="M614.7 32.8H622.5V42.3H614.7zM225.4 89.5H233.2V99H225.4zM544.6 89.5H552.4V99H544.6zM599.1 108.5H606.9V118H599.1zM404.5 241.1H412.3V250.6H404.5zM451.2 288.3H459V297.8H451.2zM606.9 591.3H614.7V600.8H606.9zM388.9 685.8H396.7V695.3H388.9z"/>
<path fill="#a5a5a5" d="M645.8 32.8H653.6V42.3H645.8zM466.8 99H474.6V108.5H466.8zM552.4 118H560.2V127.5H552.4zM793.8 260.1H800.4V269.6H793.8zM575.8 326.3H583.6V335.8H575.8zM451.2 392.6H459V402.1H451.2zM715.9 373.6H723.7V383.1H715.9zM770.4 354.6H778.2V364.1H770.4zM552.4 430.3H560.2V439.8H552.4zM715.9 430.3H723.7V439.8H715.9zM762.6 525H770.4V534.5H762.6zM677 591.3H684.8V600.8H677zM786 657.5H793.8V667H786zM575.8 733.3H583.6V741.4H575.8zM762.6 704.8H770.4V714.3H762.6z"/>
<path fill="#bcbcbc" d="M715.9 24H723.7V32.8H715.9zM700.3 61.3H708.1V70.8H700.3zM770.4 51.8H778.2V61.3H770.4z"/>
<path fill="#d6d6d6" d="M723.7 24H731.5V32.8H723.7zM700.3 70.8H708.1V80.3H700.3z"/>
<path fill="#cecece" d="M731.5 24H739.3V32.8H731.5zM739.3 24H747.1V32.8H739.3zM754.8 24H762.6V32.8H754.8zM770.4 24H778.2V32.8H770.4zM786 42.3H793.8V51.8H786z"/>
<path fill="#c8c8c8" d="M700.3 32.8H708.1V42.3H700.3zM762.6 24H770.4V32.8H762.6zM770.4 32.8H778.2V42.3H770.4zM778.2 51.8H786V61.3H778.2zM786 51.8H793.8V61.3H786zM793.8 51.8H800.4V61.3H793.8zM793.8 61.3H800.4V70.8H793.8z"/>
<path fill="#808080" d="M708.1 32.8H715.9V42.3H708.1z"/>
<path fill="#00f200" d="M715.9 32.8H723.7V42.3H715.9z"/>
<path fill="#00a000" d="M731.5 32.8H739.3V42.3H731.5z"/>
<path fill="#008c00" d="M739.3 32.8H747.1V42.3H739.3z"/>
<path fill="#cacaca" d="M700.3 42.3H708.1V51.8H700.3zM754.8 42.3H762.6V51.8H754.8z"/>
<path fill="#828282" d="M708.1 42.3H715.9V51.8H708.1z"/>
<path fill="#8a8a8a" d="M715.9 42.3H723.7V51.8H715.9z"/>
<path fill="#d4d4d4" d="M723.7 42.3H731.5V51.8H723.7zM723.7 51.8H731.5V61.3H723.7zM723.7 61.3H731.5V70.8H723.7zM723.7 70.8H731.5V80.3H723.7z"/>
<path fill="#00d400" d="M731.5 42.3H739.3V51.8H731.5z"/>
<path fill="#a0a0a0" d="M739.3 42.3H747.1V51.8H739.3z"/>
<path fill="#b0b0b0" d="M708.1 51.8H715.9V61.3H708.1zM731.5 51.8H739.3V61.3H731.5zM793.8 32.8H800.4V42.3H793.8z"/>
<path fill="#d0d0d0" d="M715.9 51.8H723.7V61.3H715.9z"/>
<path fill="#787878" d="M708.1 61.3H715.9V70.8H708.1zM739.3 61.3H747.1V70.8H739.3z"/>
<path fill="#009600" d="M715.9 61.3H723.7V70.8H715.9z"/>
<path fill="#969696" d="M731.5 61.3H739.3V70.8H731.5zM295.5 269.6H303.3V279.1H295.5zM700.3 496.6H708.1V506.1H700.3zM443.4 600.8H451.2V610.3H443.4zM754.8 685.8H762.6V695.3H754.8z"/>
<path fill="#00aa00" d="M708.1 70.8H715.9V80.3H708.1z"/>
<path fill="#009800" d="M715.9 70.8H723.7V80.3H715.9z"/>
<path fill="#00b400" d="M731.5 70.8H739.3V80.3H731.5z"/>
<path fill="#888888" d="M739.3 70.8H747.1V80.3H739.3z"/>
<path fill="#c4c4c4" d="M778.2 24H786V32.8H778.2z"/>
<path fill="#00f400" d="M762.6 32.8H770.4V42.3H762.6zM786 32.8H793.8V42.3H786zM770.4 42.3H778.2V51.8H770.4zM793.8 42.3H800.4V51.8H793.8zM762.6 61.3H770.4V70.8H762.6zM786 61.3H793.8V70.8H786zM770.4 70.8H778.2V80.3H770.4zM793.8 70.8H800.4V80.3H793.8z"/>
<path fill="#a4a4a4" d="M762.6 42.3H770.4V51.8H762.6z"/>
<path fill="#bebebe" d="M754.8 51.8H762.6V61.3H754.8z"/>
<path fill="#dcdcdc" d="M762.6 51.8H770.4V61.3H762.6z"/>
<path fill="#acacac" d="M770.4 61.3H778.2V70.8H770.4z"/>
<path fill="#aaaaaa" d="M754.8 70.8H762.6V80.3H754.8z"/>
<path fill="#7c7c7c" d="M786 70.8H793.8V80.3H786z"/>
<path fill="#e1e1e1" d="M326.6 89.5H334.4V99H326.6zM653.6 89.5H661.4V99H653.6zM303.3 184.3H311.1V193.8H303.3zM357.8 165.3H365.6V174.8H357.8zM350 193.8H357.8V203.3H350zM350 288.3H357.8V297.8H350zM342.2 316.8H350V326.3H342.2zM381.1 326.3H388.9V335.8H381.1zM435.6 297.8H443.4V307.3H435.6zM653.6 335.8H661.4V345.3H653.6zM497.9 392.6H505.7V402.1H497.9zM272.1 439.8H279.9V449.3H272.1zM318.8 458.8H326.6V468.3H318.8zM513.5 430.3H521.3V439.8H513.5zM350 534.5H357.8V544H350zM451.2 525H459V534.5H451.2zM381.1 562.8H388.9V572.3H381.1zM396.7 562.8H404.5V572.3H396.7zM427.8 591.3H435.6V600.8H427.8zM560.2 553.3H568V562.8H560.2zM381.1 629H388.9V638.5H381.1zM318.8 714.3H326.6V723.8H318.8z"/>
<path fill="#a2a2a2" d="M170.9 193.8H178.7V203.3H170.9zM388.9 155.8H396.7V165.3H388.9zM653.6 155.8H661.4V165.3H653.6zM778.2 165.3H786V174.8H778.2zM279.9 269.6H287.7V279.1H279.9zM661.4 241.1H669.2V250.6H661.4zM544.6 316.8H552.4V326.3H544.6zM497.9 373.6H505.7V383.1H497.9zM521.3 449.3H529.1V458.8H521.3zM793.8 449.3H800.4V458.8H793.8zM334.4 506.1H342.2V515.5H334.4zM568 591.3H575.8V600.8H568zM443.4 648H451.2V657.5H443.4zM606.9 619.5H614.7V629H606.9zM482.3 723.8H490.1V733.3H482.3z"/>
</g>
<rect x="155.6" y="23.2" width="645.6" height="719" fill="none" stroke="#000" stroke-width="2"/>
<rect x="698.9" y="23" width="102.3" height="58.4" fill="none" stroke="#e8402f" stroke-width="2.5" stroke-linecap="round" stroke-dasharray="0.5 5.72"/>
<path d="M803.5 50H822" stroke="#000" stroke-width="4.4" fill="none"/><path d="M819 40L837 50L819 60z" fill="#000"/>
<text x="-1.2" y="22.6" font-size="42" class="b">a</text>
<text class="it"><tspan x="120" y="58.5" font-size="25">G</tspan><tspan x="139.4" y="66.9" font-size="17">i</tspan></text>
<text class="it"><tspan x="115.3" y="124.3" font-size="25">G</tspan><tspan x="134.7" y="132.7" font-size="17">x</tspan></text>
<text class="it"><tspan x="115.3" y="186.5" font-size="25">G</tspan><tspan x="134.7" y="194.9" font-size="17">y</tspan></text>
<text class="it"><tspan x="87.3" y="254.2" font-size="25">G</tspan><tspan x="106.8" y="262.6" font-size="17">x</tspan><tspan x="115.3" y="254.2" font-size="25">G</tspan><tspan x="134.7" y="262.6" font-size="17">y</tspan></text>
<text class="it"><tspan x="64.1" y="320.7" font-size="25">G</tspan><tspan x="83.5" y="329.1" font-size="17">x</tspan><tspan x="92" y="320.7" font-size="25">G</tspan><tspan x="111.5" y="329.1" font-size="17">y</tspan><tspan x="120" y="320.7" font-size="25">G</tspan><tspan x="139.4" y="329.1" font-size="17">i</tspan></text>
<text class="it"><tspan x="64.1" y="386.4" font-size="25">G</tspan><tspan x="83.5" y="394.8" font-size="17">x</tspan><tspan x="92" y="386.4" font-size="25">G</tspan><tspan x="111.5" y="394.8" font-size="17">i</tspan><tspan x="115.3" y="386.4" font-size="25">G</tspan><tspan x="134.7" y="394.8" font-size="17">y</tspan></text>
<text class="it"><tspan x="87.5" y="453.3" font-size="25">G</tspan><tspan x="106.9" y="461.7" font-size="17">x</tspan><tspan x="115.4" y="453.3" font-size="25">G</tspan><tspan x="134.9" y="461.7" font-size="17">i</tspan><tspan x="135.4" y="444.3" font-size="15" font-style="normal">2</tspan></text>
<text class="it"><tspan x="87.5" y="520.7" font-size="25">G</tspan><tspan x="106.9" y="529.1" font-size="17">y</tspan><tspan x="115.4" y="520.7" font-size="25">G</tspan><tspan x="134.9" y="529.1" font-size="17">i</tspan><tspan x="135.4" y="511.7" font-size="15" font-style="normal">2</tspan></text>
<text class="it"><tspan x="64.1" y="586.5" font-size="25">G</tspan><tspan x="83.5" y="594.9" font-size="17">x</tspan><tspan x="84" y="577.5" font-size="15" font-style="normal">2</tspan><tspan x="92.4" y="586.5" font-size="25">G</tspan><tspan x="111.8" y="594.9" font-size="17">i</tspan><tspan x="115.6" y="586.5" font-size="25">G</tspan><tspan x="135" y="594.9" font-size="17">y</tspan></text>
<text class="it"><tspan x="64.1" y="650.2" font-size="25">G</tspan><tspan x="83.5" y="658.6" font-size="17">x</tspan><tspan x="92" y="650.2" font-size="25">G</tspan><tspan x="111.5" y="658.6" font-size="17">y</tspan><tspan x="112" y="641.2" font-size="15" font-style="normal">2</tspan><tspan x="120.3" y="650.2" font-size="25">G</tspan><tspan x="139.8" y="658.6" font-size="17">i</tspan></text>
<text class="it"><tspan x="28.9" y="722.3" font-size="25">G</tspan><tspan x="48.4" y="730.7" font-size="17">x</tspan><tspan x="48.9" y="711.5" font-size="17.5" font-style="normal">2</tspan><tspan x="58.6" y="722.3" font-size="25">G</tspan><tspan x="78.1" y="730.7" font-size="17">y</tspan><tspan x="86.6" y="722.3" font-size="25">G</tspan><tspan x="106" y="730.7" font-size="17">x</tspan><tspan x="114.5" y="722.3" font-size="25">G</tspan><tspan x="134" y="730.7" font-size="17">y</tspan><tspan x="134.5" y="711.5" font-size="17.5" font-style="normal">2</tspan></text>
<text x="18.6" y="374.8" font-size="25" text-anchor="middle" transform="rotate(-90 18.6 374.8)" textLength="179.5">Germ sequence</text>
<text x="178.5" y="765.9" font-size="21" text-anchor="middle">0</text>
<text x="233" y="765.9" font-size="21" text-anchor="middle">2</text>
<text x="287.5" y="765.9" font-size="21" text-anchor="middle">4</text>
<text x="342" y="765.9" font-size="21" text-anchor="middle">8</text>
<text x="396.5" y="765.9" font-size="21" text-anchor="middle">16</text>
<text x="451" y="765.9" font-size="21" text-anchor="middle">32</text>
<text x="505.5" y="765.9" font-size="21" text-anchor="middle">64</text>
<text x="560" y="765.9" font-size="21" text-anchor="middle">128</text>
<text x="614.5" y="765.9" font-size="21" text-anchor="middle">256</text>
<text x="669" y="765.9" font-size="21" text-anchor="middle">512</text>
<text x="723.5" y="765.9" font-size="21" text-anchor="middle">1024</text>
<text x="778" y="765.9" font-size="21" text-anchor="middle">2048</text>
<text x="484" y="794.6" font-size="20.8" text-anchor="middle">Approximate circuit length (<tspan class="it">L</tspan>)</text>
<defs><linearGradient id="cb" x1="0" y1="1" x2="0" y2="0"><stop offset="0" stop-color="#fff"/><stop offset="0.13" stop-color="#e0e0e0"/><stop offset="0.26" stop-color="#bcbcbc"/><stop offset="0.39" stop-color="#969696"/><stop offset="0.499" stop-color="#707070"/><stop offset="0.5" stop-color="#008200"/><stop offset="0.68" stop-color="#00b000"/><stop offset="0.84" stop-color="#00dc00"/><stop offset="1" stop-color="#00ff00"/></linearGradient></defs>
<rect x="187" y="373.4" width="22.8" height="291.2" fill="url(#cb)" stroke="#000" stroke-width="1.2"/>
<path d="M209.8 373.4H214.6" stroke="#000" stroke-width="1.2"/>
<text x="222.2" y="378.8" font-size="15.6">16</text>
<path d="M209.8 399.6H214.6" stroke="#000" stroke-width="1.2"/>
<text x="222.2" y="405" font-size="15.6">14</text>
<path d="M209.8 430.9H214.6" stroke="#000" stroke-width="1.2"/>
<text x="222.2" y="436.3" font-size="15.6">12</text>
<path d="M209.8 466.1H214.6" stroke="#000" stroke-width="1.2"/>
<text x="222.2" y="471.5" font-size="15.6">10</text>
<path d="M209.8 509.6H214.6" stroke="#000" stroke-width="1.2"/>
<text x="222.2" y="515" font-size="15.6">8</text>
<path d="M209.8 551.7H214.6" stroke="#000" stroke-width="1.2"/>
<text x="222.2" y="557.1" font-size="15.6">6</text>
<path d="M209.8 588.7H214.6" stroke="#000" stroke-width="1.2"/>
<text x="222.2" y="594.1" font-size="15.6">4</text>
<path d="M209.8 627H214.6" stroke="#000" stroke-width="1.2"/>
<text x="222.2" y="632.4" font-size="15.6">2</text>
<path d="M209.8 664.6H214.6" stroke="#000" stroke-width="1.2"/>
<text x="222.2" y="670" font-size="15.6">0</text>
<text x="190.4" y="360.2" font-size="20" class="sf" font-style="italic">λ<tspan class="ss" font-style="normal" font-size="13" dy="4" dx="0.6">p</tspan></text>
<rect x="838" y="16.3" width="594.3" height="356" fill="#e6e6e6"/>
<text x="851.5" y="49.8" font-size="40" class="b">b</text>
<g shape-rendering="crispEdges">
<rect x="916.8" y="69.4" width="38.3" height="37.1" fill="#d8d8d8"/>
<rect x="955.1" y="69.4" width="38.3" height="37.1" fill="#c6c6c6"/>
<rect x="993.4" y="69.4" width="38.3" height="37.1" fill="#bcbcbc"/>
<rect x="1031.7" y="69.4" width="38.3" height="37.1" fill="#d6d6d6"/>
<rect x="1070" y="69.4" width="38.3" height="37.1" fill="#cecece"/>
<rect x="1108.3" y="69.4" width="38.3" height="37.1" fill="#cecece"/>
<rect x="916.8" y="106.5" width="38.3" height="37.1" fill="#c8c8c8"/>
<rect x="955.1" y="106.5" width="38.3" height="37.1" fill="#808080"/>
<rect x="993.4" y="106.5" width="38.3" height="37.1" fill="#00f200"/>
<rect x="1031.7" y="106.5" width="38.3" height="37.1" fill="#c6c6c6"/>
<rect x="1070" y="106.5" width="38.3" height="37.1" fill="#00a000"/>
<rect x="1108.3" y="106.5" width="38.3" height="37.1" fill="#008c00"/>
<rect x="916.8" y="143.6" width="38.3" height="37.1" fill="#cacaca"/>
<rect x="955.1" y="143.6" width="38.3" height="37.1" fill="#828282"/>
<rect x="993.4" y="143.6" width="38.3" height="37.1" fill="#8a8a8a"/>
<rect x="1031.7" y="143.6" width="38.3" height="37.1" fill="#d4d4d4"/>
<rect x="1070" y="143.6" width="38.3" height="37.1" fill="#00d400"/>
<rect x="1108.3" y="143.6" width="38.3" height="37.1" fill="#a0a0a0"/>
<rect x="916.8" y="180.8" width="38.3" height="37.1" fill="#d2d2d2"/>
<rect x="955.1" y="180.8" width="38.3" height="37.1" fill="#b0b0b0"/>
<rect x="993.4" y="180.8" width="38.3" height="37.1" fill="#d0d0d0"/>
<rect x="1031.7" y="180.8" width="38.3" height="37.1" fill="#d4d4d4"/>
<rect x="1070" y="180.8" width="38.3" height="37.1" fill="#b0b0b0"/>
<rect x="1108.3" y="180.8" width="38.3" height="37.1" fill="#cccccc"/>
<rect x="916.8" y="217.9" width="38.3" height="37.1" fill="#bcbcbc"/>
<rect x="955.1" y="217.9" width="38.3" height="37.1" fill="#787878"/>
<rect x="993.4" y="217.9" width="38.3" height="37.1" fill="#009600"/>
<rect x="1031.7" y="217.9" width="38.3" height="37.1" fill="#d4d4d4"/>
<rect x="1070" y="217.9" width="38.3" height="37.1" fill="#969696"/>
<rect x="1108.3" y="217.9" width="38.3" height="37.1" fill="#787878"/>
<rect x="916.8" y="255" width="38.3" height="37.1" fill="#d6d6d6"/>
<rect x="955.1" y="255" width="38.3" height="37.1" fill="#00aa00"/>
<rect x="993.4" y="255" width="38.3" height="37.1" fill="#009800"/>
<rect x="1031.7" y="255" width="38.3" height="37.1" fill="#d4d4d4"/>
<rect x="1070" y="255" width="38.3" height="37.1" fill="#00b400"/>
<rect x="1108.3" y="255" width="38.3" height="37.1" fill="#888888"/>
</g>
<rect x="916.8" y="69.4" width="229.8" height="222.7" fill="none" stroke="#4d4d4d" stroke-width="1.5"/>
<text x="935.1" y="319.6" font-size="22.5" text-anchor="middle">{ }</text>
<text class="it"><tspan x="961.2" y="320.3" font-size="21.2">G</tspan><tspan x="977.7" y="327.1" font-size="14">x</tspan></text>
<text class="it"><tspan x="999.5" y="320.3" font-size="21.2">G</tspan><tspan x="1016" y="327.1" font-size="14">y</tspan></text>
<text class="it"><tspan x="1037.3" y="320.3" font-size="21.2">G</tspan><tspan x="1053.8" y="327.1" font-size="14">x</tspan><tspan x="1054.3" y="311.8" font-size="14.4" font-style="normal">2</tspan></text>
<text class="it"><tspan x="1075.6" y="320.3" font-size="21.2">G</tspan><tspan x="1092.1" y="327.1" font-size="14">x</tspan><tspan x="1092.6" y="311.8" font-size="14.4" font-style="normal">3</tspan></text>
<text class="it"><tspan x="1113.9" y="320.3" font-size="21.2">G</tspan><tspan x="1130.4" y="327.1" font-size="14">y</tspan><tspan x="1130.9" y="311.8" font-size="14.4" font-style="normal">3</tspan></text>
<g shape-rendering="crispEdges">
<rect x="1184.6" y="69.4" width="38.2" height="37.1" fill="#cecece"/>
<rect x="1222.8" y="69.4" width="38.2" height="37.1" fill="#c8c8c8"/>
<rect x="1261" y="69.4" width="38.2" height="37.1" fill="#cecece"/>
<rect x="1299.2" y="69.4" width="38.2" height="37.1" fill="#c4c4c4"/>
<rect x="1337.4" y="69.4" width="38.2" height="37.1" fill="#cccccc"/>
<rect x="1375.6" y="69.4" width="38.2" height="37.1" fill="#cccccc"/>
<rect x="1184.6" y="106.5" width="38.2" height="37.1" fill="#c6c6c6"/>
<rect x="1222.8" y="106.5" width="38.2" height="37.1" fill="#00f400"/>
<rect x="1261" y="106.5" width="38.2" height="37.1" fill="#c8c8c8"/>
<rect x="1299.2" y="106.5" width="38.2" height="37.1" fill="#d2d2d2"/>
<rect x="1337.4" y="106.5" width="38.2" height="37.1" fill="#00f400"/>
<rect x="1375.6" y="106.5" width="38.2" height="37.1" fill="#b0b0b0"/>
<rect x="1184.6" y="143.6" width="38.2" height="37.1" fill="#cacaca"/>
<rect x="1222.8" y="143.6" width="38.2" height="37.1" fill="#a4a4a4"/>
<rect x="1261" y="143.6" width="38.2" height="37.1" fill="#00f400"/>
<rect x="1299.2" y="143.6" width="38.2" height="37.1" fill="#d2d2d2"/>
<rect x="1337.4" y="143.6" width="38.2" height="37.1" fill="#cecece"/>
<rect x="1375.6" y="143.6" width="38.2" height="37.1" fill="#00f400"/>
<rect x="1184.6" y="180.8" width="38.2" height="37.1" fill="#bebebe"/>
<rect x="1222.8" y="180.8" width="38.2" height="37.1" fill="#dcdcdc"/>
<rect x="1261" y="180.8" width="38.2" height="37.1" fill="#bcbcbc"/>
<rect x="1299.2" y="180.8" width="38.2" height="37.1" fill="#c8c8c8"/>
<rect x="1337.4" y="180.8" width="38.2" height="37.1" fill="#c8c8c8"/>
<rect x="1375.6" y="180.8" width="38.2" height="37.1" fill="#c8c8c8"/>
<rect x="1184.6" y="217.9" width="38.2" height="37.1" fill="#d2d2d2"/>
<rect x="1222.8" y="217.9" width="38.2" height="37.1" fill="#00f400"/>
<rect x="1261" y="217.9" width="38.2" height="37.1" fill="#acacac"/>
<rect x="1299.2" y="217.9" width="38.2" height="37.1" fill="#cccccc"/>
<rect x="1337.4" y="217.9" width="38.2" height="37.1" fill="#00f400"/>
<rect x="1375.6" y="217.9" width="38.2" height="37.1" fill="#c8c8c8"/>
<rect x="1184.6" y="255" width="38.2" height="37.1" fill="#aaaaaa"/>
<rect x="1222.8" y="255" width="38.2" height="37.1" fill="#cccccc"/>
<rect x="1261" y="255" width="38.2" height="37.1" fill="#00f400"/>
<rect x="1299.2" y="255" width="38.2" height="37.1" fill="#bababa"/>
<rect x="1337.4" y="255" width="38.2" height="37.1" fill="#7c7c7c"/>
<rect x="1375.6" y="255" width="38.2" height="37.1" fill="#00f400"/>
</g>
<rect x="1184.6" y="69.4" width="229.2" height="222.7" fill="none" stroke="#4d4d4d" stroke-width="1.5"/>
<text x="1202.9" y="319.6" font-size="22.5" text-anchor="middle">{ }</text>
<text class="it"><tspan x="1228.9" y="320.3" font-size="21.2">G</tspan><tspan x="1245.3" y="327.1" font-size="14">x</tspan></text>
<text class="it"><tspan x="1267.1" y="320.3" font-size="21.2">G</tspan><tspan x="1283.5" y="327.1" font-size="14">y</tspan></text>
<text class="it"><tspan x="1304.7" y="320.3" font-size="21.2">G</tspan><tspan x="1321.2" y="327.1" font-size="14">x</tspan><tspan x="1321.7" y="311.8" font-size="14.4" font-style="normal">2</tspan></text>
<text class="it"><tspan x="1342.9" y="320.3" font-size="21.2">G</tspan><tspan x="1359.4" y="327.1" font-size="14">x</tspan><tspan x="1359.9" y="311.8" font-size="14.4" font-style="normal">3</tspan></text>
<text class="it"><tspan x="1381.1" y="320.3" font-size="21.2">G</tspan><tspan x="1397.6" y="327.1" font-size="14">y</tspan><tspan x="1398.1" y="311.8" font-size="14.4" font-style="normal">3</tspan></text>
<text x="908" y="88.8" font-size="22.5" text-anchor="end">{ }</text>
<text class="it"><tspan x="882.8" y="124.9" font-size="21.2">G</tspan><tspan x="899.3" y="131.7" font-size="14">x</tspan></text>
<text class="it"><tspan x="882.8" y="163.6" font-size="21.2">G</tspan><tspan x="899.3" y="170.4" font-size="14">y</tspan></text>
<text class="it"><tspan x="881.8" y="202.3" font-size="21.2">G</tspan><tspan x="898.3" y="209.1" font-size="14">x</tspan><tspan x="898.8" y="193.8" font-size="14.4" font-style="normal">2</tspan></text>
<text class="it"><tspan x="881.8" y="243" font-size="21.2">G</tspan><tspan x="898.3" y="249.8" font-size="14">x</tspan><tspan x="898.8" y="234.5" font-size="14.4" font-style="normal">3</tspan></text>
<text class="it"><tspan x="881.8" y="284.7" font-size="21.2">G</tspan><tspan x="898.3" y="291.5" font-size="14">y</tspan><tspan x="898.8" y="276.2" font-size="14.4" font-style="normal">3</tspan></text>
<text x="866.2" y="181.7" font-size="20.7" text-anchor="middle" transform="rotate(-90 866.2 181.7)">Measurement sequence</text>
<text x="1168.5" y="356.4" font-size="20.8" text-anchor="middle">Preparation sequence</text>
<text x="927.5" y="53" font-size="21">Germ = <tspan class="it">G</tspan><tspan class="it" font-size="14.5" dy="4.5">i</tspan><tspan dy="-4.5"> ,</tspan><tspan dx="19" class="it">L</tspan> = 1024</text>
<text x="1198" y="52.4" font-size="21">Germ = <tspan class="it">G</tspan><tspan class="it" font-size="14.5" dy="4.5">i</tspan><tspan dy="-4.5"> ,</tspan><tspan dx="19" class="it">L</tspan> = 2048</text>
<clipPath id="cc"><rect x="1561" y="20" width="497.6" height="340"/></clipPath><g clip-path="url(#cc)">
<path d="M1562.4 63.8C1565.2 63.8 1574.4 63.8 1579.5 63.8C1584.6 63.8 1588.3 63.7 1593 63.6C1597.7 63.5 1602.9 63.3 1607.7 63.1C1612.5 62.9 1617 62.8 1621.7 62.4C1626.4 62 1631.1 61.5 1635.9 60.9C1640.7 60.3 1645.8 59.7 1650.6 58.9C1655.4 58.1 1660.1 57.1 1664.8 56.2C1669.5 55.4 1674.1 54.5 1678.8 53.8C1683.5 53.1 1688.3 52.5 1693 52.1C1697.7 51.7 1702.4 51.2 1707.2 51.1C1712 51 1716.9 51.1 1721.7 51.3C1726.5 51.5 1731.1 51.8 1735.9 52.1C1740.7 52.4 1745.6 52.7 1750.4 53C1755.2 53.3 1759.9 53.7 1764.6 54C1769.3 54.3 1774 54.6 1778.8 54.8C1783.6 54.9 1788.5 54.9 1793.3 54.9C1798.1 54.9 1802.7 54.9 1807.5 54.9C1812.3 54.9 1817.4 54.7 1822.2 54.9C1827 55.1 1831.7 55.3 1836.4 56C1841.1 56.7 1845.7 58.1 1850.4 59.2C1855.1 60.4 1859.8 61.5 1864.4 62.9C1869 64.3 1873.6 65.8 1878.1 67.5C1882.6 69.2 1887 71.2 1891.4 72.9C1895.9 74.6 1900.3 76.2 1904.8 77.8C1909.3 79.4 1913.8 81.1 1918.3 82.7C1922.8 84.3 1927.2 86.1 1931.8 87.4C1936.4 88.7 1941.1 89.3 1945.8 90.3C1950.5 91.3 1955.3 92.4 1960 93.3C1964.7 94.2 1969.5 94.8 1974.2 95.7C1978.9 96.6 1983.5 97.5 1988.2 98.4C1992.9 99.3 1997.7 100.2 2002.4 101.1C2007.1 101.9 2011.7 102.7 2016.4 103.5C2021.1 104.3 2025.9 105.1 2030.6 105.8C2035.3 106.5 2040.1 107 2044.8 107.5C2049.4 108 2056.2 108.3 2058.5 108.5" fill="none" stroke="#55a868" stroke-width="5.3" stroke-dasharray="5.3 9.1"/>
<path d="M1562.2 293.6H2060" stroke="#55a868" stroke-width="5.3"/>
<path d="M1562.2 320.7H2060" stroke="#e4493a" stroke-width="1.4"/>
<path d="M1562.2 315H2060" stroke="#2878b8" stroke-width="3.3"/>
<path d="M1562.2 316.8H2060" stroke="#2878b8" stroke-width="4" stroke-dasharray="4.2 6.8"/>
<path d="M1564.2 315.4H2060" stroke="#e4493a" stroke-width="2.6" stroke-dasharray="2.8 4.4"/>
</g>
<path d="M1562.2 29.2V357.3H2059" fill="none" stroke="#000" stroke-width="2"/>
<path d="M1562.2 29.8H1569.7" stroke="#000" stroke-width="1.5"/>
<text x="1554" y="37.1" font-size="21" text-anchor="end">0.008</text>
<path d="M1562.2 102.7H1569.7" stroke="#000" stroke-width="1.5"/>
<text x="1554" y="110" font-size="21" text-anchor="end">0.006</text>
<path d="M1562.2 175.6H1569.7" stroke="#000" stroke-width="1.5"/>
<text x="1554" y="182.9" font-size="21" text-anchor="end">0.004</text>
<path d="M1562.2 248.5H1569.7" stroke="#000" stroke-width="1.5"/>
<text x="1554" y="255.8" font-size="21" text-anchor="end">0.002</text>
<path d="M1562.2 321.4H1569.7" stroke="#000" stroke-width="1.5"/>
<text x="1554" y="328.7" font-size="21" text-anchor="end">0</text>
<path d="M1686.2 357.3V350.2" stroke="#000" stroke-width="1.5"/>
<path d="M1810.2 357.3V350.2" stroke="#000" stroke-width="1.5"/>
<path d="M1934.3 357.3V350.2" stroke="#000" stroke-width="1.5"/>
<path d="M2058.3 357.3V350.2" stroke="#000" stroke-width="1.5"/>
<text x="1469.5" y="22.3" font-size="40" class="b">c</text>
<text x="1484.5" y="297" font-size="21" transform="rotate(-90 1484.5 297)">Rotation angles of <tspan class="it" dx="2">G</tspan><tspan class="it" font-size="14.3" dy="4.8">i</tspan><tspan dy="-4.8" dx="10" font-size="19.4">(rad)</tspan></text>
<rect x="1768.2" y="156.8" width="282" height="73.8" rx="3.5" fill="#fff" stroke="#cfcfcf" stroke-width="1.2"/>
<path d="M1773.8 168.7H1807" stroke="#e4493a" stroke-width="2.5" stroke-dasharray="3 4.6"/>
<path d="M1773.8 192.3H1807" stroke="#2878b8" stroke-width="4" stroke-dasharray="4.6 6.6"/>
<path d="M1773.8 215.4H1807" stroke="#55a868" stroke-width="5.4" stroke-dasharray="5.8 9.1"/>
<path d="M1924.5 168.7H1958.5" stroke="#e4493a" stroke-width="1.5"/>
<path d="M1925.5 192.3H1957.5" stroke="#2878b8" stroke-width="3.6" stroke-linecap="round"/>
<path d="M1926.5 215.4H1956.5" stroke="#55a868" stroke-width="5.8" stroke-linecap="round"/>
<text x="1816.5" y="174.6" font-size="16">Exp. 1, <tspan class="sf" font-size="18">θ</tspan><tspan class="it" font-size="12" dy="4">x</tspan></text>
<text x="1969" y="174.6" font-size="16">Exp. 2, <tspan class="sf" font-size="18">θ</tspan><tspan class="it" font-size="12" dy="4">x</tspan></text>
<text x="1816.5" y="198.2" font-size="16">Exp. 1, <tspan class="sf" font-size="18">θ</tspan><tspan class="it" font-size="12" dy="4">y</tspan></text>
<text x="1969" y="198.2" font-size="16">Exp. 2, <tspan class="sf" font-size="18">θ</tspan><tspan class="it" font-size="12" dy="4">y</tspan></text>
<text x="1816.5" y="221.3" font-size="16">Exp. 1, <tspan class="sf" font-size="18">θ</tspan><tspan class="it" font-size="12" dy="4">x</tspan></text>
<text x="1969" y="221.3" font-size="16">Exp. 2, <tspan class="sf" font-size="18">θ</tspan><tspan class="it" font-size="12" dy="4">x</tspan></text>
<clipPath id="cd"><rect x="1561" y="400" width="497.6" height="342"/></clipPath><g clip-path="url(#cd)">
<path d="M1562.4 451.1C1565.2 451.1 1574.4 451.2 1579.5 451.1C1584.6 451.1 1588.3 451 1593 450.9C1597.7 450.8 1602.9 450.6 1607.7 450.3C1612.5 450.1 1617 450 1621.7 449.6C1626.4 449.1 1631.1 448.5 1635.9 447.9C1640.7 447.2 1645.8 446.5 1650.6 445.6C1655.4 444.7 1660.1 443.5 1664.8 442.6C1669.5 441.6 1674.1 440.6 1678.8 439.9C1683.5 439.1 1688.3 438.4 1693 437.9C1697.7 437.4 1702.4 437 1707.2 436.8C1712 436.7 1716.9 436.8 1721.7 437C1726.5 437.2 1731.1 437.6 1735.9 437.9C1740.7 438.3 1745.6 438.6 1750.4 439C1755.2 439.3 1759.9 439.7 1764.6 440.1C1769.3 440.4 1774 440.8 1778.8 441C1783.6 441.2 1788.5 441.1 1793.3 441.1C1798.1 441.1 1802.7 441.1 1807.5 441.1C1812.3 441.1 1817.4 440.9 1822.2 441.1C1827 441.3 1831.7 441.5 1836.4 442.3C1841.1 443.1 1845.7 444.6 1850.4 445.9C1855.1 447.2 1859.8 448.6 1864.4 450.1C1869 451.7 1873.6 453.4 1878.1 455.3C1882.6 457.2 1887 459.5 1891.4 461.4C1895.9 463.3 1900.3 465.1 1904.8 466.9C1909.3 468.8 1913.8 470.6 1918.3 472.4C1922.8 474.2 1927.2 476.3 1931.8 477.7C1936.4 479.2 1941.1 479.9 1945.8 481C1950.5 482.1 1955.3 483.4 1960 484.4C1964.7 485.4 1969.5 486.1 1974.2 487.1C1978.9 488.1 1983.5 489.1 1988.2 490.1C1992.9 491.2 1997.7 492.2 2002.4 493.2C2007.1 494.1 2011.7 495 2016.4 495.9C2021.1 496.8 2025.9 497.7 2030.6 498.5C2035.3 499.2 2040.1 499.9 2044.8 500.4C2049.4 500.9 2056.2 501.3 2058.5 501.5" fill="none" stroke="#e4493a" stroke-width="5.6" stroke-dasharray="5.6 8.8"/>
<path d="M1564.2 637.3H2060" stroke="#2878b8" stroke-width="4" stroke-dasharray="4 6.9"/>
<path d="M1564.2 671H2060" stroke="#55a868" stroke-width="2.6" stroke-dasharray="2.6 4.4"/>
<path d="M1562.2 697.1H2060" stroke="#55a868" stroke-width="2.6"/>
<path d="M1562.2 707.6H2060" stroke="#e4493a" stroke-width="5"/>
<path d="M1562.2 709.7H2060" stroke="#2878b8" stroke-width="4.4"/>
</g>
<path d="M1562.2 412.2V740.8H2058.4" fill="none" stroke="#000" stroke-width="2"/>
<path d="M1562.2 412.8H1569.7" stroke="#000" stroke-width="1.5"/>
<text x="1554" y="420.1" font-size="21" text-anchor="end">0.004</text>
<path d="M1562.2 495H1569.7" stroke="#000" stroke-width="1.5"/>
<text x="1554" y="502.3" font-size="21" text-anchor="end">0.003</text>
<path d="M1562.2 577.2H1569.7" stroke="#000" stroke-width="1.5"/>
<text x="1554" y="584.5" font-size="21" text-anchor="end">0.002</text>
<path d="M1562.2 659.4H1569.7" stroke="#000" stroke-width="1.5"/>
<text x="1554" y="666.7" font-size="21" text-anchor="end">0.001</text>
<text x="1554" y="747.8" font-size="21" text-anchor="end">0</text>
<text x="1562.2" y="765" font-size="21" text-anchor="middle">0</text>
<path d="M1686.2 740.8V734" stroke="#000" stroke-width="1.5"/>
<text x="1686.2" y="765" font-size="21" text-anchor="middle">0.25</text>
<path d="M1810.2 740.8V734" stroke="#000" stroke-width="1.5"/>
<text x="1810.2" y="765" font-size="21" text-anchor="middle">0.5</text>
<path d="M1934.3 740.8V734" stroke="#000" stroke-width="1.5"/>
<text x="1934.3" y="765" font-size="21" text-anchor="middle">0.75</text>
<path d="M2058.3 740.8V734" stroke="#000" stroke-width="1.5"/>
<text x="2058.6" y="765" font-size="21" text-anchor="middle">1</text>
<text x="1469" y="417.2" font-size="40" class="b">d</text>
<text x="1482" y="577.3" font-size="20.6" text-anchor="middle" transform="rotate(-90 1482 577.3)">Diamond distance error (<tspan class="sf" font-style="italic" font-size="21">ε</tspan><tspan font-size="13" dy="4.5">◇</tspan><tspan dy="-4.5">)</tspan></text>
<text x="1711.8" y="797.6" font-size="21">Time (fraction of <tspan class="it">t</tspan><tspan font-size="14" dy="7.6">max</tspan><tspan dy="-7.6">)</tspan></text>
<rect x="1771.8" y="540.2" width="278.4" height="74.2" rx="3.5" fill="#fff" stroke="#cfcfcf" stroke-width="1.2"/>
<path d="M1777.5 552.3H1811" stroke="#e4493a" stroke-width="6" stroke-dasharray="5.8 8.8"/>
<path d="M1777.5 575.2H1811" stroke="#2878b8" stroke-width="4" stroke-dasharray="4.5 6.6"/>
<path d="M1777.5 598.9H1811" stroke="#55a868" stroke-width="2.6" stroke-dasharray="2.8 4.8"/>
<path d="M1928 552.3H1958.5" stroke="#e4493a" stroke-width="6.6" stroke-linecap="round"/>
<path d="M1927.5 575.2H1959" stroke="#2878b8" stroke-width="4.8" stroke-linecap="round"/>
<path d="M1926.5 598.9H1960" stroke="#55a868" stroke-width="3" stroke-linecap="round"/>
<text x="1818.5" y="557.7" font-size="16">Exp. 1, <tspan class="it" dx="1.8">G</tspan><tspan class="it" font-size="11.5" dy="4.4">i</tspan></text>
<text x="1971.4" y="557.7" font-size="16">Exp. 2, <tspan class="it" dx="1.8">G</tspan><tspan class="it" font-size="11.5" dy="4.4">i</tspan></text>
<text x="1816.8" y="580.6" font-size="16">Exp. 1, <tspan class="it" dx="1.8">G</tspan><tspan class="it" font-size="11.5" dy="4.4">x</tspan></text>
<text x="1970" y="580.6" font-size="16">Exp. 2, <tspan class="it" dx="1.8">G</tspan><tspan class="it" font-size="11.5" dy="4.4">x</tspan></text>
<text x="1816.8" y="604.3" font-size="16">Exp. 1, <tspan class="it" dx="1.8">G</tspan><tspan class="it" font-size="11.5" dy="4.4">y</tspan></text>
<text x="1970" y="604.3" font-size="16">Exp. 2, <tspan class="it" dx="1.8">G</tspan><tspan class="it" font-size="11.5" dy="4.4">y</tspan></text>
<clipPath id="ce"><rect x="902" y="405" width="500" height="336"/></clipPath><g clip-path="url(#ce)">
<g fill="#4a9cf4" fill-opacity="0.12" stroke="#4a9cf4" stroke-width="2.6" stroke-opacity="0.3"><circle cx="905.1" cy="623.8" r="2.45"/><circle cx="925.6" cy="615.3" r="2.45"/><circle cx="941.6" cy="628.5" r="2.45"/><circle cx="954.6" cy="631.7" r="2.45"/><circle cx="975.1" cy="635.4" r="2.45"/><circle cx="983.5" cy="630.9" r="2.45"/><circle cx="991.1" cy="629.6" r="2.45"/><circle cx="997.9" cy="619.6" r="2.45"/><circle cx="1004.1" cy="628" r="2.45"/><circle cx="1009.8" cy="616.6" r="2.45"/><circle cx="1015.1" cy="610.9" r="2.45"/><circle cx="1020" cy="632.2" r="2.45"/><circle cx="1024.6" cy="624.5" r="2.45"/><circle cx="1033.1" cy="625.1" r="2.45"/><circle cx="1036.9" cy="624.3" r="2.45"/><circle cx="1040.6" cy="620.4" r="2.45"/><circle cx="1044.1" cy="631.7" r="2.45"/><circle cx="1047.4" cy="626.4" r="2.45"/><circle cx="1050.6" cy="618.8" r="2.45"/><circle cx="1056.5" cy="633.3" r="2.45"/><circle cx="1059.3" cy="623.5" r="2.45"/><circle cx="1062" cy="619" r="2.45"/><circle cx="1064.6" cy="613.8" r="2.45"/><circle cx="1067.1" cy="620.6" r="2.45"/><circle cx="1069.6" cy="628" r="2.45"/><circle cx="1071.9" cy="624.3" r="2.45"/><circle cx="1074.2" cy="628.5" r="2.45"/><circle cx="1076.4" cy="635.4" r="2.45"/><circle cx="1078.5" cy="625.9" r="2.45"/><circle cx="1080.6" cy="619" r="2.45"/><circle cx="1082.6" cy="631.7" r="2.45"/><circle cx="1084.5" cy="616.4" r="2.45"/><circle cx="1086.4" cy="622.2" r="2.45"/><circle cx="1088.3" cy="624.3" r="2.45"/><circle cx="1090.1" cy="637" r="2.45"/><circle cx="1091.9" cy="625.4" r="2.45"/><circle cx="1093.6" cy="615.1" r="2.45"/><circle cx="1095.3" cy="636.4" r="2.45"/><circle cx="1096.9" cy="624.3" r="2.45"/><circle cx="1098.5" cy="624.1" r="2.45"/><circle cx="1100.1" cy="621.3" r="2.45"/><circle cx="1101.6" cy="628.4" r="2.45"/><circle cx="1103.1" cy="630.5" r="2.45"/><circle cx="1104.6" cy="630.7" r="2.45"/><circle cx="1106.1" cy="632.9" r="2.45"/><circle cx="1107.5" cy="627.8" r="2.45"/><circle cx="1108.9" cy="632" r="2.45"/><circle cx="1110.2" cy="621.8" r="2.45"/><circle cx="1111.6" cy="638.1" r="2.45"/><circle cx="1112.9" cy="633.9" r="2.45"/><circle cx="1114.1" cy="633.2" r="2.45"/><circle cx="1115.4" cy="639.5" r="2.45"/><circle cx="1116.7" cy="617.6" r="2.45"/><circle cx="1117.9" cy="641.4" r="2.45"/><circle cx="1119.1" cy="629.8" r="2.45"/><circle cx="1120.3" cy="631.2" r="2.45"/><circle cx="1121.4" cy="619.2" r="2.45"/><circle cx="1122.6" cy="639.3" r="2.45"/><circle cx="1123.7" cy="622.5" r="2.45"/><circle cx="1124.8" cy="632.5" r="2.45"/><circle cx="1125.9" cy="629.4" r="2.45"/><circle cx="1127" cy="632.3" r="2.45"/><circle cx="1128" cy="625.1" r="2.45"/><circle cx="1129.1" cy="635" r="2.45"/><circle cx="1130.1" cy="629.2" r="2.45"/><circle cx="1131.1" cy="626.8" r="2.45"/><circle cx="1132.1" cy="618.7" r="2.45"/><circle cx="1133.1" cy="642.1" r="2.45"/><circle cx="1134.1" cy="620.5" r="2.45"/><circle cx="1135" cy="623.7" r="2.45"/><circle cx="1136" cy="631.6" r="2.45"/><circle cx="1136.9" cy="627.3" r="2.45"/><circle cx="1137.8" cy="631.6" r="2.45"/><circle cx="1138.7" cy="620" r="2.45"/><circle cx="1139.6" cy="628" r="2.45"/><circle cx="1140.5" cy="630.3" r="2.45"/><circle cx="1141.4" cy="630.4" r="2.45"/><circle cx="1142.3" cy="630.3" r="2.45"/><circle cx="1143.1" cy="630.2" r="2.45"/><circle cx="1144" cy="634.1" r="2.45"/><circle cx="1144.8" cy="618" r="2.45"/><circle cx="1145.6" cy="639.8" r="2.45"/><circle cx="1146.4" cy="649.2" r="2.45"/><circle cx="1147.2" cy="630" r="2.45"/><circle cx="1148" cy="630.2" r="2.45"/><circle cx="1148.8" cy="627.4" r="2.45"/><circle cx="1149.6" cy="630.6" r="2.45"/><circle cx="1150.4" cy="630.3" r="2.45"/><circle cx="1151.2" cy="627.7" r="2.45"/><circle cx="1151.9" cy="624.2" r="2.45"/><circle cx="1152.7" cy="632" r="2.45"/><circle cx="1153.4" cy="631.6" r="2.45"/><circle cx="1154.1" cy="618.9" r="2.45"/><circle cx="1154.9" cy="626.7" r="2.45"/><circle cx="1155.6" cy="635" r="2.45"/><circle cx="1156.3" cy="616.8" r="2.45"/><circle cx="1157" cy="625.4" r="2.45"/><circle cx="1157.7" cy="632.9" r="2.45"/><circle cx="1158.4" cy="636.2" r="2.45"/><circle cx="1159.1" cy="628.1" r="2.45"/><circle cx="1159.7" cy="634.3" r="2.45"/><circle cx="1160.4" cy="635.6" r="2.45"/><circle cx="1161.1" cy="636.9" r="2.45"/><circle cx="1161.7" cy="632.6" r="2.45"/><circle cx="1162.4" cy="623.7" r="2.45"/><circle cx="1163" cy="632.2" r="2.45"/><circle cx="1163.7" cy="637.8" r="2.45"/><circle cx="1164.3" cy="626.2" r="2.45"/><circle cx="1164.9" cy="629.5" r="2.45"/><circle cx="1165.6" cy="625.2" r="2.45"/><circle cx="1166.2" cy="623.3" r="2.45"/><circle cx="1166.8" cy="630.8" r="2.45"/><circle cx="1167.4" cy="630.7" r="2.45"/><circle cx="1168" cy="630.2" r="2.45"/><circle cx="1168.6" cy="636.2" r="2.45"/><circle cx="1169.2" cy="626.3" r="2.45"/><circle cx="1169.8" cy="622.4" r="2.45"/><circle cx="1170.4" cy="629" r="2.45"/><circle cx="1170.9" cy="631.3" r="2.45"/><circle cx="1171.5" cy="631.4" r="2.45"/><circle cx="1172.1" cy="634.3" r="2.45"/><circle cx="1172.6" cy="634.5" r="2.45"/><circle cx="1173.2" cy="632.3" r="2.45"/><circle cx="1173.8" cy="634.7" r="2.45"/><circle cx="1174.3" cy="632.5" r="2.45"/><circle cx="1174.9" cy="638.8" r="2.45"/><circle cx="1175.4" cy="628.2" r="2.45"/><circle cx="1175.9" cy="629.8" r="2.45"/><circle cx="1176.5" cy="636.5" r="2.45"/><circle cx="1177" cy="642.8" r="2.45"/><circle cx="1177.5" cy="630.2" r="2.45"/><circle cx="1178.1" cy="624.1" r="2.45"/><circle cx="1178.6" cy="634.2" r="2.45"/><circle cx="1179.1" cy="632.8" r="2.45"/><circle cx="1179.6" cy="633.3" r="2.45"/><circle cx="1180.1" cy="626.6" r="2.45"/><circle cx="1180.6" cy="635.2" r="2.45"/><circle cx="1181.1" cy="624.8" r="2.45"/><circle cx="1181.6" cy="631.9" r="2.45"/><circle cx="1182.1" cy="625.1" r="2.45"/><circle cx="1182.6" cy="630.1" r="2.45"/><circle cx="1183.1" cy="631.5" r="2.45"/><circle cx="1183.6" cy="638.4" r="2.45"/><circle cx="1184.1" cy="634" r="2.45"/><circle cx="1184.5" cy="631.7" r="2.45"/><circle cx="1185" cy="626.6" r="2.45"/><circle cx="1185.5" cy="628.9" r="2.45"/><circle cx="1186" cy="634.1" r="2.45"/><circle cx="1186.4" cy="628" r="2.45"/><circle cx="1186.9" cy="624.9" r="2.45"/><circle cx="1187.3" cy="631.1" r="2.45"/><circle cx="1187.8" cy="632.7" r="2.45"/><circle cx="1188.3" cy="632.5" r="2.45"/><circle cx="1188.7" cy="625.9" r="2.45"/><circle cx="1189.1" cy="627.4" r="2.45"/><circle cx="1189.6" cy="635.5" r="2.45"/><circle cx="1190" cy="628.3" r="2.45"/><circle cx="1190.5" cy="633" r="2.45"/><circle cx="1190.9" cy="634.5" r="2.45"/><circle cx="1191.3" cy="623.6" r="2.45"/><circle cx="1191.8" cy="625.9" r="2.45"/><circle cx="1192.2" cy="634.4" r="2.45"/><circle cx="1192.6" cy="630" r="2.45"/><circle cx="1193.1" cy="627.6" r="2.45"/><circle cx="1193.5" cy="633.9" r="2.45"/><circle cx="1193.9" cy="631.1" r="2.45"/><circle cx="1194.3" cy="626.7" r="2.45"/><circle cx="1194.7" cy="640.3" r="2.45"/><circle cx="1195.1" cy="628.6" r="2.45"/><circle cx="1195.6" cy="626.4" r="2.45"/><circle cx="1196" cy="627.7" r="2.45"/><circle cx="1196.4" cy="637.8" r="2.45"/><circle cx="1196.8" cy="628.7" r="2.45"/><circle cx="1197.2" cy="635.2" r="2.45"/><circle cx="1197.6" cy="627.3" r="2.45"/><circle cx="1198" cy="627.1" r="2.45"/><circle cx="1198.4" cy="629.3" r="2.45"/><circle cx="1198.7" cy="634.7" r="2.45"/><circle cx="1199.1" cy="633.7" r="2.45"/><circle cx="1199.5" cy="625.8" r="2.45"/><circle cx="1199.9" cy="635.4" r="2.45"/><circle cx="1200.3" cy="627.8" r="2.45"/><circle cx="1200.7" cy="627.7" r="2.45"/><circle cx="1201" cy="632" r="2.45"/><circle cx="1201.4" cy="617.3" r="2.45"/><circle cx="1201.8" cy="630.1" r="2.45"/><circle cx="1202.2" cy="618.7" r="2.45"/><circle cx="1202.5" cy="641.6" r="2.45"/><circle cx="1202.9" cy="642.9" r="2.45"/><circle cx="1203.3" cy="625.1" r="2.45"/><circle cx="1203.6" cy="627" r="2.45"/><circle cx="1204" cy="632.3" r="2.45"/><circle cx="1204.4" cy="630.9" r="2.45"/><circle cx="1204.7" cy="641" r="2.45"/><circle cx="1205.1" cy="634" r="2.45"/><circle cx="1205.4" cy="636.3" r="2.45"/><circle cx="1205.8" cy="631.8" r="2.45"/><circle cx="1206.2" cy="625.7" r="2.45"/><circle cx="1206.5" cy="630.3" r="2.45"/><circle cx="1206.9" cy="628.5" r="2.45"/><circle cx="1207.2" cy="634.4" r="2.45"/><circle cx="1207.5" cy="633" r="2.45"/><circle cx="1207.9" cy="630" r="2.45"/><circle cx="1208.2" cy="632.2" r="2.45"/><circle cx="1208.6" cy="623.6" r="2.45"/><circle cx="1208.9" cy="635.4" r="2.45"/><circle cx="1209.3" cy="620.2" r="2.45"/><circle cx="1209.6" cy="636" r="2.45"/><circle cx="1209.9" cy="624.8" r="2.45"/><circle cx="1210.3" cy="634.9" r="2.45"/><circle cx="1210.6" cy="621.6" r="2.45"/><circle cx="1210.9" cy="629.9" r="2.45"/><circle cx="1211.2" cy="628.4" r="2.45"/><circle cx="1211.6" cy="626.5" r="2.45"/><circle cx="1211.9" cy="634.1" r="2.45"/><circle cx="1212.2" cy="636.4" r="2.45"/><circle cx="1212.5" cy="641.8" r="2.45"/><circle cx="1212.9" cy="623.9" r="2.45"/><circle cx="1213.2" cy="634.5" r="2.45"/><circle cx="1213.5" cy="633.9" r="2.45"/><circle cx="1213.8" cy="630.8" r="2.45"/><circle cx="1214.1" cy="619.7" r="2.45"/><circle cx="1214.5" cy="640.2" r="2.45"/><circle cx="1214.8" cy="629.3" r="2.45"/><circle cx="1215.1" cy="632.9" r="2.45"/><circle cx="1215.4" cy="627.8" r="2.45"/><circle cx="1215.7" cy="640.6" r="2.45"/><circle cx="1216" cy="632.9" r="2.45"/><circle cx="1216.3" cy="626.1" r="2.45"/><circle cx="1216.6" cy="622.1" r="2.45"/><circle cx="1216.9" cy="621.9" r="2.45"/><circle cx="1217.2" cy="635.4" r="2.45"/><circle cx="1217.5" cy="630.4" r="2.45"/><circle cx="1217.8" cy="631.3" r="2.45"/><circle cx="1218.1" cy="638.3" r="2.45"/><circle cx="1218.4" cy="638.6" r="2.45"/><circle cx="1218.7" cy="626.5" r="2.45"/><circle cx="1219" cy="629.4" r="2.45"/><circle cx="1219.3" cy="631.5" r="2.45"/><circle cx="1219.6" cy="624" r="2.45"/><circle cx="1219.9" cy="636.2" r="2.45"/><circle cx="1220.2" cy="627.8" r="2.45"/><circle cx="1220.5" cy="630.7" r="2.45"/><circle cx="1220.7" cy="631.1" r="2.45"/><circle cx="1221" cy="628" r="2.45"/><circle cx="1221.3" cy="629.8" r="2.45"/><circle cx="1221.6" cy="629.3" r="2.45"/><circle cx="1221.9" cy="629.3" r="2.45"/><circle cx="1222.2" cy="620.1" r="2.45"/><circle cx="1222.4" cy="632.5" r="2.45"/><circle cx="1222.7" cy="625.2" r="2.45"/><circle cx="1223" cy="627.4" r="2.45"/><circle cx="1223.3" cy="632.7" r="2.45"/><circle cx="1223.6" cy="626.4" r="2.45"/><circle cx="1223.8" cy="635.5" r="2.45"/><circle cx="1224.1" cy="624.4" r="2.45"/><circle cx="1224.4" cy="635.2" r="2.45"/><circle cx="1224.7" cy="633.5" r="2.45"/><circle cx="1224.9" cy="629" r="2.45"/><circle cx="1225.2" cy="626.2" r="2.45"/><circle cx="1225.5" cy="625.8" r="2.45"/><circle cx="1225.7" cy="625.9" r="2.45"/><circle cx="1226" cy="631.9" r="2.45"/><circle cx="1226.3" cy="636" r="2.45"/><circle cx="1226.5" cy="627.8" r="2.45"/><circle cx="1226.8" cy="629.1" r="2.45"/><circle cx="1227.1" cy="636" r="2.45"/><circle cx="1227.3" cy="625.4" r="2.45"/><circle cx="1227.6" cy="629.7" r="2.45"/><circle cx="1227.8" cy="636.1" r="2.45"/><circle cx="1228.1" cy="628.4" r="2.45"/><circle cx="1228.4" cy="638.1" r="2.45"/><circle cx="1228.6" cy="635.6" r="2.45"/><circle cx="1228.9" cy="628.6" r="2.45"/><circle cx="1229.1" cy="639.4" r="2.45"/><circle cx="1229.4" cy="630.6" r="2.45"/><circle cx="1229.6" cy="638.2" r="2.45"/><circle cx="1229.9" cy="626.8" r="2.45"/><circle cx="1230.1" cy="634.8" r="2.45"/><circle cx="1230.4" cy="629.8" r="2.45"/><circle cx="1230.6" cy="639.1" r="2.45"/><circle cx="1230.9" cy="632.7" r="2.45"/><circle cx="1231.1" cy="625.6" r="2.45"/><circle cx="1231.4" cy="628.3" r="2.45"/><circle cx="1231.6" cy="640.9" r="2.45"/><circle cx="1231.9" cy="625.7" r="2.45"/><circle cx="1232.1" cy="625.9" r="2.45"/><circle cx="1232.4" cy="632.9" r="2.45"/><circle cx="1232.6" cy="623" r="2.45"/><circle cx="1232.9" cy="636.7" r="2.45"/><circle cx="1233.1" cy="631.3" r="2.45"/><circle cx="1233.3" cy="624.7" r="2.45"/><circle cx="1233.6" cy="623.6" r="2.45"/><circle cx="1233.8" cy="623.8" r="2.45"/><circle cx="1234.1" cy="636.9" r="2.45"/><circle cx="1234.3" cy="640.6" r="2.45"/><circle cx="1234.5" cy="628.7" r="2.45"/><circle cx="1234.8" cy="638.7" r="2.45"/><circle cx="1235" cy="631.6" r="2.45"/><circle cx="1235.2" cy="637.9" r="2.45"/><circle cx="1235.5" cy="625" r="2.45"/><circle cx="1235.7" cy="626.4" r="2.45"/><circle cx="1235.9" cy="627.8" r="2.45"/><circle cx="1236.2" cy="630.8" r="2.45"/><circle cx="1236.4" cy="630.6" r="2.45"/><circle cx="1236.6" cy="632.5" r="2.45"/><circle cx="1236.9" cy="628.8" r="2.45"/><circle cx="1237.1" cy="629.5" r="2.45"/><circle cx="1237.3" cy="628.3" r="2.45"/><circle cx="1237.5" cy="633.2" r="2.45"/><circle cx="1237.8" cy="620.4" r="2.45"/><circle cx="1238" cy="629.3" r="2.45"/><circle cx="1238.2" cy="623.2" r="2.45"/><circle cx="1238.4" cy="623.6" r="2.45"/><circle cx="1238.7" cy="635.7" r="2.45"/><circle cx="1238.9" cy="640.2" r="2.45"/><circle cx="1239.1" cy="624" r="2.45"/><circle cx="1239.3" cy="633" r="2.45"/><circle cx="1239.6" cy="630.4" r="2.45"/><circle cx="1239.8" cy="632.3" r="2.45"/><circle cx="1240" cy="630.2" r="2.45"/><circle cx="1240.2" cy="637.4" r="2.45"/><circle cx="1240.4" cy="631.5" r="2.45"/><circle cx="1240.6" cy="633.4" r="2.45"/><circle cx="1240.9" cy="631" r="2.45"/><circle cx="1241.1" cy="643.8" r="2.45"/><circle cx="1241.3" cy="626.4" r="2.45"/><circle cx="1241.5" cy="629.1" r="2.45"/><circle cx="1241.7" cy="640.4" r="2.45"/><circle cx="1241.9" cy="634.9" r="2.45"/><circle cx="1242.2" cy="630.7" r="2.45"/><circle cx="1242.4" cy="627.4" r="2.45"/><circle cx="1242.6" cy="630.9" r="2.45"/><circle cx="1242.8" cy="623.3" r="2.45"/><circle cx="1243" cy="630.8" r="2.45"/><circle cx="1243.2" cy="636.4" r="2.45"/><circle cx="1243.4" cy="634.6" r="2.45"/><circle cx="1243.6" cy="626.8" r="2.45"/><circle cx="1243.8" cy="634.3" r="2.45"/><circle cx="1244" cy="626.3" r="2.45"/><circle cx="1244.2" cy="625.3" r="2.45"/><circle cx="1244.5" cy="627.7" r="2.45"/><circle cx="1244.7" cy="625.3" r="2.45"/></g>
<circle cx="965.6" cy="608.5" r="7.6" fill="#4a9cf4"/>
<circle cx="1029" cy="598.3" r="7.6" fill="#4a9cf4"/>
<circle cx="1053.6" cy="605.4" r="7.6" fill="#4a9cf4"/>
<g fill="#e4493a" fill-opacity="0.35" stroke="#e4493a" stroke-width="2.4" stroke-opacity="0.5"><path d="M1047.5 605.9l3.9 3.9l-3.9 3.9l-3.9 -3.9z"/><path d="M1068.1 603.7l3.9 3.9l-3.9 3.9l-3.9 -3.9z"/><path d="M1097.1 622.4l3.9 3.9l-3.9 3.9l-3.9 -3.9z"/><path d="M1117.6 610.1l3.9 3.9l-3.9 3.9l-3.9 -3.9z"/><path d="M1126 613.4l3.9 3.9l-3.9 3.9l-3.9 -3.9z"/><path d="M1133.6 625.2l3.9 3.9l-3.9 3.9l-3.9 -3.9z"/><path d="M1140.4 614.7l3.9 3.9l-3.9 3.9l-3.9 -3.9z"/><path d="M1146.6 633.7l3.9 3.9l-3.9 3.9l-3.9 -3.9z"/><path d="M1152.3 624.4l3.9 3.9l-3.9 3.9l-3.9 -3.9z"/><path d="M1157.6 630.7l3.9 3.9l-3.9 3.9l-3.9 -3.9z"/><path d="M1167.1 612l3.9 3.9l-3.9 3.9l-3.9 -3.9z"/><path d="M1171.5 618.4l3.9 3.9l-3.9 3.9l-3.9 -3.9z"/><path d="M1175.6 621.2l3.9 3.9l-3.9 3.9l-3.9 -3.9z"/><path d="M1179.4 620.5l3.9 3.9l-3.9 3.9l-3.9 -3.9z"/><path d="M1183.1 631.4l3.9 3.9l-3.9 3.9l-3.9 -3.9z"/><path d="M1186.6 637.3l3.9 3.9l-3.9 3.9l-3.9 -3.9z"/><path d="M1189.9 623.7l3.9 3.9l-3.9 3.9l-3.9 -3.9z"/><path d="M1193.1 625.4l3.9 3.9l-3.9 3.9l-3.9 -3.9z"/><path d="M1196.1 622.6l3.9 3.9l-3.9 3.9l-3.9 -3.9z"/><path d="M1199 624.6l3.9 3.9l-3.9 3.9l-3.9 -3.9z"/><path d="M1201.8 619.1l3.9 3.9l-3.9 3.9l-3.9 -3.9z"/><path d="M1204.5 629.3l3.9 3.9l-3.9 3.9l-3.9 -3.9z"/><path d="M1207.1 623l3.9 3.9l-3.9 3.9l-3.9 -3.9z"/><path d="M1209.6 633.3l3.9 3.9l-3.9 3.9l-3.9 -3.9z"/><path d="M1212 642.7l3.9 3.9l-3.9 3.9l-3.9 -3.9z"/><path d="M1214.4 630.3l3.9 3.9l-3.9 3.9l-3.9 -3.9z"/><path d="M1216.7 617.5l3.9 3.9l-3.9 3.9l-3.9 -3.9z"/><path d="M1218.9 638.5l3.9 3.9l-3.9 3.9l-3.9 -3.9z"/><path d="M1221 620.7l3.9 3.9l-3.9 3.9l-3.9 -3.9z"/><path d="M1223.1 631.9l3.9 3.9l-3.9 3.9l-3.9 -3.9z"/><path d="M1225.1 630l3.9 3.9l-3.9 3.9l-3.9 -3.9z"/><path d="M1227 627.1l3.9 3.9l-3.9 3.9l-3.9 -3.9z"/><path d="M1228.9 626l3.9 3.9l-3.9 3.9l-3.9 -3.9z"/><path d="M1230.8 633.8l3.9 3.9l-3.9 3.9l-3.9 -3.9z"/><path d="M1232.6 626.6l3.9 3.9l-3.9 3.9l-3.9 -3.9z"/><path d="M1234.4 624.5l3.9 3.9l-3.9 3.9l-3.9 -3.9z"/><path d="M1236.1 645.3l3.9 3.9l-3.9 3.9l-3.9 -3.9z"/><path d="M1237.8 632.4l3.9 3.9l-3.9 3.9l-3.9 -3.9z"/><path d="M1239.4 617.2l3.9 3.9l-3.9 3.9l-3.9 -3.9z"/><path d="M1241 614.8l3.9 3.9l-3.9 3.9l-3.9 -3.9z"/><path d="M1242.6 611.4l3.9 3.9l-3.9 3.9l-3.9 -3.9z"/><path d="M1244.1 636.3l3.9 3.9l-3.9 3.9l-3.9 -3.9z"/><path d="M1245.6 626.3l3.9 3.9l-3.9 3.9l-3.9 -3.9z"/><path d="M1247.1 639.7l3.9 3.9l-3.9 3.9l-3.9 -3.9z"/><path d="M1248.5 624.9l3.9 3.9l-3.9 3.9l-3.9 -3.9z"/><path d="M1250 623.7l3.9 3.9l-3.9 3.9l-3.9 -3.9z"/><path d="M1251.3 635l3.9 3.9l-3.9 3.9l-3.9 -3.9z"/><path d="M1252.7 637.9l3.9 3.9l-3.9 3.9l-3.9 -3.9z"/><path d="M1254 626.2l3.9 3.9l-3.9 3.9l-3.9 -3.9z"/><path d="M1255.4 623.3l3.9 3.9l-3.9 3.9l-3.9 -3.9z"/><path d="M1256.6 632.6l3.9 3.9l-3.9 3.9l-3.9 -3.9z"/><path d="M1257.9 629.1l3.9 3.9l-3.9 3.9l-3.9 -3.9z"/><path d="M1259.1 644.1l3.9 3.9l-3.9 3.9l-3.9 -3.9z"/><path d="M1260.4 632.1l3.9 3.9l-3.9 3.9l-3.9 -3.9z"/><path d="M1261.6 626.4l3.9 3.9l-3.9 3.9l-3.9 -3.9z"/><path d="M1262.7 626.4l3.9 3.9l-3.9 3.9l-3.9 -3.9z"/><path d="M1263.9 616.9l3.9 3.9l-3.9 3.9l-3.9 -3.9z"/><path d="M1265.1 634.9l3.9 3.9l-3.9 3.9l-3.9 -3.9z"/><path d="M1266.2 642.3l3.9 3.9l-3.9 3.9l-3.9 -3.9z"/><path d="M1267.3 624.4l3.9 3.9l-3.9 3.9l-3.9 -3.9z"/><path d="M1268.4 631.3l3.9 3.9l-3.9 3.9l-3.9 -3.9z"/><path d="M1269.5 625.5l3.9 3.9l-3.9 3.9l-3.9 -3.9z"/><path d="M1270.5 622.7l3.9 3.9l-3.9 3.9l-3.9 -3.9z"/><path d="M1271.6 623.4l3.9 3.9l-3.9 3.9l-3.9 -3.9z"/><path d="M1272.6 617.9l3.9 3.9l-3.9 3.9l-3.9 -3.9z"/><path d="M1273.6 618.5l3.9 3.9l-3.9 3.9l-3.9 -3.9z"/><path d="M1274.6 638.4l3.9 3.9l-3.9 3.9l-3.9 -3.9z"/><path d="M1275.6 627.8l3.9 3.9l-3.9 3.9l-3.9 -3.9z"/><path d="M1276.5 614.2l3.9 3.9l-3.9 3.9l-3.9 -3.9z"/><path d="M1277.5 630.1l3.9 3.9l-3.9 3.9l-3.9 -3.9z"/><path d="M1278.5 621l3.9 3.9l-3.9 3.9l-3.9 -3.9z"/><path d="M1279.4 627.8l3.9 3.9l-3.9 3.9l-3.9 -3.9z"/><path d="M1280.3 630.2l3.9 3.9l-3.9 3.9l-3.9 -3.9z"/><path d="M1281.2 616.9l3.9 3.9l-3.9 3.9l-3.9 -3.9z"/><path d="M1282.1 620.5l3.9 3.9l-3.9 3.9l-3.9 -3.9z"/><path d="M1283 629l3.9 3.9l-3.9 3.9l-3.9 -3.9z"/><path d="M1283.9 621.4l3.9 3.9l-3.9 3.9l-3.9 -3.9z"/><path d="M1284.7 636.1l3.9 3.9l-3.9 3.9l-3.9 -3.9z"/><path d="M1285.6 632.2l3.9 3.9l-3.9 3.9l-3.9 -3.9z"/><path d="M1286.5 621.4l3.9 3.9l-3.9 3.9l-3.9 -3.9z"/><path d="M1287.3 627.1l3.9 3.9l-3.9 3.9l-3.9 -3.9z"/><path d="M1288.1 634.4l3.9 3.9l-3.9 3.9l-3.9 -3.9z"/><path d="M1288.9 624.4l3.9 3.9l-3.9 3.9l-3.9 -3.9z"/><path d="M1289.7 625.2l3.9 3.9l-3.9 3.9l-3.9 -3.9z"/><path d="M1290.5 618.9l3.9 3.9l-3.9 3.9l-3.9 -3.9z"/><path d="M1291.3 621.1l3.9 3.9l-3.9 3.9l-3.9 -3.9z"/><path d="M1292.1 629.2l3.9 3.9l-3.9 3.9l-3.9 -3.9z"/><path d="M1292.9 630.6l3.9 3.9l-3.9 3.9l-3.9 -3.9z"/><path d="M1293.6 628.3l3.9 3.9l-3.9 3.9l-3.9 -3.9z"/><path d="M1294.4 628.9l3.9 3.9l-3.9 3.9l-3.9 -3.9z"/><path d="M1295.1 617.7l3.9 3.9l-3.9 3.9l-3.9 -3.9z"/><path d="M1295.9 616.9l3.9 3.9l-3.9 3.9l-3.9 -3.9z"/><path d="M1296.6 618.4l3.9 3.9l-3.9 3.9l-3.9 -3.9z"/><path d="M1297.3 624.9l3.9 3.9l-3.9 3.9l-3.9 -3.9z"/><path d="M1298.1 629l3.9 3.9l-3.9 3.9l-3.9 -3.9z"/><path d="M1298.8 621.4l3.9 3.9l-3.9 3.9l-3.9 -3.9z"/><path d="M1299.5 629.7l3.9 3.9l-3.9 3.9l-3.9 -3.9z"/><path d="M1300.2 625.8l3.9 3.9l-3.9 3.9l-3.9 -3.9z"/><path d="M1300.9 638.4l3.9 3.9l-3.9 3.9l-3.9 -3.9z"/><path d="M1301.5 630.2l3.9 3.9l-3.9 3.9l-3.9 -3.9z"/><path d="M1302.2 617.9l3.9 3.9l-3.9 3.9l-3.9 -3.9z"/><path d="M1302.9 634.2l3.9 3.9l-3.9 3.9l-3.9 -3.9z"/><path d="M1303.6 637.3l3.9 3.9l-3.9 3.9l-3.9 -3.9z"/><path d="M1304.2 628.5l3.9 3.9l-3.9 3.9l-3.9 -3.9z"/><path d="M1304.9 616.4l3.9 3.9l-3.9 3.9l-3.9 -3.9z"/><path d="M1305.5 617.8l3.9 3.9l-3.9 3.9l-3.9 -3.9z"/><path d="M1306.2 629.8l3.9 3.9l-3.9 3.9l-3.9 -3.9z"/><path d="M1306.8 630.6l3.9 3.9l-3.9 3.9l-3.9 -3.9z"/><path d="M1307.4 628.1l3.9 3.9l-3.9 3.9l-3.9 -3.9z"/><path d="M1308 633.6l3.9 3.9l-3.9 3.9l-3.9 -3.9z"/><path d="M1308.7 627.2l3.9 3.9l-3.9 3.9l-3.9 -3.9z"/><path d="M1309.3 629.4l3.9 3.9l-3.9 3.9l-3.9 -3.9z"/><path d="M1309.9 637.2l3.9 3.9l-3.9 3.9l-3.9 -3.9z"/><path d="M1310.5 631.2l3.9 3.9l-3.9 3.9l-3.9 -3.9z"/><path d="M1311.1 629.1l3.9 3.9l-3.9 3.9l-3.9 -3.9z"/><path d="M1311.7 633.1l3.9 3.9l-3.9 3.9l-3.9 -3.9z"/><path d="M1312.3 634.8l3.9 3.9l-3.9 3.9l-3.9 -3.9z"/><path d="M1312.9 621.4l3.9 3.9l-3.9 3.9l-3.9 -3.9z"/><path d="M1313.4 614.9l3.9 3.9l-3.9 3.9l-3.9 -3.9z"/><path d="M1314 629.3l3.9 3.9l-3.9 3.9l-3.9 -3.9z"/><path d="M1314.6 630.2l3.9 3.9l-3.9 3.9l-3.9 -3.9z"/><path d="M1315.1 624.1l3.9 3.9l-3.9 3.9l-3.9 -3.9z"/><path d="M1315.7 628.9l3.9 3.9l-3.9 3.9l-3.9 -3.9z"/><path d="M1316.3 632.6l3.9 3.9l-3.9 3.9l-3.9 -3.9z"/><path d="M1316.8 618.2l3.9 3.9l-3.9 3.9l-3.9 -3.9z"/><path d="M1317.4 634.3l3.9 3.9l-3.9 3.9l-3.9 -3.9z"/><path d="M1317.9 632.2l3.9 3.9l-3.9 3.9l-3.9 -3.9z"/><path d="M1318.4 631.8l3.9 3.9l-3.9 3.9l-3.9 -3.9z"/><path d="M1319 633.2l3.9 3.9l-3.9 3.9l-3.9 -3.9z"/><path d="M1319.5 629l3.9 3.9l-3.9 3.9l-3.9 -3.9z"/><path d="M1320 623.6l3.9 3.9l-3.9 3.9l-3.9 -3.9z"/><path d="M1320.6 617.9l3.9 3.9l-3.9 3.9l-3.9 -3.9z"/><path d="M1321.1 623l3.9 3.9l-3.9 3.9l-3.9 -3.9z"/><path d="M1321.6 627.2l3.9 3.9l-3.9 3.9l-3.9 -3.9z"/><path d="M1322.1 635.7l3.9 3.9l-3.9 3.9l-3.9 -3.9z"/><path d="M1322.6 627.8l3.9 3.9l-3.9 3.9l-3.9 -3.9z"/><path d="M1323.1 633.6l3.9 3.9l-3.9 3.9l-3.9 -3.9z"/><path d="M1323.6 628l3.9 3.9l-3.9 3.9l-3.9 -3.9z"/><path d="M1324.1 620.9l3.9 3.9l-3.9 3.9l-3.9 -3.9z"/><path d="M1324.6 626.1l3.9 3.9l-3.9 3.9l-3.9 -3.9z"/><path d="M1325.1 628.8l3.9 3.9l-3.9 3.9l-3.9 -3.9z"/><path d="M1325.6 632.4l3.9 3.9l-3.9 3.9l-3.9 -3.9z"/><path d="M1326.1 627.5l3.9 3.9l-3.9 3.9l-3.9 -3.9z"/><path d="M1326.6 626.7l3.9 3.9l-3.9 3.9l-3.9 -3.9z"/><path d="M1327 633.5l3.9 3.9l-3.9 3.9l-3.9 -3.9z"/><path d="M1327.5 630.7l3.9 3.9l-3.9 3.9l-3.9 -3.9z"/><path d="M1328 621.6l3.9 3.9l-3.9 3.9l-3.9 -3.9z"/><path d="M1328.4 638.4l3.9 3.9l-3.9 3.9l-3.9 -3.9z"/><path d="M1328.9 630.3l3.9 3.9l-3.9 3.9l-3.9 -3.9z"/><path d="M1329.4 635.1l3.9 3.9l-3.9 3.9l-3.9 -3.9z"/><path d="M1329.8 617.2l3.9 3.9l-3.9 3.9l-3.9 -3.9z"/><path d="M1330.3 623.4l3.9 3.9l-3.9 3.9l-3.9 -3.9z"/><path d="M1330.7 624l3.9 3.9l-3.9 3.9l-3.9 -3.9z"/><path d="M1331.2 624.8l3.9 3.9l-3.9 3.9l-3.9 -3.9z"/><path d="M1331.6 625.5l3.9 3.9l-3.9 3.9l-3.9 -3.9z"/><path d="M1332.1 625.5l3.9 3.9l-3.9 3.9l-3.9 -3.9z"/><path d="M1332.5 637.9l3.9 3.9l-3.9 3.9l-3.9 -3.9z"/><path d="M1333 625.7l3.9 3.9l-3.9 3.9l-3.9 -3.9z"/><path d="M1333.4 623.5l3.9 3.9l-3.9 3.9l-3.9 -3.9z"/><path d="M1333.8 636.8l3.9 3.9l-3.9 3.9l-3.9 -3.9z"/><path d="M1334.3 622l3.9 3.9l-3.9 3.9l-3.9 -3.9z"/><path d="M1334.7 623l3.9 3.9l-3.9 3.9l-3.9 -3.9z"/><path d="M1335.1 637.5l3.9 3.9l-3.9 3.9l-3.9 -3.9z"/><path d="M1335.5 630.5l3.9 3.9l-3.9 3.9l-3.9 -3.9z"/><path d="M1336 629.4l3.9 3.9l-3.9 3.9l-3.9 -3.9z"/><path d="M1336.4 630.9l3.9 3.9l-3.9 3.9l-3.9 -3.9z"/><path d="M1336.8 624.8l3.9 3.9l-3.9 3.9l-3.9 -3.9z"/><path d="M1337.2 635.8l3.9 3.9l-3.9 3.9l-3.9 -3.9z"/><path d="M1337.6 628.9l3.9 3.9l-3.9 3.9l-3.9 -3.9z"/><path d="M1338 625.9l3.9 3.9l-3.9 3.9l-3.9 -3.9z"/><path d="M1338.4 622.6l3.9 3.9l-3.9 3.9l-3.9 -3.9z"/><path d="M1338.9 627.1l3.9 3.9l-3.9 3.9l-3.9 -3.9z"/><path d="M1339.3 629l3.9 3.9l-3.9 3.9l-3.9 -3.9z"/><path d="M1339.7 622.8l3.9 3.9l-3.9 3.9l-3.9 -3.9z"/><path d="M1340.1 640.5l3.9 3.9l-3.9 3.9l-3.9 -3.9z"/><path d="M1340.4 621.2l3.9 3.9l-3.9 3.9l-3.9 -3.9z"/><path d="M1340.8 629.4l3.9 3.9l-3.9 3.9l-3.9 -3.9z"/><path d="M1341.2 635.7l3.9 3.9l-3.9 3.9l-3.9 -3.9z"/><path d="M1341.6 630.2l3.9 3.9l-3.9 3.9l-3.9 -3.9z"/><path d="M1342 639.5l3.9 3.9l-3.9 3.9l-3.9 -3.9z"/><path d="M1342.4 640.9l3.9 3.9l-3.9 3.9l-3.9 -3.9z"/><path d="M1342.8 629.6l3.9 3.9l-3.9 3.9l-3.9 -3.9z"/><path d="M1343.2 632.5l3.9 3.9l-3.9 3.9l-3.9 -3.9z"/><path d="M1343.5 622.6l3.9 3.9l-3.9 3.9l-3.9 -3.9z"/><path d="M1343.9 633.3l3.9 3.9l-3.9 3.9l-3.9 -3.9z"/><path d="M1344.3 636l3.9 3.9l-3.9 3.9l-3.9 -3.9z"/><path d="M1344.7 633.7l3.9 3.9l-3.9 3.9l-3.9 -3.9z"/><path d="M1345 616.1l3.9 3.9l-3.9 3.9l-3.9 -3.9z"/><path d="M1345.4 627.2l3.9 3.9l-3.9 3.9l-3.9 -3.9z"/><path d="M1345.8 631.4l3.9 3.9l-3.9 3.9l-3.9 -3.9z"/><path d="M1346.1 633.9l3.9 3.9l-3.9 3.9l-3.9 -3.9z"/><path d="M1346.5 634.7l3.9 3.9l-3.9 3.9l-3.9 -3.9z"/><path d="M1346.9 628.5l3.9 3.9l-3.9 3.9l-3.9 -3.9z"/><path d="M1347.2 624.6l3.9 3.9l-3.9 3.9l-3.9 -3.9z"/><path d="M1347.6 619.8l3.9 3.9l-3.9 3.9l-3.9 -3.9z"/><path d="M1347.9 619.8l3.9 3.9l-3.9 3.9l-3.9 -3.9z"/><path d="M1348.3 625.6l3.9 3.9l-3.9 3.9l-3.9 -3.9z"/><path d="M1348.6 631.8l3.9 3.9l-3.9 3.9l-3.9 -3.9z"/><path d="M1349 633.1l3.9 3.9l-3.9 3.9l-3.9 -3.9z"/><path d="M1349.3 642.7l3.9 3.9l-3.9 3.9l-3.9 -3.9z"/><path d="M1349.7 634.1l3.9 3.9l-3.9 3.9l-3.9 -3.9z"/><path d="M1350 624.6l3.9 3.9l-3.9 3.9l-3.9 -3.9z"/><path d="M1350.4 629.6l3.9 3.9l-3.9 3.9l-3.9 -3.9z"/><path d="M1350.7 625l3.9 3.9l-3.9 3.9l-3.9 -3.9z"/><path d="M1351.1 636.3l3.9 3.9l-3.9 3.9l-3.9 -3.9z"/><path d="M1351.4 621.5l3.9 3.9l-3.9 3.9l-3.9 -3.9z"/><path d="M1351.7 625.4l3.9 3.9l-3.9 3.9l-3.9 -3.9z"/><path d="M1352.1 627.1l3.9 3.9l-3.9 3.9l-3.9 -3.9z"/><path d="M1352.4 624.8l3.9 3.9l-3.9 3.9l-3.9 -3.9z"/><path d="M1352.7 642.2l3.9 3.9l-3.9 3.9l-3.9 -3.9z"/><path d="M1353.1 631.1l3.9 3.9l-3.9 3.9l-3.9 -3.9z"/><path d="M1353.4 633.3l3.9 3.9l-3.9 3.9l-3.9 -3.9z"/><path d="M1353.7 615.4l3.9 3.9l-3.9 3.9l-3.9 -3.9z"/><path d="M1354.1 628.6l3.9 3.9l-3.9 3.9l-3.9 -3.9z"/><path d="M1354.4 630.7l3.9 3.9l-3.9 3.9l-3.9 -3.9z"/><path d="M1354.7 621.8l3.9 3.9l-3.9 3.9l-3.9 -3.9z"/><path d="M1355 634.4l3.9 3.9l-3.9 3.9l-3.9 -3.9z"/><path d="M1355.4 618l3.9 3.9l-3.9 3.9l-3.9 -3.9z"/><path d="M1355.7 632l3.9 3.9l-3.9 3.9l-3.9 -3.9z"/><path d="M1356 627.8l3.9 3.9l-3.9 3.9l-3.9 -3.9z"/><path d="M1356.3 633.4l3.9 3.9l-3.9 3.9l-3.9 -3.9z"/><path d="M1356.6 622.1l3.9 3.9l-3.9 3.9l-3.9 -3.9z"/><path d="M1356.9 641.7l3.9 3.9l-3.9 3.9l-3.9 -3.9z"/><path d="M1357.3 622.8l3.9 3.9l-3.9 3.9l-3.9 -3.9z"/><path d="M1357.6 632.8l3.9 3.9l-3.9 3.9l-3.9 -3.9z"/><path d="M1357.9 627.1l3.9 3.9l-3.9 3.9l-3.9 -3.9z"/><path d="M1358.2 635l3.9 3.9l-3.9 3.9l-3.9 -3.9z"/><path d="M1358.5 625.9l3.9 3.9l-3.9 3.9l-3.9 -3.9z"/><path d="M1358.8 626.2l3.9 3.9l-3.9 3.9l-3.9 -3.9z"/><path d="M1359.1 623.5l3.9 3.9l-3.9 3.9l-3.9 -3.9z"/><path d="M1359.4 625.3l3.9 3.9l-3.9 3.9l-3.9 -3.9z"/><path d="M1359.7 623.3l3.9 3.9l-3.9 3.9l-3.9 -3.9z"/><path d="M1360 620.8l3.9 3.9l-3.9 3.9l-3.9 -3.9z"/><path d="M1360.3 630l3.9 3.9l-3.9 3.9l-3.9 -3.9z"/><path d="M1360.6 635.2l3.9 3.9l-3.9 3.9l-3.9 -3.9z"/><path d="M1360.9 635.8l3.9 3.9l-3.9 3.9l-3.9 -3.9z"/><path d="M1361.2 622.9l3.9 3.9l-3.9 3.9l-3.9 -3.9z"/><path d="M1361.5 629.9l3.9 3.9l-3.9 3.9l-3.9 -3.9z"/><path d="M1361.8 620.4l3.9 3.9l-3.9 3.9l-3.9 -3.9z"/><path d="M1362.1 627.1l3.9 3.9l-3.9 3.9l-3.9 -3.9z"/><path d="M1362.4 634.1l3.9 3.9l-3.9 3.9l-3.9 -3.9z"/><path d="M1362.7 621.4l3.9 3.9l-3.9 3.9l-3.9 -3.9z"/><path d="M1362.9 614.6l3.9 3.9l-3.9 3.9l-3.9 -3.9z"/><path d="M1363.2 628.6l3.9 3.9l-3.9 3.9l-3.9 -3.9z"/><path d="M1363.5 633.6l3.9 3.9l-3.9 3.9l-3.9 -3.9z"/><path d="M1363.8 633l3.9 3.9l-3.9 3.9l-3.9 -3.9z"/><path d="M1364.1 621.5l3.9 3.9l-3.9 3.9l-3.9 -3.9z"/><path d="M1364.4 631.3l3.9 3.9l-3.9 3.9l-3.9 -3.9z"/><path d="M1364.7 630.1l3.9 3.9l-3.9 3.9l-3.9 -3.9z"/><path d="M1364.9 622.9l3.9 3.9l-3.9 3.9l-3.9 -3.9z"/><path d="M1365.2 627.3l3.9 3.9l-3.9 3.9l-3.9 -3.9z"/><path d="M1365.5 626.6l3.9 3.9l-3.9 3.9l-3.9 -3.9z"/><path d="M1365.8 631l3.9 3.9l-3.9 3.9l-3.9 -3.9z"/><path d="M1366 631.6l3.9 3.9l-3.9 3.9l-3.9 -3.9z"/><path d="M1366.3 626.3l3.9 3.9l-3.9 3.9l-3.9 -3.9z"/><path d="M1366.6 626.4l3.9 3.9l-3.9 3.9l-3.9 -3.9z"/><path d="M1366.9 623.5l3.9 3.9l-3.9 3.9l-3.9 -3.9z"/><path d="M1367.1 630.7l3.9 3.9l-3.9 3.9l-3.9 -3.9z"/><path d="M1367.4 625.1l3.9 3.9l-3.9 3.9l-3.9 -3.9z"/><path d="M1367.7 624.3l3.9 3.9l-3.9 3.9l-3.9 -3.9z"/><path d="M1368 626.9l3.9 3.9l-3.9 3.9l-3.9 -3.9z"/><path d="M1368.2 623.6l3.9 3.9l-3.9 3.9l-3.9 -3.9z"/><path d="M1368.5 620.7l3.9 3.9l-3.9 3.9l-3.9 -3.9z"/><path d="M1368.8 626.1l3.9 3.9l-3.9 3.9l-3.9 -3.9z"/><path d="M1369 626.9l3.9 3.9l-3.9 3.9l-3.9 -3.9z"/><path d="M1369.3 633.8l3.9 3.9l-3.9 3.9l-3.9 -3.9z"/><path d="M1369.5 625.2l3.9 3.9l-3.9 3.9l-3.9 -3.9z"/><path d="M1369.8 628l3.9 3.9l-3.9 3.9l-3.9 -3.9z"/><path d="M1370.1 629.4l3.9 3.9l-3.9 3.9l-3.9 -3.9z"/><path d="M1370.3 632.9l3.9 3.9l-3.9 3.9l-3.9 -3.9z"/><path d="M1370.6 623.6l3.9 3.9l-3.9 3.9l-3.9 -3.9z"/><path d="M1370.8 610.5l3.9 3.9l-3.9 3.9l-3.9 -3.9z"/><path d="M1371.1 624.5l3.9 3.9l-3.9 3.9l-3.9 -3.9z"/><path d="M1371.4 626.8l3.9 3.9l-3.9 3.9l-3.9 -3.9z"/><path d="M1371.6 624.5l3.9 3.9l-3.9 3.9l-3.9 -3.9z"/><path d="M1371.9 631.3l3.9 3.9l-3.9 3.9l-3.9 -3.9z"/><path d="M1372.1 626.8l3.9 3.9l-3.9 3.9l-3.9 -3.9z"/><path d="M1372.4 631.8l3.9 3.9l-3.9 3.9l-3.9 -3.9z"/><path d="M1372.6 631.6l3.9 3.9l-3.9 3.9l-3.9 -3.9z"/><path d="M1372.9 625.9l3.9 3.9l-3.9 3.9l-3.9 -3.9z"/><path d="M1373.1 625.9l3.9 3.9l-3.9 3.9l-3.9 -3.9z"/><path d="M1373.4 628.1l3.9 3.9l-3.9 3.9l-3.9 -3.9z"/><path d="M1373.6 632.6l3.9 3.9l-3.9 3.9l-3.9 -3.9z"/><path d="M1373.9 625.7l3.9 3.9l-3.9 3.9l-3.9 -3.9z"/><path d="M1374.1 634.6l3.9 3.9l-3.9 3.9l-3.9 -3.9z"/><path d="M1374.4 622.3l3.9 3.9l-3.9 3.9l-3.9 -3.9z"/><path d="M1374.6 629.7l3.9 3.9l-3.9 3.9l-3.9 -3.9z"/><path d="M1374.9 627.4l3.9 3.9l-3.9 3.9l-3.9 -3.9z"/><path d="M1375.1 622.2l3.9 3.9l-3.9 3.9l-3.9 -3.9z"/><path d="M1375.3 623.7l3.9 3.9l-3.9 3.9l-3.9 -3.9z"/><path d="M1375.6 635.9l3.9 3.9l-3.9 3.9l-3.9 -3.9z"/><path d="M1375.8 629l3.9 3.9l-3.9 3.9l-3.9 -3.9z"/><path d="M1376.1 625l3.9 3.9l-3.9 3.9l-3.9 -3.9z"/><path d="M1376.3 634.6l3.9 3.9l-3.9 3.9l-3.9 -3.9z"/><path d="M1376.5 643.3l3.9 3.9l-3.9 3.9l-3.9 -3.9z"/></g>
</g>
<path d="M903.6 631.3H1397.5" stroke="#000" stroke-width="3.4" stroke-dasharray="3.15 3.5"/>
<path d="M969.3 462.9l9 9l-9 9l-9 -9z" fill="#e4493a"/>
<path d="M1018.8 508.3l9 9l-9 9l-9 -9z" fill="#e4493a"/>
<path d="M1084.2 593.1l9 9l-9 9l-9 -9z" fill="#e4493a"/>
<path d="M1108.3 578.3l9 9l-9 9l-9 -9z" fill="#e4493a"/>
<path d="M1162.7 593.1l9 9l-9 9l-9 -9z" fill="#e4493a"/>
<path d="M902.6 410.6V741.5H1396.8" fill="none" stroke="#000" stroke-width="2"/>
<path d="M902.6 411.1H910.1" stroke="#000" stroke-width="1.5"/>
<text x="894" y="418.3" font-size="21" text-anchor="end">1.8</text>
<path d="M902.6 521.2H910.1" stroke="#000" stroke-width="1.5"/>
<text x="894" y="528.4" font-size="21" text-anchor="end">1.4</text>
<path d="M902.6 631.3H910.1" stroke="#000" stroke-width="1.5"/>
<text x="894" y="638.5" font-size="21" text-anchor="end">1.0</text>
<text x="894" y="747.2" font-size="21" text-anchor="end">0.6</text>
<path d="M952.1 741.5V737.6" stroke="#000" stroke-width="1.1"/>
<path d="M981.1 741.5V737.6" stroke="#000" stroke-width="1.1"/>
<path d="M1001.6 741.5V737.6" stroke="#000" stroke-width="1.1"/>
<path d="M1017.6 741.5V737.6" stroke="#000" stroke-width="1.1"/>
<path d="M1030.6 741.5V737.6" stroke="#000" stroke-width="1.1"/>
<path d="M1041.6 741.5V737.6" stroke="#000" stroke-width="1.1"/>
<path d="M1051.2 741.5V737.6" stroke="#000" stroke-width="1.1"/>
<path d="M1059.6 741.5V737.6" stroke="#000" stroke-width="1.1"/>
<text x="883.2" y="768.6" font-size="21">10<tspan font-size="14.3" dy="-9">−5</tspan></text>
<path d="M1067.1 741.5V734" stroke="#000" stroke-width="1.5"/>
<path d="M1116.6 741.5V737.6" stroke="#000" stroke-width="1.1"/>
<path d="M1145.6 741.5V737.6" stroke="#000" stroke-width="1.1"/>
<path d="M1166.1 741.5V737.6" stroke="#000" stroke-width="1.1"/>
<path d="M1182.1 741.5V737.6" stroke="#000" stroke-width="1.1"/>
<path d="M1195.1 741.5V737.6" stroke="#000" stroke-width="1.1"/>
<path d="M1206.1 741.5V737.6" stroke="#000" stroke-width="1.1"/>
<path d="M1215.7 741.5V737.6" stroke="#000" stroke-width="1.1"/>
<path d="M1224.1 741.5V737.6" stroke="#000" stroke-width="1.1"/>
<text x="1047.7" y="768.6" font-size="21">10<tspan font-size="14.3" dy="-9">−4</tspan></text>
<path d="M1231.6 741.5V734" stroke="#000" stroke-width="1.5"/>
<path d="M1281.1 741.5V737.6" stroke="#000" stroke-width="1.1"/>
<path d="M1310.1 741.5V737.6" stroke="#000" stroke-width="1.1"/>
<path d="M1330.6 741.5V737.6" stroke="#000" stroke-width="1.1"/>
<path d="M1346.6 741.5V737.6" stroke="#000" stroke-width="1.1"/>
<path d="M1359.6 741.5V737.6" stroke="#000" stroke-width="1.1"/>
<path d="M1370.6 741.5V737.6" stroke="#000" stroke-width="1.1"/>
<path d="M1380.2 741.5V737.6" stroke="#000" stroke-width="1.1"/>
<path d="M1388.6 741.5V737.6" stroke="#000" stroke-width="1.1"/>
<text x="1212.2" y="768.6" font-size="21">10<tspan font-size="14.3" dy="-9">−3</tspan></text>
<path d="M1395.8 741.5V734" stroke="#000" stroke-width="1.5"/>
<text x="1376.7" y="768.6" font-size="21">10<tspan font-size="14.3" dy="-9">−2</tspan></text>
<text x="836.6" y="416" font-size="41" class="b">e</text>
<text x="851.3" y="576.2" font-size="21" text-anchor="middle" transform="rotate(-90 851.3 576.2)">Spectral power</text>
<text x="1145" y="799.9" font-size="21" text-anchor="middle">Frequency (Hz)</text>
<rect x="1151.4" y="421.4" width="235" height="89.9" rx="3.5" fill="#fff" stroke="#1a1a1a" stroke-width="1.2"/>
<path d="M1159 436.4H1200" stroke="#000" stroke-width="3" stroke-dasharray="3.2 3.6"/>
<path d="M1179.5 456.9l8.9 8.9l-8.9 8.9l-8.9 -8.9z" fill="#e4493a"/>
<circle cx="1179.5" cy="494.4" r="7.6" fill="#4a9cf4"/>
<text x="1207.4" y="441.9" font-size="16.5" textLength="148.6">Expected shot noice</text>
<text x="1207.4" y="471" font-size="16.5">Experiment 1</text>
<text x="1207.4" y="500" font-size="16.5">Experiment 2</text>
</svg>
</body></html>
